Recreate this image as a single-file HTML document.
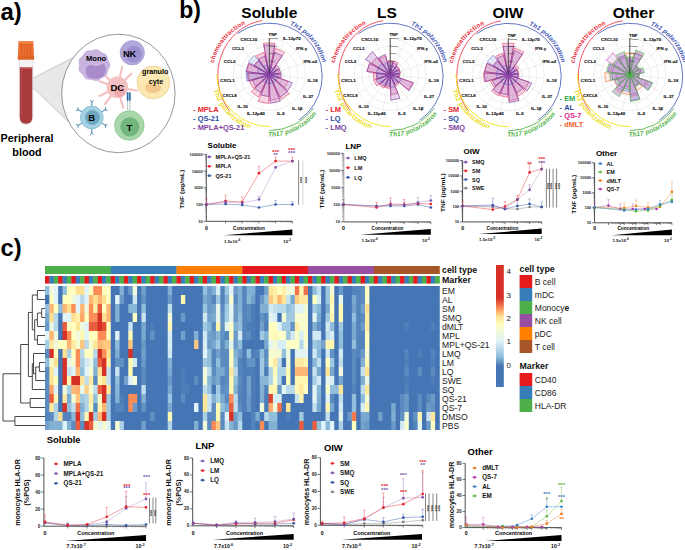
<!DOCTYPE html>
<html><head><meta charset="utf-8"><style>
html,body{margin:0;padding:0;background:#fff;}
svg{display:block;font-family:"Liberation Sans", sans-serif;}
</style></head><body>
<svg width="685" height="550" viewBox="0 0 685 550">
<text x="0.40" y="20.40" font-size="24" font-weight="bold" fill="#000" text-anchor="start" >a)</text>
<polygon points="26.4,81.5 76,56 78,131" fill="#E7E8EA" stroke="#A0A0A0" stroke-width="0.5"/>
<path d="M19.2,58 L19.2,117 Q19.2,124.6 26,124.6 Q32.8,124.6 32.8,117 L32.8,58 Z" fill="#F4F4F4" stroke="#D0D0D0" stroke-width="0.6"/>
<path d="M19.8,67.5 L19.8,117 Q19.8,123.8 26,123.8 Q32.3,123.8 32.3,117 L32.3,67.5 Z" fill="#A83A3E"/>
<rect x="19.8" y="67.3" width="12.5" height="1.5" fill="#C25A5C"/>
<line x1="21.6" y1="70" x2="21.6" y2="116" stroke="#C26466" stroke-width="0.5"/>
<path d="M18.6,41 L33.2,41 L34.1,59.5 L17.8,59.5 Z" fill="#EA6C2D"/>
<rect x="18.6" y="41" width="14.6" height="2.6" rx="1" fill="#F28549"/>
<line x1="18.8" y1="45.2" x2="33.4" y2="45.2" stroke="#D65E22" stroke-width="0.5"/>
<rect x="17.8" y="56.3" width="16.3" height="3.2" fill="#DC6326"/>
<line x1="21.5" y1="44" x2="21.5" y2="56.5" stroke="#D05E26" stroke-width="0.5"/>
<line x1="24.5" y1="44" x2="24.5" y2="56.5" stroke="#D05E26" stroke-width="0.5"/>
<line x1="27.5" y1="44" x2="27.5" y2="56.5" stroke="#D05E26" stroke-width="0.5"/>
<line x1="30.5" y1="44" x2="30.5" y2="56.5" stroke="#D05E26" stroke-width="0.5"/>
<text x="27.00" y="141.90" font-size="10.8" font-weight="bold" fill="#000" text-anchor="middle" >Peripheral</text>
<text x="27.00" y="155.80" font-size="10.8" font-weight="bold" fill="#000" text-anchor="middle" >blood</text>
<ellipse cx="118.4" cy="93.45" rx="56.7" ry="59.25" fill="#fff" stroke="#6A6A6A" stroke-width="0.7"/>
<polygon points="94.10,49.90 96.16,49.48 98.14,50.01 99.83,51.27 101.40,52.46 103.21,53.22 105.15,54.05 106.60,55.51 107.26,57.50 107.63,59.50 108.37,61.28 109.40,63.09 109.90,65.10 109.40,67.11 108.37,68.92 107.63,70.70 107.26,72.70 106.60,74.69 105.15,76.15 103.21,76.98 101.40,77.74 99.83,78.93 98.14,80.19 96.16,80.72 94.10,80.30 92.19,79.62 90.28,79.37 88.20,79.36 86.20,78.78 84.71,77.34 83.65,75.55 82.48,74.02 80.94,72.70 79.54,71.13 79.01,69.14 79.26,67.05 79.50,65.10 79.26,63.15 79.01,61.06 79.54,59.07 80.94,57.50 82.48,56.18 83.65,54.65 84.71,52.86 86.20,51.42 88.20,50.84 90.28,50.83 92.19,50.58" fill="#C8B2DE" stroke="#BBA3D6" stroke-width="0.6"/>
<path d="M86,70 C86,65.5 90,64 94,65.5 C98,67 101,65 103.5,63.5 C106.5,66 106.5,73 103,76.5 C99,79.5 91,79.5 88,77 C86.3,75 85.8,72.5 86,70 Z" fill="#A98BCB"/>
<text x="96.10" y="61.30" font-size="7.6" font-weight="bold" fill="#000" text-anchor="middle" >Mono</text>
<circle cx="132.3" cy="52.8" r="12.2" fill="#B3A8DC" stroke="#A397D2" stroke-width="0.6"/>
<circle cx="133.6" cy="54.2" r="8.2" fill="#9D90D0"/>
<text x="129.60" y="56.90" font-size="9.3" font-weight="bold" fill="#000" text-anchor="middle" >NK</text>
<circle cx="153.4" cy="82.5" r="16.4" fill="#FCE8B2" stroke="#E9CC8A" stroke-width="0.7"/>
<path d="M145.5,86 C147,82 151,83 154,85 C157,83 162,85 161,89 C159,93 152,94 148,92 C145.5,90.5 144.8,88 145.5,86 Z" fill="#F4C88C"/>
<text x="155.20" y="73.70" font-size="7.2" font-weight="bold" fill="#000" text-anchor="middle" >granulo</text>
<text x="156.00" y="83.50" font-size="7.2" font-weight="bold" fill="#000" text-anchor="middle" >cyte</text>
<line x1="117.3" y1="87.3" x2="122.3" y2="66.8" stroke="#F5C2C4" stroke-width="2.2" stroke-linecap="round"/>
<line x1="117.3" y1="87.3" x2="131.4" y2="73.6" stroke="#F5C2C4" stroke-width="2.2" stroke-linecap="round"/>
<line x1="117.3" y1="87.3" x2="99.5" y2="81.4" stroke="#F5C2C4" stroke-width="2.2" stroke-linecap="round"/>
<line x1="117.3" y1="87.3" x2="99.5" y2="96" stroke="#F5C2C4" stroke-width="2.2" stroke-linecap="round"/>
<line x1="117.3" y1="87.3" x2="105" y2="104" stroke="#F5C2C4" stroke-width="2.2" stroke-linecap="round"/>
<line x1="117.3" y1="87.3" x2="123.2" y2="107.7" stroke="#F5C2C4" stroke-width="2.2" stroke-linecap="round"/>
<line x1="117.3" y1="87.3" x2="136.8" y2="90.5" stroke="#F5C2C4" stroke-width="2.2" stroke-linecap="round"/>
<line x1="117.3" y1="87.3" x2="105.9" y2="76.4" stroke="#F5C2C4" stroke-width="2.2" stroke-linecap="round"/>
<circle cx="117.3" cy="87.3" r="10.8" fill="#F5C2C4"/>
<circle cx="119.5" cy="91.5" r="5.5" fill="#EFA9AE"/>
<text x="117.30" y="90.90" font-size="9.5" font-weight="bold" fill="#000" text-anchor="middle" >DC</text>
<line x1="127.6" y1="100.5" x2="127.6" y2="110" stroke="#9AA" stroke-width="0.7"/><line x1="129.9" y1="100.5" x2="129.9" y2="110" stroke="#9AA" stroke-width="0.7"/>
<rect x="126.8" y="92.3" width="1.7" height="8.4" fill="#2466A0"/><rect x="129.1" y="92.3" width="1.6" height="8.4" fill="#2466A0"/>
<line x1="91.8" y1="106.5" x2="91.8" y2="102.0" stroke="#3A7FAA" stroke-width="1"/>
<polyline points="90.1,100.3 91.8,102.0 93.5,100.3" fill="none" stroke="#3A7FAA" stroke-width="1"/>
<line x1="101.3" y1="112.0" x2="105.2" y2="109.8" stroke="#3A7FAA" stroke-width="1"/>
<polyline points="105.8,107.4 105.2,109.8 107.5,110.4" fill="none" stroke="#3A7FAA" stroke-width="1"/>
<line x1="101.3" y1="123.0" x2="105.2" y2="125.2" stroke="#3A7FAA" stroke-width="1"/>
<polyline points="107.5,124.6 105.2,125.2 105.8,127.6" fill="none" stroke="#3A7FAA" stroke-width="1"/>
<line x1="91.8" y1="128.5" x2="91.8" y2="133.0" stroke="#3A7FAA" stroke-width="1"/>
<polyline points="93.5,134.7 91.8,133.0 90.1,134.7" fill="none" stroke="#3A7FAA" stroke-width="1"/>
<line x1="82.3" y1="123.0" x2="78.4" y2="125.2" stroke="#3A7FAA" stroke-width="1"/>
<polyline points="77.8,127.6 78.4,125.2 76.1,124.6" fill="none" stroke="#3A7FAA" stroke-width="1"/>
<line x1="82.3" y1="112.0" x2="78.4" y2="109.8" stroke="#3A7FAA" stroke-width="1"/>
<polyline points="76.1,110.4 78.4,109.8 77.8,107.4" fill="none" stroke="#3A7FAA" stroke-width="1"/>
<circle cx="91.8" cy="117.5" r="11.4" fill="#A3D2E2" stroke="#7DB6CC" stroke-width="0.7"/>
<circle cx="92.5" cy="117.5" r="7.4" fill="#6FA7C0"/>
<text x="91.80" y="121.00" font-size="9.5" font-weight="bold" fill="#000" text-anchor="middle" >B</text>
<circle cx="129.3" cy="125.5" r="14.8" fill="#A9D7AB" stroke="#85C18B" stroke-width="0.7"/>
<circle cx="129.8" cy="126.8" r="9.6" fill="#72B67E"/>
<text x="129.50" y="130.50" font-size="9.5" font-weight="bold" fill="#000" text-anchor="middle" >T</text>
<text x="179.30" y="17.60" font-size="23" font-weight="bold" fill="#000" text-anchor="start" >b)</text>
<text x="269.30" y="17.60" font-size="15.5" font-weight="bold" fill="#000" text-anchor="middle" >Soluble</text>
<circle cx="269.3" cy="74.6" r="36" fill="none" stroke="#E2E2E2" stroke-width="0.6"/>
<circle cx="269.3" cy="74.6" r="28.5" fill="none" stroke="#E2E2E2" stroke-width="0.6"/>
<circle cx="269.3" cy="74.6" r="21" fill="none" stroke="#E2E2E2" stroke-width="0.6"/>
<circle cx="269.3" cy="74.6" r="13.7" fill="none" stroke="#E2E2E2" stroke-width="0.6"/>
<line x1="269.3" y1="74.6" x2="269.30" y2="38.60" stroke="#E2E2E2" stroke-width="0.55"/>
<line x1="269.3" y1="74.6" x2="283.94" y2="41.71" stroke="#E2E2E2" stroke-width="0.55"/>
<line x1="269.3" y1="74.6" x2="296.05" y2="50.51" stroke="#E2E2E2" stroke-width="0.55"/>
<line x1="269.3" y1="74.6" x2="303.54" y2="63.48" stroke="#E2E2E2" stroke-width="0.55"/>
<line x1="269.3" y1="74.6" x2="305.10" y2="78.36" stroke="#E2E2E2" stroke-width="0.55"/>
<line x1="269.3" y1="74.6" x2="300.48" y2="92.60" stroke="#E2E2E2" stroke-width="0.55"/>
<line x1="269.3" y1="74.6" x2="290.46" y2="103.72" stroke="#E2E2E2" stroke-width="0.55"/>
<line x1="269.3" y1="74.6" x2="276.78" y2="109.81" stroke="#E2E2E2" stroke-width="0.55"/>
<line x1="269.3" y1="74.6" x2="261.82" y2="109.81" stroke="#E2E2E2" stroke-width="0.55"/>
<line x1="269.3" y1="74.6" x2="248.14" y2="103.72" stroke="#E2E2E2" stroke-width="0.55"/>
<line x1="269.3" y1="74.6" x2="238.12" y2="92.60" stroke="#E2E2E2" stroke-width="0.55"/>
<line x1="269.3" y1="74.6" x2="233.50" y2="78.36" stroke="#E2E2E2" stroke-width="0.55"/>
<line x1="269.3" y1="74.6" x2="235.06" y2="63.48" stroke="#E2E2E2" stroke-width="0.55"/>
<line x1="269.3" y1="74.6" x2="242.55" y2="50.51" stroke="#E2E2E2" stroke-width="0.55"/>
<line x1="269.3" y1="74.6" x2="254.66" y2="41.71" stroke="#E2E2E2" stroke-width="0.55"/>
<path d="M269.3,74.6 L263.47,43.14 L275.13,43.14 Z" fill="#F084B4" fill-opacity="0.32" stroke="#E03C64" stroke-width="0.6" stroke-linejoin="round"/>
<path d="M269.3,74.6 L275.60,48.35 L284.59,52.35 Z" fill="#F084B4" fill-opacity="0.32" stroke="#E03C64" stroke-width="0.6" stroke-linejoin="round"/>
<path d="M269.3,74.6 L275.39,66.67 L277.83,69.38 Z" fill="#F084B4" fill-opacity="0.32" stroke="#E03C64" stroke-width="0.6" stroke-linejoin="round"/>
<path d="M269.3,74.6 L278.09,69.83 L279.21,73.29 Z" fill="#F084B4" fill-opacity="0.32" stroke="#E03C64" stroke-width="0.6" stroke-linejoin="round"/>
<path d="M269.3,74.6 L280.27,73.74 L279.85,77.72 Z" fill="#F084B4" fill-opacity="0.32" stroke="#E03C64" stroke-width="0.6" stroke-linejoin="round"/>
<path d="M269.3,74.6 L288.15,81.28 L284.51,87.59 Z" fill="#F084B4" fill-opacity="0.32" stroke="#E03C64" stroke-width="0.6" stroke-linejoin="round"/>
<path d="M269.3,74.6 L289.25,93.53 L281.14,99.42 Z" fill="#F084B4" fill-opacity="0.32" stroke="#E03C64" stroke-width="0.6" stroke-linejoin="round"/>
<path d="M269.3,74.6 L279.25,98.62 L269.98,100.59 Z" fill="#F084B4" fill-opacity="0.32" stroke="#E03C64" stroke-width="0.6" stroke-linejoin="round"/>
<path d="M269.3,74.6 L268.54,103.59 L258.20,101.39 Z" fill="#F084B4" fill-opacity="0.32" stroke="#E03C64" stroke-width="0.6" stroke-linejoin="round"/>
<path d="M269.3,74.6 L258.54,97.16 L251.17,91.81 Z" fill="#F084B4" fill-opacity="0.32" stroke="#E03C64" stroke-width="0.6" stroke-linejoin="round"/>
<path d="M269.3,74.6 L253.33,88.24 L249.50,81.61 Z" fill="#F084B4" fill-opacity="0.32" stroke="#E03C64" stroke-width="0.6" stroke-linejoin="round"/>
<path d="M269.3,74.6 L249.16,80.56 L248.36,72.95 Z" fill="#F084B4" fill-opacity="0.32" stroke="#E03C64" stroke-width="0.6" stroke-linejoin="round"/>
<path d="M269.3,74.6 L246.50,71.60 L249.09,63.63 Z" fill="#F084B4" fill-opacity="0.32" stroke="#E03C64" stroke-width="0.6" stroke-linejoin="round"/>
<path d="M269.3,74.6 L254.81,65.72 L258.95,61.11 Z" fill="#F084B4" fill-opacity="0.32" stroke="#E03C64" stroke-width="0.6" stroke-linejoin="round"/>
<path d="M269.3,74.6 L256.27,55.65 L263.93,52.24 Z" fill="#F084B4" fill-opacity="0.32" stroke="#E03C64" stroke-width="0.6" stroke-linejoin="round"/>
<path d="M269.3,74.6 L267.84,66.73 L270.76,66.73 Z" fill="#9AA4E4" fill-opacity="0.22" stroke="#5566C8" stroke-width="0.55" stroke-linejoin="round"/>
<path d="M269.3,74.6 L270.93,67.79 L273.26,68.83 Z" fill="#9AA4E4" fill-opacity="0.22" stroke="#5566C8" stroke-width="0.55" stroke-linejoin="round"/>
<path d="M269.3,74.6 L274.17,68.25 L276.12,70.42 Z" fill="#9AA4E4" fill-opacity="0.22" stroke="#5566C8" stroke-width="0.55" stroke-linejoin="round"/>
<path d="M269.3,74.6 L275.45,71.26 L276.24,73.69 Z" fill="#9AA4E4" fill-opacity="0.22" stroke="#5566C8" stroke-width="0.55" stroke-linejoin="round"/>
<path d="M269.3,74.6 L278.27,73.89 L277.93,77.16 Z" fill="#9AA4E4" fill-opacity="0.22" stroke="#5566C8" stroke-width="0.55" stroke-linejoin="round"/>
<path d="M269.3,74.6 L277.78,77.60 L276.14,80.45 Z" fill="#9AA4E4" fill-opacity="0.22" stroke="#5566C8" stroke-width="0.55" stroke-linejoin="round"/>
<path d="M269.3,74.6 L275.83,80.80 L273.17,82.72 Z" fill="#9AA4E4" fill-opacity="0.22" stroke="#5566C8" stroke-width="0.55" stroke-linejoin="round"/>
<path d="M269.3,74.6 L272.74,82.91 L269.54,83.60 Z" fill="#9AA4E4" fill-opacity="0.22" stroke="#5566C8" stroke-width="0.55" stroke-linejoin="round"/>
<path d="M269.3,74.6 L269.06,83.60 L265.86,82.91 Z" fill="#9AA4E4" fill-opacity="0.22" stroke="#5566C8" stroke-width="0.55" stroke-linejoin="round"/>
<path d="M269.3,74.6 L265.43,82.72 L262.77,80.80 Z" fill="#9AA4E4" fill-opacity="0.22" stroke="#5566C8" stroke-width="0.55" stroke-linejoin="round"/>
<path d="M269.3,74.6 L263.22,79.80 L261.76,77.27 Z" fill="#9AA4E4" fill-opacity="0.22" stroke="#5566C8" stroke-width="0.55" stroke-linejoin="round"/>
<path d="M269.3,74.6 L246.86,81.25 L245.97,72.76 Z" fill="#9AA4E4" fill-opacity="0.22" stroke="#5566C8" stroke-width="0.55" stroke-linejoin="round"/>
<path d="M269.3,74.6 L257.40,73.03 L258.75,68.87 Z" fill="#9AA4E4" fill-opacity="0.22" stroke="#5566C8" stroke-width="0.55" stroke-linejoin="round"/>
<path d="M269.3,74.6 L248.50,61.85 L254.45,55.24 Z" fill="#9AA4E4" fill-opacity="0.22" stroke="#5566C8" stroke-width="0.55" stroke-linejoin="round"/>
<path d="M269.3,74.6 L263.64,66.36 L266.97,64.88 Z" fill="#9AA4E4" fill-opacity="0.22" stroke="#5566C8" stroke-width="0.55" stroke-linejoin="round"/>
<path d="M269.3,74.6 L263.83,45.10 L274.77,45.10 Z" fill="#A060BC" fill-opacity="0.25" stroke="#88369A" stroke-width="0.65" stroke-linejoin="round"/>
<path d="M269.3,74.6 L274.67,52.24 L282.33,55.65 Z" fill="#A060BC" fill-opacity="0.25" stroke="#88369A" stroke-width="0.65" stroke-linejoin="round"/>
<path d="M269.3,74.6 L276.61,65.08 L279.53,68.33 Z" fill="#A060BC" fill-opacity="0.25" stroke="#88369A" stroke-width="0.65" stroke-linejoin="round"/>
<path d="M269.3,74.6 L279.41,69.11 L280.70,73.10 Z" fill="#A060BC" fill-opacity="0.25" stroke="#88369A" stroke-width="0.65" stroke-linejoin="round"/>
<path d="M269.3,74.6 L281.26,73.66 L280.81,78.01 Z" fill="#A060BC" fill-opacity="0.25" stroke="#88369A" stroke-width="0.65" stroke-linejoin="round"/>
<path d="M269.3,74.6 L292.39,82.78 L287.93,90.51 Z" fill="#A060BC" fill-opacity="0.25" stroke="#88369A" stroke-width="0.65" stroke-linejoin="round"/>
<path d="M269.3,74.6 L287.43,91.81 L280.06,97.16 Z" fill="#A060BC" fill-opacity="0.25" stroke="#88369A" stroke-width="0.65" stroke-linejoin="round"/>
<path d="M269.3,74.6 L280.28,101.12 L270.05,103.29 Z" fill="#A060BC" fill-opacity="0.25" stroke="#88369A" stroke-width="0.65" stroke-linejoin="round"/>
<path d="M269.3,74.6 L268.72,96.59 L260.88,94.93 Z" fill="#A060BC" fill-opacity="0.25" stroke="#88369A" stroke-width="0.65" stroke-linejoin="round"/>
<path d="M269.3,74.6 L260.69,92.65 L254.79,88.37 Z" fill="#A060BC" fill-opacity="0.25" stroke="#88369A" stroke-width="0.65" stroke-linejoin="round"/>
<path d="M269.3,74.6 L255.61,86.29 L252.33,80.61 Z" fill="#A060BC" fill-opacity="0.25" stroke="#88369A" stroke-width="0.65" stroke-linejoin="round"/>
<path d="M269.3,74.6 L248.21,80.85 L247.37,72.87 Z" fill="#A060BC" fill-opacity="0.25" stroke="#88369A" stroke-width="0.65" stroke-linejoin="round"/>
<path d="M269.3,74.6 L245.90,71.52 L248.56,63.34 Z" fill="#A060BC" fill-opacity="0.25" stroke="#88369A" stroke-width="0.65" stroke-linejoin="round"/>
<path d="M269.3,74.6 L253.95,65.20 L258.34,60.32 Z" fill="#A060BC" fill-opacity="0.25" stroke="#88369A" stroke-width="0.65" stroke-linejoin="round"/>
<path d="M269.3,74.6 L258.54,58.94 L264.86,56.12 Z" fill="#A060BC" fill-opacity="0.25" stroke="#88369A" stroke-width="0.65" stroke-linejoin="round"/>
<circle cx="269.3" cy="74.6" r="2.6" fill="#8E44AD"/>
<line x1="269.3" y1="74.6" x2="269.3" y2="37.99999999999999" stroke="#333" stroke-width="0.85"/>
<line x1="269.3" y1="60.80" x2="270.5" y2="60.80" stroke="#333" stroke-width="0.6"/>
<text x="270.40" y="61.60" font-size="2.3" font-weight="bold" fill="#444">100</text>
<line x1="269.3" y1="53.40" x2="270.5" y2="53.40" stroke="#333" stroke-width="0.6"/>
<text x="270.40" y="54.20" font-size="2.3" font-weight="bold" fill="#444">1000</text>
<line x1="269.3" y1="46.10" x2="270.5" y2="46.10" stroke="#333" stroke-width="0.6"/>
<text x="270.40" y="46.90" font-size="2.3" font-weight="bold" fill="#444">10000</text>
<line x1="269.3" y1="38.60" x2="270.5" y2="38.60" stroke="#333" stroke-width="0.6"/>
<text x="270.40" y="39.40" font-size="2.3" font-weight="bold" fill="#444">100000</text>
<text x="272.80" y="36.40" font-size="4.4" font-weight="bold" fill="#111" text-anchor="middle" stroke="#111" stroke-width="0.12">TNF</text>
<text x="291.80" y="40.40" font-size="4.4" font-weight="bold" fill="#111" text-anchor="middle" stroke="#111" stroke-width="0.12">IL-12p70</text>
<text x="301.60" y="50.00" font-size="4.4" font-weight="bold" fill="#111" text-anchor="middle" stroke="#111" stroke-width="0.12">IFN-γ</text>
<text x="310.30" y="63.10" font-size="4.4" font-weight="bold" fill="#111" text-anchor="middle" stroke="#111" stroke-width="0.12">IFN-α2</text>
<text x="312.60" y="81.80" font-size="4.4" font-weight="bold" fill="#111" text-anchor="middle" stroke="#111" stroke-width="0.12">IL-18</text>
<text x="308.20" y="97.50" font-size="4.4" font-weight="bold" fill="#111" text-anchor="middle" stroke="#111" stroke-width="0.12">IL-27</text>
<text x="297.30" y="109.50" font-size="4.4" font-weight="bold" fill="#111" text-anchor="middle" stroke="#111" stroke-width="0.12">IL-1β</text>
<text x="280.90" y="115.00" font-size="4.4" font-weight="bold" fill="#111" text-anchor="middle" stroke="#111" stroke-width="0.12">IL-6</text>
<text x="255.80" y="115.00" font-size="4.4" font-weight="bold" fill="#111" text-anchor="middle" stroke="#111" stroke-width="0.12">IL-12p40</text>
<text x="242.70" y="108.00" font-size="4.4" font-weight="bold" fill="#111" text-anchor="middle" stroke="#111" stroke-width="0.12">IL-10</text>
<text x="229.60" y="96.90" font-size="4.4" font-weight="bold" fill="#111" text-anchor="middle" stroke="#111" stroke-width="0.12">CXCL8</text>
<text x="227.50" y="81.80" font-size="4.4" font-weight="bold" fill="#111" text-anchor="middle" stroke="#111" stroke-width="0.12">CXCL1</text>
<text x="229.60" y="63.10" font-size="4.4" font-weight="bold" fill="#111" text-anchor="middle" stroke="#111" stroke-width="0.12">CCL2</text>
<text x="237.90" y="50.00" font-size="4.4" font-weight="bold" fill="#111" text-anchor="middle" stroke="#111" stroke-width="0.12">CCL3</text>
<text x="248.80" y="40.80" font-size="4.4" font-weight="bold" fill="#111" text-anchor="middle" stroke="#111" stroke-width="0.12">CXCL10</text>
<path d="M229.28,110.53 A51.5,55.5 0 0 1 262.13,20.64" fill="none" stroke="#EE2D3A" stroke-width="0.8"/>
<path d="M237.40,33.77 A53,53 0 1 1 298.94,120.04" fill="none" stroke="#3B53B5" stroke-width="0.8"/>
<path d="M216.80,74.10 A53,52.5 0 0 0 269.80,126.60" fill="none" stroke="#F2E61A" stroke-width="0.9"/>
<path d="M269.30,130.60 A54.5,54.5 0 0 0 313.39,108.13" fill="none" stroke="#55B54A" stroke-width="0.9"/>
<path id="ap1" d="M213.76,63.28 A57.0,57.0 0 0 1 268.31,19.11" fill="none"/>
<text font-size="6.4" font-weight="bold" font-style="normal" letter-spacing="0.15" fill="#EE2D3A"><textPath href="#ap1">chemoattraction</textPath></text>
<path id="ap2" d="M289.90,25.10 A55,55 0 0 1 320.98,94.91" fill="none"/>
<text font-size="6.4" font-weight="bold" font-style="italic" letter-spacing="0.15" fill="#3B53B5"><textPath href="#ap2">Th1 polarization</textPath></text>
<path id="ap3" d="M213.47,90.14 A58.6,58.2 0 0 0 289.84,128.79" fill="none"/>
<text font-size="6.9" font-weight="bold" font-style="normal" letter-spacing="0.15" fill="#ECDD22"><textPath href="#ap3">Th2 polarization</textPath></text>
<path id="ap4" d="M268.24,136.59 A60.5,60.5 0 0 0 328.88,86.61" fill="none"/>
<text font-size="6.4" font-weight="bold" font-style="italic" letter-spacing="0.15" fill="#4FB244"><textPath href="#ap4">Th17 polarization</textPath></text>
<text x="386.90" y="17.60" font-size="15.5" font-weight="bold" fill="#000" text-anchor="middle" >LS</text>
<circle cx="390.2" cy="74.6" r="36" fill="none" stroke="#E2E2E2" stroke-width="0.6"/>
<circle cx="390.2" cy="74.6" r="28.5" fill="none" stroke="#E2E2E2" stroke-width="0.6"/>
<circle cx="390.2" cy="74.6" r="21" fill="none" stroke="#E2E2E2" stroke-width="0.6"/>
<circle cx="390.2" cy="74.6" r="13.7" fill="none" stroke="#E2E2E2" stroke-width="0.6"/>
<line x1="390.2" y1="74.6" x2="390.20" y2="38.60" stroke="#E2E2E2" stroke-width="0.55"/>
<line x1="390.2" y1="74.6" x2="404.84" y2="41.71" stroke="#E2E2E2" stroke-width="0.55"/>
<line x1="390.2" y1="74.6" x2="416.95" y2="50.51" stroke="#E2E2E2" stroke-width="0.55"/>
<line x1="390.2" y1="74.6" x2="424.44" y2="63.48" stroke="#E2E2E2" stroke-width="0.55"/>
<line x1="390.2" y1="74.6" x2="426.00" y2="78.36" stroke="#E2E2E2" stroke-width="0.55"/>
<line x1="390.2" y1="74.6" x2="421.38" y2="92.60" stroke="#E2E2E2" stroke-width="0.55"/>
<line x1="390.2" y1="74.6" x2="411.36" y2="103.72" stroke="#E2E2E2" stroke-width="0.55"/>
<line x1="390.2" y1="74.6" x2="397.68" y2="109.81" stroke="#E2E2E2" stroke-width="0.55"/>
<line x1="390.2" y1="74.6" x2="382.72" y2="109.81" stroke="#E2E2E2" stroke-width="0.55"/>
<line x1="390.2" y1="74.6" x2="369.04" y2="103.72" stroke="#E2E2E2" stroke-width="0.55"/>
<line x1="390.2" y1="74.6" x2="359.02" y2="92.60" stroke="#E2E2E2" stroke-width="0.55"/>
<line x1="390.2" y1="74.6" x2="354.40" y2="78.36" stroke="#E2E2E2" stroke-width="0.55"/>
<line x1="390.2" y1="74.6" x2="355.96" y2="63.48" stroke="#E2E2E2" stroke-width="0.55"/>
<line x1="390.2" y1="74.6" x2="363.45" y2="50.51" stroke="#E2E2E2" stroke-width="0.55"/>
<line x1="390.2" y1="74.6" x2="375.56" y2="41.71" stroke="#E2E2E2" stroke-width="0.55"/>
<path d="M390.2,74.6 L387.65,60.83 L392.75,60.83 Z" fill="#F084B4" fill-opacity="0.32" stroke="#E03C64" stroke-width="0.6" stroke-linejoin="round"/>
<path d="M390.2,74.6 L393.47,60.99 L398.13,63.06 Z" fill="#F084B4" fill-opacity="0.32" stroke="#E03C64" stroke-width="0.6" stroke-linejoin="round"/>
<path d="M390.2,74.6 L396.90,65.87 L399.58,68.85 Z" fill="#F084B4" fill-opacity="0.32" stroke="#E03C64" stroke-width="0.6" stroke-linejoin="round"/>
<path d="M390.2,74.6 L399.43,69.59 L400.61,73.23 Z" fill="#F084B4" fill-opacity="0.32" stroke="#E03C64" stroke-width="0.6" stroke-linejoin="round"/>
<path d="M390.2,74.6 L399.77,73.85 L399.40,77.33 Z" fill="#F084B4" fill-opacity="0.32" stroke="#E03C64" stroke-width="0.6" stroke-linejoin="round"/>
<path d="M390.2,74.6 L412.82,82.61 L408.45,90.19 Z" fill="#F084B4" fill-opacity="0.32" stroke="#E03C64" stroke-width="0.6" stroke-linejoin="round"/>
<path d="M390.2,74.6 L399.19,83.14 L395.54,85.79 Z" fill="#F084B4" fill-opacity="0.32" stroke="#E03C64" stroke-width="0.6" stroke-linejoin="round"/>
<path d="M390.2,74.6 L397.85,93.08 L390.72,94.59 Z" fill="#F084B4" fill-opacity="0.32" stroke="#E03C64" stroke-width="0.6" stroke-linejoin="round"/>
<path d="M390.2,74.6 L389.84,88.50 L384.88,87.44 Z" fill="#F084B4" fill-opacity="0.32" stroke="#E03C64" stroke-width="0.6" stroke-linejoin="round"/>
<path d="M390.2,74.6 L383.74,88.14 L379.32,84.93 Z" fill="#F084B4" fill-opacity="0.32" stroke="#E03C64" stroke-width="0.6" stroke-linejoin="round"/>
<path d="M390.2,74.6 L376.82,86.03 L373.61,80.48 Z" fill="#F084B4" fill-opacity="0.32" stroke="#E03C64" stroke-width="0.6" stroke-linejoin="round"/>
<path d="M390.2,74.6 L373.80,79.46 L373.15,73.26 Z" fill="#F084B4" fill-opacity="0.32" stroke="#E03C64" stroke-width="0.6" stroke-linejoin="round"/>
<path d="M390.2,74.6 L366.90,71.53 L369.55,63.39 Z" fill="#F084B4" fill-opacity="0.32" stroke="#E03C64" stroke-width="0.6" stroke-linejoin="round"/>
<path d="M390.2,74.6 L371.44,63.11 L376.81,57.15 Z" fill="#F084B4" fill-opacity="0.32" stroke="#E03C64" stroke-width="0.6" stroke-linejoin="round"/>
<path d="M390.2,74.6 L379.44,58.94 L385.76,56.12 Z" fill="#F084B4" fill-opacity="0.32" stroke="#E03C64" stroke-width="0.6" stroke-linejoin="round"/>
<path d="M390.2,74.6 L388.56,65.75 L391.84,65.75 Z" fill="#9AA4E4" fill-opacity="0.22" stroke="#5566C8" stroke-width="0.55" stroke-linejoin="round"/>
<path d="M390.2,74.6 L392.30,65.85 L395.30,67.18 Z" fill="#9AA4E4" fill-opacity="0.22" stroke="#5566C8" stroke-width="0.55" stroke-linejoin="round"/>
<path d="M390.2,74.6 L395.07,68.25 L397.02,70.42 Z" fill="#9AA4E4" fill-opacity="0.22" stroke="#5566C8" stroke-width="0.55" stroke-linejoin="round"/>
<path d="M390.2,74.6 L397.23,70.78 L398.13,73.56 Z" fill="#9AA4E4" fill-opacity="0.22" stroke="#5566C8" stroke-width="0.55" stroke-linejoin="round"/>
<path d="M390.2,74.6 L398.18,73.97 L397.87,76.87 Z" fill="#9AA4E4" fill-opacity="0.22" stroke="#5566C8" stroke-width="0.55" stroke-linejoin="round"/>
<path d="M390.2,74.6 L401.51,78.61 L399.32,82.39 Z" fill="#9AA4E4" fill-opacity="0.22" stroke="#5566C8" stroke-width="0.55" stroke-linejoin="round"/>
<path d="M390.2,74.6 L396.73,80.80 L394.07,82.72 Z" fill="#9AA4E4" fill-opacity="0.22" stroke="#5566C8" stroke-width="0.55" stroke-linejoin="round"/>
<path d="M390.2,74.6 L395.17,86.61 L390.54,87.60 Z" fill="#9AA4E4" fill-opacity="0.22" stroke="#5566C8" stroke-width="0.55" stroke-linejoin="round"/>
<path d="M390.2,74.6 L389.94,84.60 L386.37,83.84 Z" fill="#9AA4E4" fill-opacity="0.22" stroke="#5566C8" stroke-width="0.55" stroke-linejoin="round"/>
<path d="M390.2,74.6 L385.46,84.53 L382.22,82.17 Z" fill="#9AA4E4" fill-opacity="0.22" stroke="#5566C8" stroke-width="0.55" stroke-linejoin="round"/>
<path d="M390.2,74.6 L381.08,82.39 L378.89,78.61 Z" fill="#9AA4E4" fill-opacity="0.22" stroke="#5566C8" stroke-width="0.55" stroke-linejoin="round"/>
<path d="M390.2,74.6 L377.74,78.29 L377.24,73.58 Z" fill="#9AA4E4" fill-opacity="0.22" stroke="#5566C8" stroke-width="0.55" stroke-linejoin="round"/>
<path d="M390.2,74.6 L376.32,72.77 L377.90,67.92 Z" fill="#9AA4E4" fill-opacity="0.22" stroke="#5566C8" stroke-width="0.55" stroke-linejoin="round"/>
<path d="M390.2,74.6 L378.26,67.29 L381.68,63.49 Z" fill="#9AA4E4" fill-opacity="0.22" stroke="#5566C8" stroke-width="0.55" stroke-linejoin="round"/>
<path d="M390.2,74.6 L383.40,64.71 L387.40,62.93 Z" fill="#9AA4E4" fill-opacity="0.22" stroke="#5566C8" stroke-width="0.55" stroke-linejoin="round"/>
<path d="M390.2,74.6 L387.83,61.82 L392.57,61.82 Z" fill="#A060BC" fill-opacity="0.25" stroke="#88369A" stroke-width="0.65" stroke-linejoin="round"/>
<path d="M390.2,74.6 L393.00,62.93 L397.00,64.71 Z" fill="#A060BC" fill-opacity="0.25" stroke="#88369A" stroke-width="0.65" stroke-linejoin="round"/>
<path d="M390.2,74.6 L396.29,66.67 L398.73,69.38 Z" fill="#A060BC" fill-opacity="0.25" stroke="#88369A" stroke-width="0.65" stroke-linejoin="round"/>
<path d="M390.2,74.6 L398.99,69.83 L400.11,73.29 Z" fill="#A060BC" fill-opacity="0.25" stroke="#88369A" stroke-width="0.65" stroke-linejoin="round"/>
<path d="M390.2,74.6 L399.17,73.89 L398.83,77.16 Z" fill="#A060BC" fill-opacity="0.25" stroke="#88369A" stroke-width="0.65" stroke-linejoin="round"/>
<path d="M390.2,74.6 L413.58,82.88 L409.06,90.71 Z" fill="#A060BC" fill-opacity="0.25" stroke="#88369A" stroke-width="0.65" stroke-linejoin="round"/>
<path d="M390.2,74.6 L398.18,82.17 L394.94,84.53 Z" fill="#A060BC" fill-opacity="0.25" stroke="#88369A" stroke-width="0.65" stroke-linejoin="round"/>
<path d="M390.2,74.6 L400.00,98.25 L390.87,100.19 Z" fill="#A060BC" fill-opacity="0.25" stroke="#88369A" stroke-width="0.65" stroke-linejoin="round"/>
<path d="M390.2,74.6 L389.89,86.60 L385.61,85.69 Z" fill="#A060BC" fill-opacity="0.25" stroke="#88369A" stroke-width="0.65" stroke-linejoin="round"/>
<path d="M390.2,74.6 L384.60,86.33 L380.77,83.55 Z" fill="#A060BC" fill-opacity="0.25" stroke="#88369A" stroke-width="0.65" stroke-linejoin="round"/>
<path d="M390.2,74.6 L378.79,84.34 L376.06,79.61 Z" fill="#A060BC" fill-opacity="0.25" stroke="#88369A" stroke-width="0.65" stroke-linejoin="round"/>
<path d="M390.2,74.6 L376.78,78.58 L376.24,73.50 Z" fill="#A060BC" fill-opacity="0.25" stroke="#88369A" stroke-width="0.65" stroke-linejoin="round"/>
<path d="M390.2,74.6 L366.90,71.53 L369.55,63.39 Z" fill="#A060BC" fill-opacity="0.25" stroke="#88369A" stroke-width="0.65" stroke-linejoin="round"/>
<path d="M390.2,74.6 L365.47,59.45 L372.55,51.59 Z" fill="#A060BC" fill-opacity="0.25" stroke="#88369A" stroke-width="0.65" stroke-linejoin="round"/>
<path d="M390.2,74.6 L378.59,57.71 L385.41,54.67 Z" fill="#A060BC" fill-opacity="0.25" stroke="#88369A" stroke-width="0.65" stroke-linejoin="round"/>
<circle cx="390.2" cy="74.6" r="2.6" fill="#8E44AD"/>
<line x1="390.2" y1="74.6" x2="390.2" y2="37.99999999999999" stroke="#333" stroke-width="0.85"/>
<line x1="390.2" y1="60.80" x2="391.4" y2="60.80" stroke="#333" stroke-width="0.6"/>
<text x="391.30" y="61.60" font-size="2.3" font-weight="bold" fill="#444">100</text>
<line x1="390.2" y1="53.40" x2="391.4" y2="53.40" stroke="#333" stroke-width="0.6"/>
<text x="391.30" y="54.20" font-size="2.3" font-weight="bold" fill="#444">1000</text>
<line x1="390.2" y1="46.10" x2="391.4" y2="46.10" stroke="#333" stroke-width="0.6"/>
<text x="391.30" y="46.90" font-size="2.3" font-weight="bold" fill="#444">10000</text>
<line x1="390.2" y1="38.60" x2="391.4" y2="38.60" stroke="#333" stroke-width="0.6"/>
<text x="391.30" y="39.40" font-size="2.3" font-weight="bold" fill="#444">100000</text>
<text x="393.70" y="36.40" font-size="4.4" font-weight="bold" fill="#111" text-anchor="middle" stroke="#111" stroke-width="0.12">TNF</text>
<text x="412.70" y="40.40" font-size="4.4" font-weight="bold" fill="#111" text-anchor="middle" stroke="#111" stroke-width="0.12">IL-12p70</text>
<text x="422.50" y="50.00" font-size="4.4" font-weight="bold" fill="#111" text-anchor="middle" stroke="#111" stroke-width="0.12">IFN-γ</text>
<text x="431.20" y="63.10" font-size="4.4" font-weight="bold" fill="#111" text-anchor="middle" stroke="#111" stroke-width="0.12">IFN-α2</text>
<text x="433.50" y="81.80" font-size="4.4" font-weight="bold" fill="#111" text-anchor="middle" stroke="#111" stroke-width="0.12">IL-18</text>
<text x="429.10" y="97.50" font-size="4.4" font-weight="bold" fill="#111" text-anchor="middle" stroke="#111" stroke-width="0.12">IL-27</text>
<text x="418.20" y="109.50" font-size="4.4" font-weight="bold" fill="#111" text-anchor="middle" stroke="#111" stroke-width="0.12">IL-1β</text>
<text x="401.80" y="115.00" font-size="4.4" font-weight="bold" fill="#111" text-anchor="middle" stroke="#111" stroke-width="0.12">IL-6</text>
<text x="376.70" y="115.00" font-size="4.4" font-weight="bold" fill="#111" text-anchor="middle" stroke="#111" stroke-width="0.12">IL-12p40</text>
<text x="363.60" y="108.00" font-size="4.4" font-weight="bold" fill="#111" text-anchor="middle" stroke="#111" stroke-width="0.12">IL-10</text>
<text x="350.50" y="96.90" font-size="4.4" font-weight="bold" fill="#111" text-anchor="middle" stroke="#111" stroke-width="0.12">CXCL8</text>
<text x="348.40" y="81.80" font-size="4.4" font-weight="bold" fill="#111" text-anchor="middle" stroke="#111" stroke-width="0.12">CXCL1</text>
<text x="350.50" y="63.10" font-size="4.4" font-weight="bold" fill="#111" text-anchor="middle" stroke="#111" stroke-width="0.12">CCL2</text>
<text x="358.80" y="50.00" font-size="4.4" font-weight="bold" fill="#111" text-anchor="middle" stroke="#111" stroke-width="0.12">CCL3</text>
<text x="369.70" y="40.80" font-size="4.4" font-weight="bold" fill="#111" text-anchor="middle" stroke="#111" stroke-width="0.12">CXCL10</text>
<path d="M350.18,110.53 A51.5,55.5 0 0 1 383.03,20.64" fill="none" stroke="#EE2D3A" stroke-width="0.8"/>
<path d="M358.30,33.77 A53,53 0 1 1 419.84,120.04" fill="none" stroke="#3B53B5" stroke-width="0.8"/>
<path d="M337.70,74.10 A53,52.5 0 0 0 390.70,126.60" fill="none" stroke="#F2E61A" stroke-width="0.9"/>
<path d="M390.20,130.60 A54.5,54.5 0 0 0 434.29,108.13" fill="none" stroke="#55B54A" stroke-width="0.9"/>
<path id="ap5" d="M334.66,63.28 A57.0,57.0 0 0 1 389.21,19.11" fill="none"/>
<text font-size="6.4" font-weight="bold" font-style="normal" letter-spacing="0.15" fill="#EE2D3A"><textPath href="#ap5">chemoattraction</textPath></text>
<path id="ap6" d="M410.80,25.10 A55,55 0 0 1 441.88,94.91" fill="none"/>
<text font-size="6.4" font-weight="bold" font-style="italic" letter-spacing="0.15" fill="#3B53B5"><textPath href="#ap6">Th1 polarization</textPath></text>
<path id="ap7" d="M334.37,90.14 A58.6,58.2 0 0 0 410.74,128.79" fill="none"/>
<text font-size="6.9" font-weight="bold" font-style="normal" letter-spacing="0.15" fill="#ECDD22"><textPath href="#ap7">Th2 polarization</textPath></text>
<path id="ap8" d="M389.14,136.59 A60.5,60.5 0 0 0 449.78,86.61" fill="none"/>
<text font-size="6.4" font-weight="bold" font-style="italic" letter-spacing="0.15" fill="#4FB244"><textPath href="#ap8">Th17 polarization</textPath></text>
<text x="508.00" y="17.60" font-size="15.5" font-weight="bold" fill="#000" text-anchor="middle" >OIW</text>
<circle cx="508.3" cy="74.8" r="36" fill="none" stroke="#E2E2E2" stroke-width="0.6"/>
<circle cx="508.3" cy="74.8" r="28.5" fill="none" stroke="#E2E2E2" stroke-width="0.6"/>
<circle cx="508.3" cy="74.8" r="21" fill="none" stroke="#E2E2E2" stroke-width="0.6"/>
<circle cx="508.3" cy="74.8" r="13.7" fill="none" stroke="#E2E2E2" stroke-width="0.6"/>
<line x1="508.3" y1="74.8" x2="508.30" y2="38.80" stroke="#E2E2E2" stroke-width="0.55"/>
<line x1="508.3" y1="74.8" x2="522.94" y2="41.91" stroke="#E2E2E2" stroke-width="0.55"/>
<line x1="508.3" y1="74.8" x2="535.05" y2="50.71" stroke="#E2E2E2" stroke-width="0.55"/>
<line x1="508.3" y1="74.8" x2="542.54" y2="63.68" stroke="#E2E2E2" stroke-width="0.55"/>
<line x1="508.3" y1="74.8" x2="544.10" y2="78.56" stroke="#E2E2E2" stroke-width="0.55"/>
<line x1="508.3" y1="74.8" x2="539.48" y2="92.80" stroke="#E2E2E2" stroke-width="0.55"/>
<line x1="508.3" y1="74.8" x2="529.46" y2="103.92" stroke="#E2E2E2" stroke-width="0.55"/>
<line x1="508.3" y1="74.8" x2="515.78" y2="110.01" stroke="#E2E2E2" stroke-width="0.55"/>
<line x1="508.3" y1="74.8" x2="500.82" y2="110.01" stroke="#E2E2E2" stroke-width="0.55"/>
<line x1="508.3" y1="74.8" x2="487.14" y2="103.92" stroke="#E2E2E2" stroke-width="0.55"/>
<line x1="508.3" y1="74.8" x2="477.12" y2="92.80" stroke="#E2E2E2" stroke-width="0.55"/>
<line x1="508.3" y1="74.8" x2="472.50" y2="78.56" stroke="#E2E2E2" stroke-width="0.55"/>
<line x1="508.3" y1="74.8" x2="474.06" y2="63.68" stroke="#E2E2E2" stroke-width="0.55"/>
<line x1="508.3" y1="74.8" x2="481.55" y2="50.71" stroke="#E2E2E2" stroke-width="0.55"/>
<line x1="508.3" y1="74.8" x2="493.66" y2="41.91" stroke="#E2E2E2" stroke-width="0.55"/>
<path d="M508.3,74.8 L502.47,43.34 L514.13,43.34 Z" fill="#F084B4" fill-opacity="0.32" stroke="#E03C64" stroke-width="0.6" stroke-linejoin="round"/>
<path d="M508.3,74.8 L514.70,48.16 L523.82,52.22 Z" fill="#F084B4" fill-opacity="0.32" stroke="#E03C64" stroke-width="0.6" stroke-linejoin="round"/>
<path d="M508.3,74.8 L515.91,64.88 L518.96,68.27 Z" fill="#F084B4" fill-opacity="0.32" stroke="#E03C64" stroke-width="0.6" stroke-linejoin="round"/>
<path d="M508.3,74.8 L517.53,69.79 L518.71,73.43 Z" fill="#F084B4" fill-opacity="0.32" stroke="#E03C64" stroke-width="0.6" stroke-linejoin="round"/>
<path d="M508.3,74.8 L518.87,73.97 L518.46,77.81 Z" fill="#F084B4" fill-opacity="0.32" stroke="#E03C64" stroke-width="0.6" stroke-linejoin="round"/>
<path d="M508.3,74.8 L529.04,82.14 L525.03,89.09 Z" fill="#F084B4" fill-opacity="0.32" stroke="#E03C64" stroke-width="0.6" stroke-linejoin="round"/>
<path d="M508.3,74.8 L525.42,91.05 L518.46,96.10 Z" fill="#F084B4" fill-opacity="0.32" stroke="#E03C64" stroke-width="0.6" stroke-linejoin="round"/>
<path d="M508.3,74.8 L518.25,98.82 L508.98,100.79 Z" fill="#F084B4" fill-opacity="0.32" stroke="#E03C64" stroke-width="0.6" stroke-linejoin="round"/>
<path d="M508.3,74.8 L507.71,97.29 L499.69,95.59 Z" fill="#F084B4" fill-opacity="0.32" stroke="#E03C64" stroke-width="0.6" stroke-linejoin="round"/>
<path d="M508.3,74.8 L498.27,95.83 L491.40,90.84 Z" fill="#F084B4" fill-opacity="0.32" stroke="#E03C64" stroke-width="0.6" stroke-linejoin="round"/>
<path d="M508.3,74.8 L493.85,87.14 L490.39,81.14 Z" fill="#F084B4" fill-opacity="0.32" stroke="#E03C64" stroke-width="0.6" stroke-linejoin="round"/>
<path d="M508.3,74.8 L484.33,81.90 L483.38,72.84 Z" fill="#F084B4" fill-opacity="0.32" stroke="#E03C64" stroke-width="0.6" stroke-linejoin="round"/>
<path d="M508.3,74.8 L484.31,71.64 L487.03,63.25 Z" fill="#F084B4" fill-opacity="0.32" stroke="#E03C64" stroke-width="0.6" stroke-linejoin="round"/>
<path d="M508.3,74.8 L493.81,65.92 L497.95,61.31 Z" fill="#F084B4" fill-opacity="0.32" stroke="#E03C64" stroke-width="0.6" stroke-linejoin="round"/>
<path d="M508.3,74.8 L495.61,56.34 L503.07,53.02 Z" fill="#F084B4" fill-opacity="0.32" stroke="#E03C64" stroke-width="0.6" stroke-linejoin="round"/>
<path d="M508.3,74.8 L506.84,66.93 L509.76,66.93 Z" fill="#9AA4E4" fill-opacity="0.22" stroke="#5566C8" stroke-width="0.55" stroke-linejoin="round"/>
<path d="M508.3,74.8 L510.17,67.02 L512.83,68.21 Z" fill="#9AA4E4" fill-opacity="0.22" stroke="#5566C8" stroke-width="0.55" stroke-linejoin="round"/>
<path d="M508.3,74.8 L513.17,68.45 L515.12,70.62 Z" fill="#9AA4E4" fill-opacity="0.22" stroke="#5566C8" stroke-width="0.55" stroke-linejoin="round"/>
<path d="M508.3,74.8 L514.45,71.46 L515.24,73.89 Z" fill="#9AA4E4" fill-opacity="0.22" stroke="#5566C8" stroke-width="0.55" stroke-linejoin="round"/>
<path d="M508.3,74.8 L517.27,74.09 L516.93,77.36 Z" fill="#9AA4E4" fill-opacity="0.22" stroke="#5566C8" stroke-width="0.55" stroke-linejoin="round"/>
<path d="M508.3,74.8 L517.73,78.14 L515.90,81.29 Z" fill="#9AA4E4" fill-opacity="0.22" stroke="#5566C8" stroke-width="0.55" stroke-linejoin="round"/>
<path d="M508.3,74.8 L515.55,81.68 L512.61,83.83 Z" fill="#9AA4E4" fill-opacity="0.22" stroke="#5566C8" stroke-width="0.55" stroke-linejoin="round"/>
<path d="M508.3,74.8 L512.13,84.04 L508.56,84.80 Z" fill="#9AA4E4" fill-opacity="0.22" stroke="#5566C8" stroke-width="0.55" stroke-linejoin="round"/>
<path d="M508.3,74.8 L508.04,84.80 L504.47,84.04 Z" fill="#9AA4E4" fill-opacity="0.22" stroke="#5566C8" stroke-width="0.55" stroke-linejoin="round"/>
<path d="M508.3,74.8 L503.99,83.83 L501.05,81.68 Z" fill="#9AA4E4" fill-opacity="0.22" stroke="#5566C8" stroke-width="0.55" stroke-linejoin="round"/>
<path d="M508.3,74.8 L501.46,80.65 L499.82,77.80 Z" fill="#9AA4E4" fill-opacity="0.22" stroke="#5566C8" stroke-width="0.55" stroke-linejoin="round"/>
<path d="M508.3,74.8 L496.79,78.21 L496.34,73.86 Z" fill="#9AA4E4" fill-opacity="0.22" stroke="#5566C8" stroke-width="0.55" stroke-linejoin="round"/>
<path d="M508.3,74.8 L496.40,73.23 L497.75,69.07 Z" fill="#9AA4E4" fill-opacity="0.22" stroke="#5566C8" stroke-width="0.55" stroke-linejoin="round"/>
<path d="M508.3,74.8 L487.15,61.84 L493.20,55.12 Z" fill="#9AA4E4" fill-opacity="0.22" stroke="#5566C8" stroke-width="0.55" stroke-linejoin="round"/>
<path d="M508.3,74.8 L502.64,66.56 L505.97,65.08 Z" fill="#9AA4E4" fill-opacity="0.22" stroke="#5566C8" stroke-width="0.55" stroke-linejoin="round"/>
<path d="M508.3,74.8 L503.02,46.29 L513.58,46.29 Z" fill="#A060BC" fill-opacity="0.25" stroke="#88369A" stroke-width="0.65" stroke-linejoin="round"/>
<path d="M508.3,74.8 L514.14,50.49 L522.46,54.20 Z" fill="#A060BC" fill-opacity="0.25" stroke="#88369A" stroke-width="0.65" stroke-linejoin="round"/>
<path d="M508.3,74.8 L514.39,66.87 L516.83,69.58 Z" fill="#A060BC" fill-opacity="0.25" stroke="#88369A" stroke-width="0.65" stroke-linejoin="round"/>
<path d="M508.3,74.8 L517.09,70.03 L518.21,73.49 Z" fill="#A060BC" fill-opacity="0.25" stroke="#88369A" stroke-width="0.65" stroke-linejoin="round"/>
<path d="M508.3,74.8 L518.27,74.02 L517.89,77.64 Z" fill="#A060BC" fill-opacity="0.25" stroke="#88369A" stroke-width="0.65" stroke-linejoin="round"/>
<path d="M508.3,74.8 L531.77,83.11 L527.23,90.97 Z" fill="#A060BC" fill-opacity="0.25" stroke="#88369A" stroke-width="0.65" stroke-linejoin="round"/>
<path d="M508.3,74.8 L522.81,88.57 L516.91,92.85 Z" fill="#A060BC" fill-opacity="0.25" stroke="#88369A" stroke-width="0.65" stroke-linejoin="round"/>
<path d="M508.3,74.8 L518.94,100.48 L509.03,102.59 Z" fill="#A060BC" fill-opacity="0.25" stroke="#88369A" stroke-width="0.65" stroke-linejoin="round"/>
<path d="M508.3,74.8 L507.78,94.79 L500.65,93.28 Z" fill="#A060BC" fill-opacity="0.25" stroke="#88369A" stroke-width="0.65" stroke-linejoin="round"/>
<path d="M508.3,74.8 L499.26,93.75 L493.07,89.26 Z" fill="#A060BC" fill-opacity="0.25" stroke="#88369A" stroke-width="0.65" stroke-linejoin="round"/>
<path d="M508.3,74.8 L495.37,85.84 L492.28,80.47 Z" fill="#A060BC" fill-opacity="0.25" stroke="#88369A" stroke-width="0.65" stroke-linejoin="round"/>
<path d="M508.3,74.8 L485.29,81.62 L484.37,72.92 Z" fill="#A060BC" fill-opacity="0.25" stroke="#88369A" stroke-width="0.65" stroke-linejoin="round"/>
<path d="M508.3,74.8 L484.51,71.67 L487.21,63.35 Z" fill="#A060BC" fill-opacity="0.25" stroke="#88369A" stroke-width="0.65" stroke-linejoin="round"/>
<path d="M508.3,74.8 L492.95,65.40 L497.34,60.52 Z" fill="#A060BC" fill-opacity="0.25" stroke="#88369A" stroke-width="0.65" stroke-linejoin="round"/>
<path d="M508.3,74.8 L496.97,58.32 L503.63,55.35 Z" fill="#A060BC" fill-opacity="0.25" stroke="#88369A" stroke-width="0.65" stroke-linejoin="round"/>
<circle cx="508.3" cy="74.8" r="2.6" fill="#8E44AD"/>
<line x1="508.3" y1="74.8" x2="508.3" y2="38.199999999999996" stroke="#333" stroke-width="0.85"/>
<line x1="508.3" y1="61.00" x2="509.5" y2="61.00" stroke="#333" stroke-width="0.6"/>
<text x="509.40" y="61.80" font-size="2.3" font-weight="bold" fill="#444">100</text>
<line x1="508.3" y1="53.60" x2="509.5" y2="53.60" stroke="#333" stroke-width="0.6"/>
<text x="509.40" y="54.40" font-size="2.3" font-weight="bold" fill="#444">1000</text>
<line x1="508.3" y1="46.30" x2="509.5" y2="46.30" stroke="#333" stroke-width="0.6"/>
<text x="509.40" y="47.10" font-size="2.3" font-weight="bold" fill="#444">10000</text>
<line x1="508.3" y1="38.80" x2="509.5" y2="38.80" stroke="#333" stroke-width="0.6"/>
<text x="509.40" y="39.60" font-size="2.3" font-weight="bold" fill="#444">100000</text>
<text x="511.80" y="36.60" font-size="4.4" font-weight="bold" fill="#111" text-anchor="middle" stroke="#111" stroke-width="0.12">TNF</text>
<text x="530.80" y="40.60" font-size="4.4" font-weight="bold" fill="#111" text-anchor="middle" stroke="#111" stroke-width="0.12">IL-12p70</text>
<text x="540.60" y="50.20" font-size="4.4" font-weight="bold" fill="#111" text-anchor="middle" stroke="#111" stroke-width="0.12">IFN-γ</text>
<text x="549.30" y="63.30" font-size="4.4" font-weight="bold" fill="#111" text-anchor="middle" stroke="#111" stroke-width="0.12">IFN-α2</text>
<text x="551.60" y="82.00" font-size="4.4" font-weight="bold" fill="#111" text-anchor="middle" stroke="#111" stroke-width="0.12">IL-18</text>
<text x="547.20" y="97.70" font-size="4.4" font-weight="bold" fill="#111" text-anchor="middle" stroke="#111" stroke-width="0.12">IL-27</text>
<text x="536.30" y="109.70" font-size="4.4" font-weight="bold" fill="#111" text-anchor="middle" stroke="#111" stroke-width="0.12">IL-1β</text>
<text x="519.90" y="115.20" font-size="4.4" font-weight="bold" fill="#111" text-anchor="middle" stroke="#111" stroke-width="0.12">IL-6</text>
<text x="494.80" y="115.20" font-size="4.4" font-weight="bold" fill="#111" text-anchor="middle" stroke="#111" stroke-width="0.12">IL-12p40</text>
<text x="481.70" y="108.20" font-size="4.4" font-weight="bold" fill="#111" text-anchor="middle" stroke="#111" stroke-width="0.12">IL-10</text>
<text x="468.60" y="97.10" font-size="4.4" font-weight="bold" fill="#111" text-anchor="middle" stroke="#111" stroke-width="0.12">CXCL8</text>
<text x="466.50" y="82.00" font-size="4.4" font-weight="bold" fill="#111" text-anchor="middle" stroke="#111" stroke-width="0.12">CXCL1</text>
<text x="468.60" y="63.30" font-size="4.4" font-weight="bold" fill="#111" text-anchor="middle" stroke="#111" stroke-width="0.12">CCL2</text>
<text x="476.90" y="50.20" font-size="4.4" font-weight="bold" fill="#111" text-anchor="middle" stroke="#111" stroke-width="0.12">CCL3</text>
<text x="487.80" y="41.00" font-size="4.4" font-weight="bold" fill="#111" text-anchor="middle" stroke="#111" stroke-width="0.12">CXCL10</text>
<path d="M468.28,110.73 A51.5,55.5 0 0 1 501.13,20.84" fill="none" stroke="#EE2D3A" stroke-width="0.8"/>
<path d="M476.40,33.97 A53,53 0 1 1 537.94,120.24" fill="none" stroke="#3B53B5" stroke-width="0.8"/>
<path d="M455.80,74.30 A53,52.5 0 0 0 508.80,126.80" fill="none" stroke="#F2E61A" stroke-width="0.9"/>
<path d="M508.30,130.80 A54.5,54.5 0 0 0 552.39,108.33" fill="none" stroke="#55B54A" stroke-width="0.9"/>
<path id="ap9" d="M452.76,63.48 A57.0,57.0 0 0 1 507.31,19.31" fill="none"/>
<text font-size="6.4" font-weight="bold" font-style="normal" letter-spacing="0.15" fill="#EE2D3A"><textPath href="#ap9">chemoattraction</textPath></text>
<path id="ap10" d="M528.90,25.30 A55,55 0 0 1 559.98,95.11" fill="none"/>
<text font-size="6.4" font-weight="bold" font-style="italic" letter-spacing="0.15" fill="#3B53B5"><textPath href="#ap10">Th1 polarization</textPath></text>
<path id="ap11" d="M452.47,90.34 A58.6,58.2 0 0 0 528.84,128.99" fill="none"/>
<text font-size="6.9" font-weight="bold" font-style="normal" letter-spacing="0.15" fill="#ECDD22"><textPath href="#ap11">Th2 polarization</textPath></text>
<path id="ap12" d="M507.24,136.79 A60.5,60.5 0 0 0 567.88,86.81" fill="none"/>
<text font-size="6.4" font-weight="bold" font-style="italic" letter-spacing="0.15" fill="#4FB244"><textPath href="#ap12">Th17 polarization</textPath></text>
<text x="633.50" y="17.60" font-size="15.5" font-weight="bold" fill="#000" text-anchor="middle" >Other</text>
<circle cx="629.8" cy="74.7" r="36" fill="none" stroke="#E2E2E2" stroke-width="0.6"/>
<circle cx="629.8" cy="74.7" r="28.5" fill="none" stroke="#E2E2E2" stroke-width="0.6"/>
<circle cx="629.8" cy="74.7" r="21" fill="none" stroke="#E2E2E2" stroke-width="0.6"/>
<circle cx="629.8" cy="74.7" r="13.7" fill="none" stroke="#E2E2E2" stroke-width="0.6"/>
<line x1="629.8" y1="74.7" x2="629.80" y2="38.70" stroke="#E2E2E2" stroke-width="0.55"/>
<line x1="629.8" y1="74.7" x2="644.44" y2="41.81" stroke="#E2E2E2" stroke-width="0.55"/>
<line x1="629.8" y1="74.7" x2="656.55" y2="50.61" stroke="#E2E2E2" stroke-width="0.55"/>
<line x1="629.8" y1="74.7" x2="664.04" y2="63.58" stroke="#E2E2E2" stroke-width="0.55"/>
<line x1="629.8" y1="74.7" x2="665.60" y2="78.46" stroke="#E2E2E2" stroke-width="0.55"/>
<line x1="629.8" y1="74.7" x2="660.98" y2="92.70" stroke="#E2E2E2" stroke-width="0.55"/>
<line x1="629.8" y1="74.7" x2="650.96" y2="103.82" stroke="#E2E2E2" stroke-width="0.55"/>
<line x1="629.8" y1="74.7" x2="637.28" y2="109.91" stroke="#E2E2E2" stroke-width="0.55"/>
<line x1="629.8" y1="74.7" x2="622.32" y2="109.91" stroke="#E2E2E2" stroke-width="0.55"/>
<line x1="629.8" y1="74.7" x2="608.64" y2="103.82" stroke="#E2E2E2" stroke-width="0.55"/>
<line x1="629.8" y1="74.7" x2="598.62" y2="92.70" stroke="#E2E2E2" stroke-width="0.55"/>
<line x1="629.8" y1="74.7" x2="594.00" y2="78.46" stroke="#E2E2E2" stroke-width="0.55"/>
<line x1="629.8" y1="74.7" x2="595.56" y2="63.58" stroke="#E2E2E2" stroke-width="0.55"/>
<line x1="629.8" y1="74.7" x2="603.05" y2="50.61" stroke="#E2E2E2" stroke-width="0.55"/>
<line x1="629.8" y1="74.7" x2="615.16" y2="41.81" stroke="#E2E2E2" stroke-width="0.55"/>
<path d="M629.8,74.7 L625.79,53.07 L633.81,53.07 Z" fill="#F8D0B8" fill-opacity="0.3" stroke="#F0874E" stroke-width="0.7" stroke-linejoin="round"/>
<path d="M629.8,74.7 L635.17,52.34 L642.83,55.75 Z" fill="#F8D0B8" fill-opacity="0.3" stroke="#F0874E" stroke-width="0.7" stroke-linejoin="round"/>
<path d="M629.8,74.7 L636.50,65.97 L639.18,68.95 Z" fill="#F8D0B8" fill-opacity="0.3" stroke="#F0874E" stroke-width="0.7" stroke-linejoin="round"/>
<path d="M629.8,74.7 L640.35,68.97 L641.70,73.13 Z" fill="#F8D0B8" fill-opacity="0.3" stroke="#F0874E" stroke-width="0.7" stroke-linejoin="round"/>
<path d="M629.8,74.7 L638.77,73.99 L638.43,77.26 Z" fill="#F8D0B8" fill-opacity="0.3" stroke="#F0874E" stroke-width="0.7" stroke-linejoin="round"/>
<path d="M629.8,74.7 L648.65,81.38 L645.01,87.69 Z" fill="#F8D0B8" fill-opacity="0.3" stroke="#F0874E" stroke-width="0.7" stroke-linejoin="round"/>
<path d="M629.8,74.7 L642.35,86.61 L637.25,90.31 Z" fill="#F8D0B8" fill-opacity="0.3" stroke="#F0874E" stroke-width="0.7" stroke-linejoin="round"/>
<path d="M629.8,74.7 L638.22,95.03 L630.38,96.69 Z" fill="#F8D0B8" fill-opacity="0.3" stroke="#F0874E" stroke-width="0.7" stroke-linejoin="round"/>
<path d="M629.8,74.7 L629.28,94.49 L622.22,92.99 Z" fill="#F8D0B8" fill-opacity="0.3" stroke="#F0874E" stroke-width="0.7" stroke-linejoin="round"/>
<path d="M629.8,74.7 L621.19,92.75 L615.29,88.47 Z" fill="#F8D0B8" fill-opacity="0.3" stroke="#F0874E" stroke-width="0.7" stroke-linejoin="round"/>
<path d="M629.8,74.7 L616.87,85.74 L613.78,80.37 Z" fill="#F8D0B8" fill-opacity="0.3" stroke="#F0874E" stroke-width="0.7" stroke-linejoin="round"/>
<path d="M629.8,74.7 L605.54,81.89 L604.58,72.71 Z" fill="#F8D0B8" fill-opacity="0.3" stroke="#F0874E" stroke-width="0.7" stroke-linejoin="round"/>
<path d="M629.8,74.7 L609.97,72.09 L612.22,65.16 Z" fill="#F8D0B8" fill-opacity="0.3" stroke="#F0874E" stroke-width="0.7" stroke-linejoin="round"/>
<path d="M629.8,74.7 L612.75,64.25 L617.62,58.83 Z" fill="#F8D0B8" fill-opacity="0.3" stroke="#F0874E" stroke-width="0.7" stroke-linejoin="round"/>
<path d="M629.8,74.7 L618.47,58.22 L625.13,55.25 Z" fill="#F8D0B8" fill-opacity="0.3" stroke="#F0874E" stroke-width="0.7" stroke-linejoin="round"/>
<path d="M629.8,74.7 L626.88,58.97 L632.72,58.97 Z" fill="#B8BCEC" fill-opacity="0.35" stroke="#4F62C4" stroke-width="0.55" stroke-linejoin="round"/>
<path d="M629.8,74.7 L634.94,53.31 L642.26,56.57 Z" fill="#B8BCEC" fill-opacity="0.35" stroke="#4F62C4" stroke-width="0.55" stroke-linejoin="round"/>
<path d="M629.8,74.7 L635.89,66.77 L638.33,69.48 Z" fill="#B8BCEC" fill-opacity="0.35" stroke="#4F62C4" stroke-width="0.55" stroke-linejoin="round"/>
<path d="M629.8,74.7 L640.35,68.97 L641.70,73.13 Z" fill="#B8BCEC" fill-opacity="0.35" stroke="#4F62C4" stroke-width="0.55" stroke-linejoin="round"/>
<path d="M629.8,74.7 L638.77,73.99 L638.43,77.26 Z" fill="#B8BCEC" fill-opacity="0.35" stroke="#4F62C4" stroke-width="0.55" stroke-linejoin="round"/>
<path d="M629.8,74.7 L652.42,82.71 L648.05,90.29 Z" fill="#B8BCEC" fill-opacity="0.35" stroke="#4F62C4" stroke-width="0.55" stroke-linejoin="round"/>
<path d="M629.8,74.7 L639.23,83.65 L635.40,86.43 Z" fill="#B8BCEC" fill-opacity="0.35" stroke="#4F62C4" stroke-width="0.55" stroke-linejoin="round"/>
<path d="M629.8,74.7 L639.75,98.72 L630.48,100.69 Z" fill="#B8BCEC" fill-opacity="0.35" stroke="#4F62C4" stroke-width="0.55" stroke-linejoin="round"/>
<path d="M629.8,74.7 L629.35,91.69 L623.29,90.41 Z" fill="#B8BCEC" fill-opacity="0.35" stroke="#4F62C4" stroke-width="0.55" stroke-linejoin="round"/>
<path d="M629.8,74.7 L622.05,90.95 L616.74,87.09 Z" fill="#B8BCEC" fill-opacity="0.35" stroke="#4F62C4" stroke-width="0.55" stroke-linejoin="round"/>
<path d="M629.8,74.7 L617.63,85.09 L614.72,80.04 Z" fill="#B8BCEC" fill-opacity="0.35" stroke="#4F62C4" stroke-width="0.55" stroke-linejoin="round"/>
<path d="M629.8,74.7 L612.54,79.81 L611.86,73.29 Z" fill="#B8BCEC" fill-opacity="0.35" stroke="#4F62C4" stroke-width="0.55" stroke-linejoin="round"/>
<path d="M629.8,74.7 L607.99,71.83 L610.47,64.20 Z" fill="#B8BCEC" fill-opacity="0.35" stroke="#4F62C4" stroke-width="0.55" stroke-linejoin="round"/>
<path d="M629.8,74.7 L614.45,65.30 L618.84,60.42 Z" fill="#B8BCEC" fill-opacity="0.35" stroke="#4F62C4" stroke-width="0.55" stroke-linejoin="round"/>
<path d="M629.8,74.7 L618.47,58.22 L625.13,55.25 Z" fill="#B8BCEC" fill-opacity="0.35" stroke="#4F62C4" stroke-width="0.55" stroke-linejoin="round"/>
<path d="M629.8,74.7 L627.25,60.93 L632.35,60.93 Z" fill="#E6B8E8" fill-opacity="0.3" stroke="#C04CC0" stroke-width="0.65" stroke-linejoin="round"/>
<path d="M629.8,74.7 L634.00,57.20 L640.00,59.87 Z" fill="#E6B8E8" fill-opacity="0.3" stroke="#C04CC0" stroke-width="0.65" stroke-linejoin="round"/>
<path d="M629.8,74.7 L635.28,67.56 L637.47,70.00 Z" fill="#E6B8E8" fill-opacity="0.3" stroke="#C04CC0" stroke-width="0.65" stroke-linejoin="round"/>
<path d="M629.8,74.7 L638.59,69.93 L639.71,73.39 Z" fill="#E6B8E8" fill-opacity="0.3" stroke="#C04CC0" stroke-width="0.65" stroke-linejoin="round"/>
<path d="M629.8,74.7 L638.77,73.99 L638.43,77.26 Z" fill="#E6B8E8" fill-opacity="0.3" stroke="#C04CC0" stroke-width="0.65" stroke-linejoin="round"/>
<path d="M629.8,74.7 L646.77,80.71 L643.49,86.39 Z" fill="#E6B8E8" fill-opacity="0.3" stroke="#C04CC0" stroke-width="0.65" stroke-linejoin="round"/>
<path d="M629.8,74.7 L638.50,82.96 L634.97,85.53 Z" fill="#E6B8E8" fill-opacity="0.3" stroke="#C04CC0" stroke-width="0.65" stroke-linejoin="round"/>
<path d="M629.8,74.7 L637.45,93.18 L630.32,94.69 Z" fill="#E6B8E8" fill-opacity="0.3" stroke="#C04CC0" stroke-width="0.65" stroke-linejoin="round"/>
<path d="M629.8,74.7 L629.49,86.70 L625.21,85.79 Z" fill="#E6B8E8" fill-opacity="0.3" stroke="#C04CC0" stroke-width="0.65" stroke-linejoin="round"/>
<path d="M629.8,74.7 L623.34,88.24 L618.92,85.03 Z" fill="#E6B8E8" fill-opacity="0.3" stroke="#C04CC0" stroke-width="0.65" stroke-linejoin="round"/>
<path d="M629.8,74.7 L620.68,82.49 L618.49,78.71 Z" fill="#E6B8E8" fill-opacity="0.3" stroke="#C04CC0" stroke-width="0.65" stroke-linejoin="round"/>
<path d="M629.8,74.7 L616.38,78.68 L615.84,73.60 Z" fill="#E6B8E8" fill-opacity="0.3" stroke="#C04CC0" stroke-width="0.65" stroke-linejoin="round"/>
<path d="M629.8,74.7 L611.95,72.35 L613.98,66.11 Z" fill="#E6B8E8" fill-opacity="0.3" stroke="#C04CC0" stroke-width="0.65" stroke-linejoin="round"/>
<path d="M629.8,74.7 L606.35,60.33 L613.06,52.88 Z" fill="#E6B8E8" fill-opacity="0.3" stroke="#C04CC0" stroke-width="0.65" stroke-linejoin="round"/>
<path d="M629.8,74.7 L619.60,59.87 L625.60,57.20 Z" fill="#E6B8E8" fill-opacity="0.3" stroke="#C04CC0" stroke-width="0.65" stroke-linejoin="round"/>
<path d="M629.8,74.7 L626.52,57.00 L633.08,57.00 Z" fill="#9A60B8" fill-opacity="0.36" stroke="#5DB65A" stroke-width="0.7" stroke-linejoin="round"/>
<path d="M629.8,74.7 L635.78,49.81 L644.30,53.60 Z" fill="#9A60B8" fill-opacity="0.36" stroke="#5DB65A" stroke-width="0.7" stroke-linejoin="round"/>
<path d="M629.8,74.7 L636.92,65.42 L639.78,68.59 Z" fill="#9A60B8" fill-opacity="0.36" stroke="#5DB65A" stroke-width="0.7" stroke-linejoin="round"/>
<path d="M629.8,74.7 L642.81,67.64 L644.47,72.77 Z" fill="#9A60B8" fill-opacity="0.36" stroke="#5DB65A" stroke-width="0.7" stroke-linejoin="round"/>
<path d="M629.8,74.7 L639.47,73.94 L639.10,77.45 Z" fill="#9A60B8" fill-opacity="0.36" stroke="#5DB65A" stroke-width="0.7" stroke-linejoin="round"/>
<path d="M629.8,74.7 L652.52,82.74 L648.13,90.35 Z" fill="#9A60B8" fill-opacity="0.36" stroke="#5DB65A" stroke-width="0.7" stroke-linejoin="round"/>
<path d="M629.8,74.7 L639.23,83.65 L635.40,86.43 Z" fill="#9A60B8" fill-opacity="0.36" stroke="#5DB65A" stroke-width="0.7" stroke-linejoin="round"/>
<path d="M629.8,74.7 L640.06,99.46 L630.50,101.49 Z" fill="#9A60B8" fill-opacity="0.36" stroke="#5DB65A" stroke-width="0.7" stroke-linejoin="round"/>
<path d="M629.8,74.7 L629.41,89.69 L624.06,88.56 Z" fill="#9A60B8" fill-opacity="0.36" stroke="#5DB65A" stroke-width="0.7" stroke-linejoin="round"/>
<path d="M629.8,74.7 L619.25,96.81 L612.03,91.56 Z" fill="#9A60B8" fill-opacity="0.36" stroke="#5DB65A" stroke-width="0.7" stroke-linejoin="round"/>
<path d="M629.8,74.7 L619.15,83.79 L616.60,79.37 Z" fill="#9A60B8" fill-opacity="0.36" stroke="#5DB65A" stroke-width="0.7" stroke-linejoin="round"/>
<path d="M629.8,74.7 L610.62,80.38 L609.86,73.13 Z" fill="#9A60B8" fill-opacity="0.36" stroke="#5DB65A" stroke-width="0.7" stroke-linejoin="round"/>
<path d="M629.8,74.7 L606.40,71.62 L609.06,63.44 Z" fill="#9A60B8" fill-opacity="0.36" stroke="#5DB65A" stroke-width="0.7" stroke-linejoin="round"/>
<path d="M629.8,74.7 L612.75,64.25 L617.62,58.83 Z" fill="#9A60B8" fill-opacity="0.36" stroke="#5DB65A" stroke-width="0.7" stroke-linejoin="round"/>
<path d="M629.8,74.7 L616.38,55.17 L624.27,51.65 Z" fill="#9A60B8" fill-opacity="0.36" stroke="#5DB65A" stroke-width="0.7" stroke-linejoin="round"/>
<circle cx="629.8" cy="74.7" r="2.6" fill="#4DB84A"/>
<line x1="629.8" y1="74.7" x2="629.8" y2="38.1" stroke="#333" stroke-width="0.85"/>
<line x1="629.8" y1="60.90" x2="631.0" y2="60.90" stroke="#333" stroke-width="0.6"/>
<text x="630.90" y="61.70" font-size="2.3" font-weight="bold" fill="#444">100</text>
<line x1="629.8" y1="53.50" x2="631.0" y2="53.50" stroke="#333" stroke-width="0.6"/>
<text x="630.90" y="54.30" font-size="2.3" font-weight="bold" fill="#444">1000</text>
<line x1="629.8" y1="46.20" x2="631.0" y2="46.20" stroke="#333" stroke-width="0.6"/>
<text x="630.90" y="47.00" font-size="2.3" font-weight="bold" fill="#444">10000</text>
<line x1="629.8" y1="38.70" x2="631.0" y2="38.70" stroke="#333" stroke-width="0.6"/>
<text x="630.90" y="39.50" font-size="2.3" font-weight="bold" fill="#444">100000</text>
<text x="633.30" y="36.50" font-size="4.4" font-weight="bold" fill="#111" text-anchor="middle" stroke="#111" stroke-width="0.12">TNF</text>
<text x="652.30" y="40.50" font-size="4.4" font-weight="bold" fill="#111" text-anchor="middle" stroke="#111" stroke-width="0.12">IL-12p70</text>
<text x="662.10" y="50.10" font-size="4.4" font-weight="bold" fill="#111" text-anchor="middle" stroke="#111" stroke-width="0.12">IFN-γ</text>
<text x="670.80" y="63.20" font-size="4.4" font-weight="bold" fill="#111" text-anchor="middle" stroke="#111" stroke-width="0.12">IFN-α2</text>
<text x="673.10" y="81.90" font-size="4.4" font-weight="bold" fill="#111" text-anchor="middle" stroke="#111" stroke-width="0.12">IL-18</text>
<text x="668.70" y="97.60" font-size="4.4" font-weight="bold" fill="#111" text-anchor="middle" stroke="#111" stroke-width="0.12">IL-27</text>
<text x="657.80" y="109.60" font-size="4.4" font-weight="bold" fill="#111" text-anchor="middle" stroke="#111" stroke-width="0.12">IL-1β</text>
<text x="641.40" y="115.10" font-size="4.4" font-weight="bold" fill="#111" text-anchor="middle" stroke="#111" stroke-width="0.12">IL-6</text>
<text x="616.30" y="115.10" font-size="4.4" font-weight="bold" fill="#111" text-anchor="middle" stroke="#111" stroke-width="0.12">IL-12p40</text>
<text x="603.20" y="108.10" font-size="4.4" font-weight="bold" fill="#111" text-anchor="middle" stroke="#111" stroke-width="0.12">IL-10</text>
<text x="590.10" y="97.00" font-size="4.4" font-weight="bold" fill="#111" text-anchor="middle" stroke="#111" stroke-width="0.12">CXCL8</text>
<text x="588.00" y="81.90" font-size="4.4" font-weight="bold" fill="#111" text-anchor="middle" stroke="#111" stroke-width="0.12">CXCL1</text>
<text x="590.10" y="63.20" font-size="4.4" font-weight="bold" fill="#111" text-anchor="middle" stroke="#111" stroke-width="0.12">CCL2</text>
<text x="598.40" y="50.10" font-size="4.4" font-weight="bold" fill="#111" text-anchor="middle" stroke="#111" stroke-width="0.12">CCL3</text>
<text x="609.30" y="40.90" font-size="4.4" font-weight="bold" fill="#111" text-anchor="middle" stroke="#111" stroke-width="0.12">CXCL10</text>
<path d="M589.78,110.63 A51.5,55.5 0 0 1 622.63,20.74" fill="none" stroke="#EE2D3A" stroke-width="0.8"/>
<path d="M597.90,33.87 A53,53 0 1 1 659.44,120.14" fill="none" stroke="#3B53B5" stroke-width="0.8"/>
<path d="M577.30,74.20 A53,52.5 0 0 0 630.30,126.70" fill="none" stroke="#F2E61A" stroke-width="0.9"/>
<path d="M629.80,130.70 A54.5,54.5 0 0 0 673.89,108.23" fill="none" stroke="#55B54A" stroke-width="0.9"/>
<path id="ap13" d="M574.26,63.38 A57.0,57.0 0 0 1 628.81,19.21" fill="none"/>
<text font-size="6.4" font-weight="bold" font-style="normal" letter-spacing="0.15" fill="#EE2D3A"><textPath href="#ap13">chemoattraction</textPath></text>
<path id="ap14" d="M650.40,25.20 A55,55 0 0 1 681.48,95.01" fill="none"/>
<text font-size="6.4" font-weight="bold" font-style="italic" letter-spacing="0.15" fill="#3B53B5"><textPath href="#ap14">Th1 polarization</textPath></text>
<path id="ap15" d="M573.97,90.24 A58.6,58.2 0 0 0 650.34,128.89" fill="none"/>
<text font-size="6.9" font-weight="bold" font-style="normal" letter-spacing="0.15" fill="#ECDD22"><textPath href="#ap15">Th2 polarization</textPath></text>
<path id="ap16" d="M628.74,136.69 A60.5,60.5 0 0 0 689.38,86.71" fill="none"/>
<text font-size="6.4" font-weight="bold" font-style="italic" letter-spacing="0.15" fill="#4FB244"><textPath href="#ap16">Th17 polarization</textPath></text>
<text x="193.00" y="111.80" font-size="7.4" font-weight="bold" fill="#E8232A" text-anchor="start" >-</text>
<text x="197.70" y="111.80" font-size="7.4" font-weight="bold" fill="#E8232A" text-anchor="start" >MPLA</text>
<text x="193.00" y="121.00" font-size="7.4" font-weight="bold" fill="#2A4BA0" text-anchor="start" >-</text>
<text x="197.70" y="121.00" font-size="7.4" font-weight="bold" fill="#2A4BA0" text-anchor="start" >QS-21</text>
<text x="193.00" y="130.20" font-size="7.4" font-weight="bold" fill="#7B3F9E" text-anchor="start" >-</text>
<text x="197.70" y="130.20" font-size="7.4" font-weight="bold" fill="#7B3F9E" text-anchor="start" >MPLA+QS-21</text>
<text x="325.50" y="111.80" font-size="7.4" font-weight="bold" fill="#E8232A" text-anchor="start" >-</text>
<text x="330.20" y="111.80" font-size="7.4" font-weight="bold" fill="#E8232A" text-anchor="start" >LM</text>
<text x="325.50" y="121.00" font-size="7.4" font-weight="bold" fill="#2A4BA0" text-anchor="start" >-</text>
<text x="330.20" y="121.00" font-size="7.4" font-weight="bold" fill="#2A4BA0" text-anchor="start" >LQ</text>
<text x="325.50" y="130.20" font-size="7.4" font-weight="bold" fill="#7B3F9E" text-anchor="start" >-</text>
<text x="330.20" y="130.20" font-size="7.4" font-weight="bold" fill="#7B3F9E" text-anchor="start" >LMQ</text>
<text x="443.50" y="111.80" font-size="7.4" font-weight="bold" fill="#E8232A" text-anchor="start" >-</text>
<text x="448.20" y="111.80" font-size="7.4" font-weight="bold" fill="#E8232A" text-anchor="start" >SM</text>
<text x="443.50" y="121.00" font-size="7.4" font-weight="bold" fill="#2A4BA0" text-anchor="start" >-</text>
<text x="448.20" y="121.00" font-size="7.4" font-weight="bold" fill="#2A4BA0" text-anchor="start" >SQ</text>
<text x="443.50" y="130.20" font-size="7.4" font-weight="bold" fill="#7B3F9E" text-anchor="start" >-</text>
<text x="448.20" y="130.20" font-size="7.4" font-weight="bold" fill="#7B3F9E" text-anchor="start" >SMQ</text>
<text x="559.50" y="100.90" font-size="7.4" font-weight="bold" fill="#2DA84A" text-anchor="start" >-</text>
<text x="564.20" y="100.90" font-size="7.4" font-weight="bold" fill="#2DA84A" text-anchor="start" >EM</text>
<text x="559.50" y="109.67" font-size="7.4" font-weight="bold" fill="#2A4BA0" text-anchor="start" >-</text>
<text x="564.20" y="109.67" font-size="7.4" font-weight="bold" fill="#2A4BA0" text-anchor="start" >AL</text>
<text x="559.50" y="118.44" font-size="7.4" font-weight="bold" fill="#E0208A" text-anchor="start" >-</text>
<text x="564.20" y="118.44" font-size="7.4" font-weight="bold" fill="#E0208A" text-anchor="start" >QS-7</text>
<text x="559.50" y="127.21" font-size="7.4" font-weight="bold" fill="#F0642A" text-anchor="start" >-</text>
<text x="564.20" y="127.21" font-size="7.4" font-weight="bold" fill="#F0642A" text-anchor="start" >dMLT</text>
<text x="207.60" y="147.70" font-size="8" font-weight="bold" fill="#000" text-anchor="start" >Soluble</text>
<line x1="206.3" y1="154.3" x2="206.3" y2="221.3" stroke="#222" stroke-width="0.8"/>
<line x1="206.3" y1="221.3" x2="292.4" y2="221.3" stroke="#222" stroke-width="0.8"/>
<line x1="203.5" y1="154.30" x2="206.3" y2="154.30" stroke="#222" stroke-width="0.6"/>
<text x="202.80" y="155.80" font-size="4.0" font-weight="bold" fill="#222" text-anchor="end" >100000</text>
<line x1="205.0" y1="166.01" x2="206.3" y2="166.01" stroke="#444" stroke-width="0.35"/>
<line x1="205.0" y1="163.06" x2="206.3" y2="163.06" stroke="#444" stroke-width="0.35"/>
<line x1="205.0" y1="160.97" x2="206.3" y2="160.97" stroke="#444" stroke-width="0.35"/>
<line x1="205.0" y1="159.34" x2="206.3" y2="159.34" stroke="#444" stroke-width="0.35"/>
<line x1="205.0" y1="158.02" x2="206.3" y2="158.02" stroke="#444" stroke-width="0.35"/>
<line x1="205.0" y1="156.89" x2="206.3" y2="156.89" stroke="#444" stroke-width="0.35"/>
<line x1="205.0" y1="155.92" x2="206.3" y2="155.92" stroke="#444" stroke-width="0.35"/>
<line x1="205.0" y1="155.07" x2="206.3" y2="155.07" stroke="#444" stroke-width="0.35"/>
<line x1="203.5" y1="171.05" x2="206.3" y2="171.05" stroke="#222" stroke-width="0.6"/>
<text x="202.80" y="172.55" font-size="4.0" font-weight="bold" fill="#222" text-anchor="end" >10000</text>
<line x1="205.0" y1="182.76" x2="206.3" y2="182.76" stroke="#444" stroke-width="0.35"/>
<line x1="205.0" y1="179.81" x2="206.3" y2="179.81" stroke="#444" stroke-width="0.35"/>
<line x1="205.0" y1="177.72" x2="206.3" y2="177.72" stroke="#444" stroke-width="0.35"/>
<line x1="205.0" y1="176.09" x2="206.3" y2="176.09" stroke="#444" stroke-width="0.35"/>
<line x1="205.0" y1="174.77" x2="206.3" y2="174.77" stroke="#444" stroke-width="0.35"/>
<line x1="205.0" y1="173.64" x2="206.3" y2="173.64" stroke="#444" stroke-width="0.35"/>
<line x1="205.0" y1="172.67" x2="206.3" y2="172.67" stroke="#444" stroke-width="0.35"/>
<line x1="205.0" y1="171.82" x2="206.3" y2="171.82" stroke="#444" stroke-width="0.35"/>
<line x1="203.5" y1="187.80" x2="206.3" y2="187.80" stroke="#222" stroke-width="0.6"/>
<text x="202.80" y="189.30" font-size="4.0" font-weight="bold" fill="#222" text-anchor="end" >1000</text>
<line x1="205.0" y1="199.51" x2="206.3" y2="199.51" stroke="#444" stroke-width="0.35"/>
<line x1="205.0" y1="196.56" x2="206.3" y2="196.56" stroke="#444" stroke-width="0.35"/>
<line x1="205.0" y1="194.47" x2="206.3" y2="194.47" stroke="#444" stroke-width="0.35"/>
<line x1="205.0" y1="192.84" x2="206.3" y2="192.84" stroke="#444" stroke-width="0.35"/>
<line x1="205.0" y1="191.52" x2="206.3" y2="191.52" stroke="#444" stroke-width="0.35"/>
<line x1="205.0" y1="190.39" x2="206.3" y2="190.39" stroke="#444" stroke-width="0.35"/>
<line x1="205.0" y1="189.42" x2="206.3" y2="189.42" stroke="#444" stroke-width="0.35"/>
<line x1="205.0" y1="188.57" x2="206.3" y2="188.57" stroke="#444" stroke-width="0.35"/>
<line x1="203.5" y1="204.55" x2="206.3" y2="204.55" stroke="#222" stroke-width="0.6"/>
<text x="202.80" y="206.05" font-size="4.0" font-weight="bold" fill="#222" text-anchor="end" >100</text>
<line x1="205.0" y1="216.26" x2="206.3" y2="216.26" stroke="#444" stroke-width="0.35"/>
<line x1="205.0" y1="213.31" x2="206.3" y2="213.31" stroke="#444" stroke-width="0.35"/>
<line x1="205.0" y1="211.22" x2="206.3" y2="211.22" stroke="#444" stroke-width="0.35"/>
<line x1="205.0" y1="209.59" x2="206.3" y2="209.59" stroke="#444" stroke-width="0.35"/>
<line x1="205.0" y1="208.27" x2="206.3" y2="208.27" stroke="#444" stroke-width="0.35"/>
<line x1="205.0" y1="207.14" x2="206.3" y2="207.14" stroke="#444" stroke-width="0.35"/>
<line x1="205.0" y1="206.17" x2="206.3" y2="206.17" stroke="#444" stroke-width="0.35"/>
<line x1="205.0" y1="205.32" x2="206.3" y2="205.32" stroke="#444" stroke-width="0.35"/>
<line x1="203.5" y1="221.30" x2="206.3" y2="221.30" stroke="#222" stroke-width="0.6"/>
<text x="202.80" y="222.80" font-size="4.0" font-weight="bold" fill="#222" text-anchor="end" >10</text>
<line x1="225.60" y1="221.3" x2="225.60" y2="223.5" stroke="#222" stroke-width="0.6"/>
<line x1="242.20" y1="221.3" x2="242.20" y2="223.5" stroke="#222" stroke-width="0.6"/>
<line x1="259.00" y1="221.3" x2="259.00" y2="223.5" stroke="#222" stroke-width="0.6"/>
<line x1="275.60" y1="221.3" x2="275.60" y2="223.5" stroke="#222" stroke-width="0.6"/>
<line x1="292.40" y1="221.3" x2="292.40" y2="223.5" stroke="#222" stroke-width="0.6"/>
<line x1="230.58" y1="221.3" x2="230.58" y2="222.5" stroke="#444" stroke-width="0.4"/>
<line x1="233.57" y1="221.3" x2="233.57" y2="222.5" stroke="#444" stroke-width="0.4"/>
<line x1="235.89" y1="221.3" x2="235.89" y2="222.5" stroke="#444" stroke-width="0.4"/>
<line x1="237.55" y1="221.3" x2="237.55" y2="222.5" stroke="#444" stroke-width="0.4"/>
<line x1="238.88" y1="221.3" x2="238.88" y2="222.5" stroke="#444" stroke-width="0.4"/>
<line x1="240.04" y1="221.3" x2="240.04" y2="222.5" stroke="#444" stroke-width="0.4"/>
<line x1="241.04" y1="221.3" x2="241.04" y2="222.5" stroke="#444" stroke-width="0.4"/>
<line x1="247.24" y1="221.3" x2="247.24" y2="222.5" stroke="#444" stroke-width="0.4"/>
<line x1="250.26" y1="221.3" x2="250.26" y2="222.5" stroke="#444" stroke-width="0.4"/>
<line x1="252.62" y1="221.3" x2="252.62" y2="222.5" stroke="#444" stroke-width="0.4"/>
<line x1="254.30" y1="221.3" x2="254.30" y2="222.5" stroke="#444" stroke-width="0.4"/>
<line x1="255.64" y1="221.3" x2="255.64" y2="222.5" stroke="#444" stroke-width="0.4"/>
<line x1="256.82" y1="221.3" x2="256.82" y2="222.5" stroke="#444" stroke-width="0.4"/>
<line x1="257.82" y1="221.3" x2="257.82" y2="222.5" stroke="#444" stroke-width="0.4"/>
<line x1="263.98" y1="221.3" x2="263.98" y2="222.5" stroke="#444" stroke-width="0.4"/>
<line x1="266.97" y1="221.3" x2="266.97" y2="222.5" stroke="#444" stroke-width="0.4"/>
<line x1="269.29" y1="221.3" x2="269.29" y2="222.5" stroke="#444" stroke-width="0.4"/>
<line x1="270.95" y1="221.3" x2="270.95" y2="222.5" stroke="#444" stroke-width="0.4"/>
<line x1="272.28" y1="221.3" x2="272.28" y2="222.5" stroke="#444" stroke-width="0.4"/>
<line x1="273.44" y1="221.3" x2="273.44" y2="222.5" stroke="#444" stroke-width="0.4"/>
<line x1="274.44" y1="221.3" x2="274.44" y2="222.5" stroke="#444" stroke-width="0.4"/>
<line x1="280.64" y1="221.3" x2="280.64" y2="222.5" stroke="#444" stroke-width="0.4"/>
<line x1="283.66" y1="221.3" x2="283.66" y2="222.5" stroke="#444" stroke-width="0.4"/>
<line x1="286.02" y1="221.3" x2="286.02" y2="222.5" stroke="#444" stroke-width="0.4"/>
<line x1="287.70" y1="221.3" x2="287.70" y2="222.5" stroke="#444" stroke-width="0.4"/>
<line x1="289.04" y1="221.3" x2="289.04" y2="222.5" stroke="#444" stroke-width="0.4"/>
<line x1="290.22" y1="221.3" x2="290.22" y2="222.5" stroke="#444" stroke-width="0.4"/>
<line x1="291.22" y1="221.3" x2="291.22" y2="222.5" stroke="#444" stroke-width="0.4"/>
<text x="0" y="0" transform="translate(183.5,189.3) scale(0.86,1) rotate(-90)" font-size="6.6" font-weight="bold" text-anchor="middle" fill="#111">TNF (pg/mL)</text>
<text x="206.50" y="230.30" font-size="5.2" font-weight="bold" fill="#000" text-anchor="middle" >0</text>
<text x="248.90" y="230.30" font-size="4.7" font-weight="bold" fill="#000" text-anchor="middle" >Concentration</text>
<polygon points="223.7,235.2 292.4,229.5 292.4,235.2" fill="#000"/>
<text x="224" y="242.5" font-size="4.4" font-weight="bold" fill="#111">1.5x10<tspan dy="-1.85" font-size="3.17">-6</tspan></text>
<text x="283.2" y="242.5" font-size="4.4" font-weight="bold" fill="#111">10<tspan dy="-1.85" font-size="3.17">-2</tspan></text>
<polyline points="206.50,204.50 225.60,204.00 242.20,205.00 259.00,207.50 275.60,204.50 292.40,204.50" fill="none" stroke="#2F55A4" stroke-width="0.55" stroke-opacity="0.8"/>
<circle cx="206.50" cy="204.50" r="1.35" fill="#2F55A4"/>
<circle cx="225.60" cy="204.00" r="1.35" fill="#2F55A4"/>
<circle cx="242.20" cy="205.00" r="1.35" fill="#2F55A4"/>
<circle cx="259.00" cy="207.50" r="1.35" fill="#2F55A4"/>
<line x1="275.60" y1="204.50" x2="275.60" y2="200.50" stroke="#2F55A4" stroke-width="0.5" stroke-opacity="0.7"/><line x1="274.30" y1="200.50" x2="276.90" y2="200.50" stroke="#2F55A4" stroke-width="0.5" stroke-opacity="0.7"/>
<circle cx="275.60" cy="204.50" r="1.35" fill="#2F55A4"/>
<line x1="292.40" y1="204.50" x2="292.40" y2="201.50" stroke="#2F55A4" stroke-width="0.5" stroke-opacity="0.7"/><line x1="291.10" y1="201.50" x2="293.70" y2="201.50" stroke="#2F55A4" stroke-width="0.5" stroke-opacity="0.7"/>
<circle cx="292.40" cy="204.50" r="1.35" fill="#2F55A4"/>
<polyline points="206.50,204.50 225.60,201.00 242.20,202.00 259.00,173.20 275.60,161.10 292.40,161.10" fill="none" stroke="#E8232A" stroke-width="0.55" stroke-opacity="0.8"/>
<line x1="206.50" y1="204.50" x2="206.50" y2="198.50" stroke="#E8232A" stroke-width="0.5" stroke-opacity="0.7"/><line x1="205.20" y1="198.50" x2="207.80" y2="198.50" stroke="#E8232A" stroke-width="0.5" stroke-opacity="0.7"/>
<circle cx="206.50" cy="204.50" r="1.35" fill="#E8232A"/>
<line x1="225.60" y1="201.00" x2="225.60" y2="195.00" stroke="#E8232A" stroke-width="0.5" stroke-opacity="0.7"/><line x1="224.30" y1="195.00" x2="226.90" y2="195.00" stroke="#E8232A" stroke-width="0.5" stroke-opacity="0.7"/>
<circle cx="225.60" cy="201.00" r="1.35" fill="#E8232A"/>
<line x1="242.20" y1="202.00" x2="242.20" y2="197.00" stroke="#E8232A" stroke-width="0.5" stroke-opacity="0.7"/><line x1="240.90" y1="197.00" x2="243.50" y2="197.00" stroke="#E8232A" stroke-width="0.5" stroke-opacity="0.7"/>
<circle cx="242.20" cy="202.00" r="1.35" fill="#E8232A"/>
<line x1="259.00" y1="173.20" x2="259.00" y2="166.20" stroke="#E8232A" stroke-width="0.5" stroke-opacity="0.7"/><line x1="257.70" y1="166.20" x2="260.30" y2="166.20" stroke="#E8232A" stroke-width="0.5" stroke-opacity="0.7"/>
<circle cx="259.00" cy="173.20" r="1.35" fill="#E8232A"/>
<line x1="275.60" y1="161.10" x2="275.60" y2="157.10" stroke="#E8232A" stroke-width="0.5" stroke-opacity="0.7"/><line x1="274.30" y1="157.10" x2="276.90" y2="157.10" stroke="#E8232A" stroke-width="0.5" stroke-opacity="0.7"/>
<circle cx="275.60" cy="161.10" r="1.35" fill="#E8232A"/>
<line x1="292.40" y1="161.10" x2="292.40" y2="157.10" stroke="#E8232A" stroke-width="0.5" stroke-opacity="0.7"/><line x1="291.10" y1="157.10" x2="293.70" y2="157.10" stroke="#E8232A" stroke-width="0.5" stroke-opacity="0.7"/>
<circle cx="292.40" cy="161.10" r="1.35" fill="#E8232A"/>
<polyline points="206.50,204.50 225.60,202.00 242.20,203.00 259.00,199.50 275.60,167.40 292.40,161.10" fill="none" stroke="#7B52AB" stroke-width="0.55" stroke-opacity="0.55"/>
<circle cx="206.50" cy="204.50" r="1.35" fill="#7B52AB"/>
<circle cx="225.60" cy="202.00" r="1.35" fill="#7B52AB"/>
<circle cx="242.20" cy="203.00" r="1.35" fill="#7B52AB"/>
<line x1="259.00" y1="199.50" x2="259.00" y2="196.50" stroke="#7B52AB" stroke-width="0.5" stroke-opacity="0.7"/><line x1="257.70" y1="196.50" x2="260.30" y2="196.50" stroke="#7B52AB" stroke-width="0.5" stroke-opacity="0.7"/>
<circle cx="259.00" cy="199.50" r="1.35" fill="#7B52AB"/>
<circle cx="275.60" cy="167.40" r="1.35" fill="#7B52AB"/>
<circle cx="292.40" cy="161.10" r="1.35" fill="#7B52AB"/>
<line x1="206.8" y1="156.9" x2="211.8" y2="156.9" stroke="#7B52AB" stroke-width="0.6"/><circle cx="209.3" cy="156.9" r="1.35" fill="#7B52AB"/>
<text x="215.60" y="159.00" font-size="5.5" font-weight="bold" fill="#111" text-anchor="start" >MPLA+QS-21</text>
<line x1="206.8" y1="166.3" x2="211.8" y2="166.3" stroke="#E8232A" stroke-width="0.6"/><circle cx="209.3" cy="166.3" r="1.35" fill="#E8232A"/>
<text x="215.60" y="168.40" font-size="5.5" font-weight="bold" fill="#111" text-anchor="start" >MPLA</text>
<line x1="206.8" y1="175.70000000000002" x2="211.8" y2="175.70000000000002" stroke="#2F55A4" stroke-width="0.6"/><circle cx="209.3" cy="175.70000000000002" r="1.35" fill="#2F55A4"/>
<text x="215.60" y="177.80" font-size="5.5" font-weight="bold" fill="#111" text-anchor="start" >QS-21</text>
<text x="275.60" y="153.80" font-size="6" font-weight="bold" fill="#E8232A" text-anchor="middle" >***</text>
<text x="275.60" y="157.10" font-size="6" font-weight="bold" fill="#7B52AB" text-anchor="middle" >**</text>
<text x="291.60" y="151.60" font-size="6" font-weight="bold" fill="#E8232A" text-anchor="middle" >***</text>
<text x="291.60" y="155.10" font-size="6" font-weight="bold" fill="#7B52AB" text-anchor="middle" >***</text>
<line x1="298.6" y1="160.3" x2="298.6" y2="204.8" stroke="#333" stroke-width="0.6"/>
<line x1="302.9" y1="160.3" x2="302.9" y2="204.8" stroke="#BBBBBB" stroke-width="0.6"/>
<text x="0" y="0" transform="translate(304.1,180) rotate(-90)" font-size="5.5" font-weight="bold" text-anchor="middle" fill="#333">***</text>
<text x="0" y="0" transform="translate(308.90000000000003,180) rotate(-90)" font-size="5.5" font-weight="bold" text-anchor="middle" fill="#333">***</text>
<text x="345.40" y="148.50" font-size="8" font-weight="bold" fill="#000" text-anchor="start" >LNP</text>
<line x1="343.5" y1="153.4" x2="343.5" y2="221.9" stroke="#BDBDBD" stroke-width="1.9"/>
<line x1="343.5" y1="221.9" x2="430.8" y2="221.9" stroke="#222" stroke-width="0.8"/>
<line x1="340.7" y1="153.40" x2="343.5" y2="153.40" stroke="#222" stroke-width="0.6"/>
<text x="340.00" y="154.90" font-size="4.0" font-weight="bold" fill="#222" text-anchor="end" >100000</text>
<line x1="342.2" y1="165.37" x2="343.5" y2="165.37" stroke="#444" stroke-width="0.35"/>
<line x1="342.2" y1="162.35" x2="343.5" y2="162.35" stroke="#444" stroke-width="0.35"/>
<line x1="342.2" y1="160.21" x2="343.5" y2="160.21" stroke="#444" stroke-width="0.35"/>
<line x1="342.2" y1="158.56" x2="343.5" y2="158.56" stroke="#444" stroke-width="0.35"/>
<line x1="342.2" y1="157.20" x2="343.5" y2="157.20" stroke="#444" stroke-width="0.35"/>
<line x1="342.2" y1="156.05" x2="343.5" y2="156.05" stroke="#444" stroke-width="0.35"/>
<line x1="342.2" y1="155.06" x2="343.5" y2="155.06" stroke="#444" stroke-width="0.35"/>
<line x1="342.2" y1="154.18" x2="343.5" y2="154.18" stroke="#444" stroke-width="0.35"/>
<line x1="340.7" y1="170.53" x2="343.5" y2="170.53" stroke="#222" stroke-width="0.6"/>
<text x="340.00" y="172.03" font-size="4.0" font-weight="bold" fill="#222" text-anchor="end" >10000</text>
<line x1="342.2" y1="182.49" x2="343.5" y2="182.49" stroke="#444" stroke-width="0.35"/>
<line x1="342.2" y1="179.48" x2="343.5" y2="179.48" stroke="#444" stroke-width="0.35"/>
<line x1="342.2" y1="177.34" x2="343.5" y2="177.34" stroke="#444" stroke-width="0.35"/>
<line x1="342.2" y1="175.68" x2="343.5" y2="175.68" stroke="#444" stroke-width="0.35"/>
<line x1="342.2" y1="174.32" x2="343.5" y2="174.32" stroke="#444" stroke-width="0.35"/>
<line x1="342.2" y1="173.18" x2="343.5" y2="173.18" stroke="#444" stroke-width="0.35"/>
<line x1="342.2" y1="172.18" x2="343.5" y2="172.18" stroke="#444" stroke-width="0.35"/>
<line x1="342.2" y1="171.31" x2="343.5" y2="171.31" stroke="#444" stroke-width="0.35"/>
<line x1="340.7" y1="187.65" x2="343.5" y2="187.65" stroke="#222" stroke-width="0.6"/>
<text x="340.00" y="189.15" font-size="4.0" font-weight="bold" fill="#222" text-anchor="end" >1000</text>
<line x1="342.2" y1="199.62" x2="343.5" y2="199.62" stroke="#444" stroke-width="0.35"/>
<line x1="342.2" y1="196.60" x2="343.5" y2="196.60" stroke="#444" stroke-width="0.35"/>
<line x1="342.2" y1="194.46" x2="343.5" y2="194.46" stroke="#444" stroke-width="0.35"/>
<line x1="342.2" y1="192.81" x2="343.5" y2="192.81" stroke="#444" stroke-width="0.35"/>
<line x1="342.2" y1="191.45" x2="343.5" y2="191.45" stroke="#444" stroke-width="0.35"/>
<line x1="342.2" y1="190.30" x2="343.5" y2="190.30" stroke="#444" stroke-width="0.35"/>
<line x1="342.2" y1="189.31" x2="343.5" y2="189.31" stroke="#444" stroke-width="0.35"/>
<line x1="342.2" y1="188.43" x2="343.5" y2="188.43" stroke="#444" stroke-width="0.35"/>
<line x1="340.7" y1="204.78" x2="343.5" y2="204.78" stroke="#222" stroke-width="0.6"/>
<text x="340.00" y="206.28" font-size="4.0" font-weight="bold" fill="#222" text-anchor="end" >100</text>
<line x1="342.2" y1="216.74" x2="343.5" y2="216.74" stroke="#444" stroke-width="0.35"/>
<line x1="342.2" y1="213.73" x2="343.5" y2="213.73" stroke="#444" stroke-width="0.35"/>
<line x1="342.2" y1="211.59" x2="343.5" y2="211.59" stroke="#444" stroke-width="0.35"/>
<line x1="342.2" y1="209.93" x2="343.5" y2="209.93" stroke="#444" stroke-width="0.35"/>
<line x1="342.2" y1="208.57" x2="343.5" y2="208.57" stroke="#444" stroke-width="0.35"/>
<line x1="342.2" y1="207.43" x2="343.5" y2="207.43" stroke="#444" stroke-width="0.35"/>
<line x1="342.2" y1="206.43" x2="343.5" y2="206.43" stroke="#444" stroke-width="0.35"/>
<line x1="342.2" y1="205.56" x2="343.5" y2="205.56" stroke="#444" stroke-width="0.35"/>
<line x1="340.7" y1="221.90" x2="343.5" y2="221.90" stroke="#222" stroke-width="0.6"/>
<text x="340.00" y="223.40" font-size="4.0" font-weight="bold" fill="#222" text-anchor="end" >10</text>
<line x1="376.60" y1="221.9" x2="376.60" y2="224.1" stroke="#222" stroke-width="0.6"/>
<line x1="390.50" y1="221.9" x2="390.50" y2="224.1" stroke="#222" stroke-width="0.6"/>
<line x1="404.20" y1="221.9" x2="404.20" y2="224.1" stroke="#222" stroke-width="0.6"/>
<line x1="418.00" y1="221.9" x2="418.00" y2="224.1" stroke="#222" stroke-width="0.6"/>
<line x1="430.80" y1="221.9" x2="430.80" y2="224.1" stroke="#222" stroke-width="0.6"/>
<line x1="380.77" y1="221.9" x2="380.77" y2="223.1" stroke="#444" stroke-width="0.4"/>
<line x1="383.27" y1="221.9" x2="383.27" y2="223.1" stroke="#444" stroke-width="0.4"/>
<line x1="385.22" y1="221.9" x2="385.22" y2="223.1" stroke="#444" stroke-width="0.4"/>
<line x1="386.61" y1="221.9" x2="386.61" y2="223.1" stroke="#444" stroke-width="0.4"/>
<line x1="387.72" y1="221.9" x2="387.72" y2="223.1" stroke="#444" stroke-width="0.4"/>
<line x1="388.69" y1="221.9" x2="388.69" y2="223.1" stroke="#444" stroke-width="0.4"/>
<line x1="389.53" y1="221.9" x2="389.53" y2="223.1" stroke="#444" stroke-width="0.4"/>
<line x1="394.61" y1="221.9" x2="394.61" y2="223.1" stroke="#444" stroke-width="0.4"/>
<line x1="397.08" y1="221.9" x2="397.08" y2="223.1" stroke="#444" stroke-width="0.4"/>
<line x1="398.99" y1="221.9" x2="398.99" y2="223.1" stroke="#444" stroke-width="0.4"/>
<line x1="400.36" y1="221.9" x2="400.36" y2="223.1" stroke="#444" stroke-width="0.4"/>
<line x1="401.46" y1="221.9" x2="401.46" y2="223.1" stroke="#444" stroke-width="0.4"/>
<line x1="402.42" y1="221.9" x2="402.42" y2="223.1" stroke="#444" stroke-width="0.4"/>
<line x1="403.24" y1="221.9" x2="403.24" y2="223.1" stroke="#444" stroke-width="0.4"/>
<line x1="408.34" y1="221.9" x2="408.34" y2="223.1" stroke="#444" stroke-width="0.4"/>
<line x1="410.82" y1="221.9" x2="410.82" y2="223.1" stroke="#444" stroke-width="0.4"/>
<line x1="412.76" y1="221.9" x2="412.76" y2="223.1" stroke="#444" stroke-width="0.4"/>
<line x1="414.14" y1="221.9" x2="414.14" y2="223.1" stroke="#444" stroke-width="0.4"/>
<line x1="415.24" y1="221.9" x2="415.24" y2="223.1" stroke="#444" stroke-width="0.4"/>
<line x1="416.21" y1="221.9" x2="416.21" y2="223.1" stroke="#444" stroke-width="0.4"/>
<line x1="417.03" y1="221.9" x2="417.03" y2="223.1" stroke="#444" stroke-width="0.4"/>
<line x1="421.84" y1="221.9" x2="421.84" y2="223.1" stroke="#444" stroke-width="0.4"/>
<line x1="424.14" y1="221.9" x2="424.14" y2="223.1" stroke="#444" stroke-width="0.4"/>
<line x1="425.94" y1="221.9" x2="425.94" y2="223.1" stroke="#444" stroke-width="0.4"/>
<line x1="427.22" y1="221.9" x2="427.22" y2="223.1" stroke="#444" stroke-width="0.4"/>
<line x1="428.24" y1="221.9" x2="428.24" y2="223.1" stroke="#444" stroke-width="0.4"/>
<line x1="429.14" y1="221.9" x2="429.14" y2="223.1" stroke="#444" stroke-width="0.4"/>
<line x1="429.90" y1="221.9" x2="429.90" y2="223.1" stroke="#444" stroke-width="0.4"/>
<text x="0" y="0" transform="translate(323.5,189.15) scale(0.86,1) rotate(-90)" font-size="6.6" font-weight="bold" text-anchor="middle" fill="#111">TNF (pg/mL)</text>
<text x="343.50" y="230.30" font-size="5.2" font-weight="bold" fill="#000" text-anchor="middle" >0</text>
<text x="387.50" y="230.30" font-size="4.7" font-weight="bold" fill="#000" text-anchor="middle" >Concentration</text>
<polygon points="360.3,234.7 430.8,229 430.8,234.7" fill="#000"/>
<text x="361.5" y="242" font-size="4.4" font-weight="bold" fill="#111">1.5x10<tspan dy="-1.85" font-size="3.17">-6</tspan></text>
<text x="422" y="242" font-size="4.4" font-weight="bold" fill="#111">10<tspan dy="-1.85" font-size="3.17">-2</tspan></text>
<polyline points="343.50,204.50 376.60,206.00 390.50,206.00 404.20,206.00 418.00,204.50 430.80,207.50" fill="none" stroke="#2F55A4" stroke-width="0.55" stroke-opacity="0.8"/>
<circle cx="343.50" cy="204.50" r="1.35" fill="#2F55A4"/>
<circle cx="376.60" cy="206.00" r="1.35" fill="#2F55A4"/>
<circle cx="390.50" cy="206.00" r="1.35" fill="#2F55A4"/>
<circle cx="404.20" cy="206.00" r="1.35" fill="#2F55A4"/>
<circle cx="418.00" cy="204.50" r="1.35" fill="#2F55A4"/>
<circle cx="430.80" cy="207.50" r="1.35" fill="#2F55A4"/>
<polyline points="343.50,204.50 376.60,207.50 390.50,204.00 404.20,204.50 418.00,203.50 430.80,204.00" fill="none" stroke="#E8232A" stroke-width="0.55" stroke-opacity="0.8"/>
<circle cx="343.50" cy="204.50" r="1.35" fill="#E8232A"/>
<line x1="376.60" y1="207.50" x2="376.60" y2="202.50" stroke="#E8232A" stroke-width="0.5" stroke-opacity="0.7"/><line x1="375.30" y1="202.50" x2="377.90" y2="202.50" stroke="#E8232A" stroke-width="0.5" stroke-opacity="0.7"/>
<circle cx="376.60" cy="207.50" r="1.35" fill="#E8232A"/>
<line x1="390.50" y1="204.00" x2="390.50" y2="198.00" stroke="#E8232A" stroke-width="0.5" stroke-opacity="0.7"/><line x1="389.20" y1="198.00" x2="391.80" y2="198.00" stroke="#E8232A" stroke-width="0.5" stroke-opacity="0.7"/>
<circle cx="390.50" cy="204.00" r="1.35" fill="#E8232A"/>
<line x1="404.20" y1="204.50" x2="404.20" y2="199.50" stroke="#E8232A" stroke-width="0.5" stroke-opacity="0.7"/><line x1="402.90" y1="199.50" x2="405.50" y2="199.50" stroke="#E8232A" stroke-width="0.5" stroke-opacity="0.7"/>
<circle cx="404.20" cy="204.50" r="1.35" fill="#E8232A"/>
<circle cx="418.00" cy="203.50" r="1.35" fill="#E8232A"/>
<circle cx="430.80" cy="204.00" r="1.35" fill="#E8232A"/>
<polyline points="343.50,204.50 376.60,206.00 390.50,205.00 404.20,205.00 418.00,202.50 430.80,200.50" fill="none" stroke="#7B52AB" stroke-width="0.55" stroke-opacity="0.55"/>
<line x1="343.50" y1="204.50" x2="343.50" y2="199.50" stroke="#7B52AB" stroke-width="0.5" stroke-opacity="0.7"/><line x1="342.20" y1="199.50" x2="344.80" y2="199.50" stroke="#7B52AB" stroke-width="0.5" stroke-opacity="0.7"/>
<circle cx="343.50" cy="204.50" r="1.35" fill="#7B52AB"/>
<circle cx="376.60" cy="206.00" r="1.35" fill="#7B52AB"/>
<line x1="390.50" y1="205.00" x2="390.50" y2="201.00" stroke="#7B52AB" stroke-width="0.5" stroke-opacity="0.7"/><line x1="389.20" y1="201.00" x2="391.80" y2="201.00" stroke="#7B52AB" stroke-width="0.5" stroke-opacity="0.7"/>
<circle cx="390.50" cy="205.00" r="1.35" fill="#7B52AB"/>
<line x1="404.20" y1="205.00" x2="404.20" y2="202.00" stroke="#7B52AB" stroke-width="0.5" stroke-opacity="0.7"/><line x1="402.90" y1="202.00" x2="405.50" y2="202.00" stroke="#7B52AB" stroke-width="0.5" stroke-opacity="0.7"/>
<circle cx="404.20" cy="205.00" r="1.35" fill="#7B52AB"/>
<line x1="418.00" y1="202.50" x2="418.00" y2="197.50" stroke="#7B52AB" stroke-width="0.5" stroke-opacity="0.7"/><line x1="416.70" y1="197.50" x2="419.30" y2="197.50" stroke="#7B52AB" stroke-width="0.5" stroke-opacity="0.7"/>
<circle cx="418.00" cy="202.50" r="1.35" fill="#7B52AB"/>
<line x1="430.80" y1="200.50" x2="430.80" y2="195.50" stroke="#7B52AB" stroke-width="0.5" stroke-opacity="0.7"/><line x1="429.50" y1="195.50" x2="432.10" y2="195.50" stroke="#7B52AB" stroke-width="0.5" stroke-opacity="0.7"/>
<circle cx="430.80" cy="200.50" r="1.35" fill="#7B52AB"/>
<line x1="345.5" y1="158.0" x2="350.5" y2="158.0" stroke="#7B52AB" stroke-width="0.6"/><circle cx="348" cy="158.0" r="1.35" fill="#7B52AB"/>
<text x="354.30" y="160.10" font-size="5.5" font-weight="bold" fill="#111" text-anchor="start" >LMQ</text>
<line x1="345.5" y1="167.7" x2="350.5" y2="167.7" stroke="#E8232A" stroke-width="0.6"/><circle cx="348" cy="167.7" r="1.35" fill="#E8232A"/>
<text x="354.30" y="169.80" font-size="5.5" font-weight="bold" fill="#111" text-anchor="start" >LM</text>
<line x1="345.5" y1="177.4" x2="350.5" y2="177.4" stroke="#2F55A4" stroke-width="0.6"/><circle cx="348" cy="177.4" r="1.35" fill="#2F55A4"/>
<text x="354.30" y="179.50" font-size="5.5" font-weight="bold" fill="#111" text-anchor="start" >LQ</text>
<text x="463.60" y="154.40" font-size="8" font-weight="bold" fill="#000" text-anchor="start" >OIW</text>
<line x1="462.6" y1="160.5" x2="462.6" y2="221.9" stroke="#222" stroke-width="0.8"/>
<line x1="462.6" y1="221.9" x2="541.7" y2="221.9" stroke="#222" stroke-width="0.8"/>
<line x1="459.8" y1="160.50" x2="462.6" y2="160.50" stroke="#222" stroke-width="0.6"/>
<text x="459.10" y="162.00" font-size="4.0" font-weight="bold" fill="#222" text-anchor="end" >100000</text>
<line x1="461.3" y1="171.23" x2="462.6" y2="171.23" stroke="#444" stroke-width="0.35"/>
<line x1="461.3" y1="168.53" x2="462.6" y2="168.53" stroke="#444" stroke-width="0.35"/>
<line x1="461.3" y1="166.61" x2="462.6" y2="166.61" stroke="#444" stroke-width="0.35"/>
<line x1="461.3" y1="165.12" x2="462.6" y2="165.12" stroke="#444" stroke-width="0.35"/>
<line x1="461.3" y1="163.91" x2="462.6" y2="163.91" stroke="#444" stroke-width="0.35"/>
<line x1="461.3" y1="162.88" x2="462.6" y2="162.88" stroke="#444" stroke-width="0.35"/>
<line x1="461.3" y1="161.99" x2="462.6" y2="161.99" stroke="#444" stroke-width="0.35"/>
<line x1="461.3" y1="161.20" x2="462.6" y2="161.20" stroke="#444" stroke-width="0.35"/>
<line x1="459.8" y1="175.85" x2="462.6" y2="175.85" stroke="#222" stroke-width="0.6"/>
<text x="459.10" y="177.35" font-size="4.0" font-weight="bold" fill="#222" text-anchor="end" >10000</text>
<line x1="461.3" y1="186.58" x2="462.6" y2="186.58" stroke="#444" stroke-width="0.35"/>
<line x1="461.3" y1="183.88" x2="462.6" y2="183.88" stroke="#444" stroke-width="0.35"/>
<line x1="461.3" y1="181.96" x2="462.6" y2="181.96" stroke="#444" stroke-width="0.35"/>
<line x1="461.3" y1="180.47" x2="462.6" y2="180.47" stroke="#444" stroke-width="0.35"/>
<line x1="461.3" y1="179.26" x2="462.6" y2="179.26" stroke="#444" stroke-width="0.35"/>
<line x1="461.3" y1="178.23" x2="462.6" y2="178.23" stroke="#444" stroke-width="0.35"/>
<line x1="461.3" y1="177.34" x2="462.6" y2="177.34" stroke="#444" stroke-width="0.35"/>
<line x1="461.3" y1="176.55" x2="462.6" y2="176.55" stroke="#444" stroke-width="0.35"/>
<line x1="459.8" y1="191.20" x2="462.6" y2="191.20" stroke="#222" stroke-width="0.6"/>
<text x="459.10" y="192.70" font-size="4.0" font-weight="bold" fill="#222" text-anchor="end" >1000</text>
<line x1="461.3" y1="201.93" x2="462.6" y2="201.93" stroke="#444" stroke-width="0.35"/>
<line x1="461.3" y1="199.23" x2="462.6" y2="199.23" stroke="#444" stroke-width="0.35"/>
<line x1="461.3" y1="197.31" x2="462.6" y2="197.31" stroke="#444" stroke-width="0.35"/>
<line x1="461.3" y1="195.82" x2="462.6" y2="195.82" stroke="#444" stroke-width="0.35"/>
<line x1="461.3" y1="194.61" x2="462.6" y2="194.61" stroke="#444" stroke-width="0.35"/>
<line x1="461.3" y1="193.58" x2="462.6" y2="193.58" stroke="#444" stroke-width="0.35"/>
<line x1="461.3" y1="192.69" x2="462.6" y2="192.69" stroke="#444" stroke-width="0.35"/>
<line x1="461.3" y1="191.90" x2="462.6" y2="191.90" stroke="#444" stroke-width="0.35"/>
<line x1="459.8" y1="206.55" x2="462.6" y2="206.55" stroke="#222" stroke-width="0.6"/>
<text x="459.10" y="208.05" font-size="4.0" font-weight="bold" fill="#222" text-anchor="end" >100</text>
<line x1="461.3" y1="217.28" x2="462.6" y2="217.28" stroke="#444" stroke-width="0.35"/>
<line x1="461.3" y1="214.58" x2="462.6" y2="214.58" stroke="#444" stroke-width="0.35"/>
<line x1="461.3" y1="212.66" x2="462.6" y2="212.66" stroke="#444" stroke-width="0.35"/>
<line x1="461.3" y1="211.17" x2="462.6" y2="211.17" stroke="#444" stroke-width="0.35"/>
<line x1="461.3" y1="209.96" x2="462.6" y2="209.96" stroke="#444" stroke-width="0.35"/>
<line x1="461.3" y1="208.93" x2="462.6" y2="208.93" stroke="#444" stroke-width="0.35"/>
<line x1="461.3" y1="208.04" x2="462.6" y2="208.04" stroke="#444" stroke-width="0.35"/>
<line x1="461.3" y1="207.25" x2="462.6" y2="207.25" stroke="#444" stroke-width="0.35"/>
<line x1="459.8" y1="221.90" x2="462.6" y2="221.90" stroke="#222" stroke-width="0.6"/>
<text x="459.10" y="223.40" font-size="4.0" font-weight="bold" fill="#222" text-anchor="end" >10</text>
<line x1="492.80" y1="221.9" x2="492.80" y2="224.1" stroke="#222" stroke-width="0.6"/>
<line x1="505.00" y1="221.9" x2="505.00" y2="224.1" stroke="#222" stroke-width="0.6"/>
<line x1="517.40" y1="221.9" x2="517.40" y2="224.1" stroke="#222" stroke-width="0.6"/>
<line x1="529.60" y1="221.9" x2="529.60" y2="224.1" stroke="#222" stroke-width="0.6"/>
<line x1="541.70" y1="221.9" x2="541.70" y2="224.1" stroke="#222" stroke-width="0.6"/>
<line x1="496.46" y1="221.9" x2="496.46" y2="223.1" stroke="#444" stroke-width="0.4"/>
<line x1="498.66" y1="221.9" x2="498.66" y2="223.1" stroke="#444" stroke-width="0.4"/>
<line x1="500.36" y1="221.9" x2="500.36" y2="223.1" stroke="#444" stroke-width="0.4"/>
<line x1="501.58" y1="221.9" x2="501.58" y2="223.1" stroke="#444" stroke-width="0.4"/>
<line x1="502.56" y1="221.9" x2="502.56" y2="223.1" stroke="#444" stroke-width="0.4"/>
<line x1="503.41" y1="221.9" x2="503.41" y2="223.1" stroke="#444" stroke-width="0.4"/>
<line x1="504.15" y1="221.9" x2="504.15" y2="223.1" stroke="#444" stroke-width="0.4"/>
<line x1="508.72" y1="221.9" x2="508.72" y2="223.1" stroke="#444" stroke-width="0.4"/>
<line x1="510.95" y1="221.9" x2="510.95" y2="223.1" stroke="#444" stroke-width="0.4"/>
<line x1="512.69" y1="221.9" x2="512.69" y2="223.1" stroke="#444" stroke-width="0.4"/>
<line x1="513.93" y1="221.9" x2="513.93" y2="223.1" stroke="#444" stroke-width="0.4"/>
<line x1="514.92" y1="221.9" x2="514.92" y2="223.1" stroke="#444" stroke-width="0.4"/>
<line x1="515.79" y1="221.9" x2="515.79" y2="223.1" stroke="#444" stroke-width="0.4"/>
<line x1="516.53" y1="221.9" x2="516.53" y2="223.1" stroke="#444" stroke-width="0.4"/>
<line x1="521.06" y1="221.9" x2="521.06" y2="223.1" stroke="#444" stroke-width="0.4"/>
<line x1="523.26" y1="221.9" x2="523.26" y2="223.1" stroke="#444" stroke-width="0.4"/>
<line x1="524.96" y1="221.9" x2="524.96" y2="223.1" stroke="#444" stroke-width="0.4"/>
<line x1="526.18" y1="221.9" x2="526.18" y2="223.1" stroke="#444" stroke-width="0.4"/>
<line x1="527.16" y1="221.9" x2="527.16" y2="223.1" stroke="#444" stroke-width="0.4"/>
<line x1="528.01" y1="221.9" x2="528.01" y2="223.1" stroke="#444" stroke-width="0.4"/>
<line x1="528.75" y1="221.9" x2="528.75" y2="223.1" stroke="#444" stroke-width="0.4"/>
<line x1="533.23" y1="221.9" x2="533.23" y2="223.1" stroke="#444" stroke-width="0.4"/>
<line x1="535.41" y1="221.9" x2="535.41" y2="223.1" stroke="#444" stroke-width="0.4"/>
<line x1="537.10" y1="221.9" x2="537.10" y2="223.1" stroke="#444" stroke-width="0.4"/>
<line x1="538.31" y1="221.9" x2="538.31" y2="223.1" stroke="#444" stroke-width="0.4"/>
<line x1="539.28" y1="221.9" x2="539.28" y2="223.1" stroke="#444" stroke-width="0.4"/>
<line x1="540.13" y1="221.9" x2="540.13" y2="223.1" stroke="#444" stroke-width="0.4"/>
<line x1="540.85" y1="221.9" x2="540.85" y2="223.1" stroke="#444" stroke-width="0.4"/>
<text x="0" y="0" transform="translate(444.5,192.7) scale(0.86,1) rotate(-90)" font-size="6.6" font-weight="bold" text-anchor="middle" fill="#111">TNF (pg/mL)</text>
<text x="462.60" y="230.30" font-size="5.2" font-weight="bold" fill="#000" text-anchor="middle" >0</text>
<text x="502.40" y="230.30" font-size="4.7" font-weight="bold" fill="#000" text-anchor="middle" >Concentration</text>
<polygon points="479,234.1 541.7,228.6 541.7,234.1" fill="#000"/>
<text x="479" y="241" font-size="4.4" font-weight="bold" fill="#111">1.5x10<tspan dy="-1.85" font-size="3.17">-5</tspan></text>
<text x="534.6" y="241" font-size="4.4" font-weight="bold" fill="#111">10<tspan dy="-1.85" font-size="3.17">-2</tspan></text>
<polyline points="462.60,206.00 492.80,207.00 505.00,209.00 517.40,209.00 529.60,207.00 541.70,207.00" fill="none" stroke="#808080" stroke-width="0.55" stroke-opacity="0.8"/>
<circle cx="462.60" cy="206.00" r="1.35" fill="#808080"/>
<circle cx="492.80" cy="207.00" r="1.35" fill="#808080"/>
<circle cx="505.00" cy="209.00" r="1.35" fill="#808080"/>
<circle cx="517.40" cy="209.00" r="1.35" fill="#808080"/>
<circle cx="529.60" cy="207.00" r="1.35" fill="#808080"/>
<circle cx="541.70" cy="207.00" r="1.35" fill="#808080"/>
<polyline points="462.60,206.00 492.80,205.00 505.00,209.00 517.40,206.00 529.60,204.00 541.70,207.00" fill="none" stroke="#2F55A4" stroke-width="0.55" stroke-opacity="0.8"/>
<circle cx="462.60" cy="206.00" r="1.35" fill="#2F55A4"/>
<line x1="492.80" y1="205.00" x2="492.80" y2="198.00" stroke="#2F55A4" stroke-width="0.5" stroke-opacity="0.7"/><line x1="491.50" y1="198.00" x2="494.10" y2="198.00" stroke="#2F55A4" stroke-width="0.5" stroke-opacity="0.7"/>
<circle cx="492.80" cy="205.00" r="1.35" fill="#2F55A4"/>
<circle cx="505.00" cy="209.00" r="1.35" fill="#2F55A4"/>
<line x1="517.40" y1="206.00" x2="517.40" y2="201.00" stroke="#2F55A4" stroke-width="0.5" stroke-opacity="0.7"/><line x1="516.10" y1="201.00" x2="518.70" y2="201.00" stroke="#2F55A4" stroke-width="0.5" stroke-opacity="0.7"/>
<circle cx="517.40" cy="206.00" r="1.35" fill="#2F55A4"/>
<line x1="529.60" y1="204.00" x2="529.60" y2="199.00" stroke="#2F55A4" stroke-width="0.5" stroke-opacity="0.7"/><line x1="528.30" y1="199.00" x2="530.90" y2="199.00" stroke="#2F55A4" stroke-width="0.5" stroke-opacity="0.7"/>
<circle cx="529.60" cy="204.00" r="1.35" fill="#2F55A4"/>
<line x1="541.70" y1="207.00" x2="541.70" y2="202.00" stroke="#2F55A4" stroke-width="0.5" stroke-opacity="0.7"/><line x1="540.40" y1="202.00" x2="543.00" y2="202.00" stroke="#2F55A4" stroke-width="0.5" stroke-opacity="0.7"/>
<circle cx="541.70" cy="207.00" r="1.35" fill="#2F55A4"/>
<polyline points="462.60,206.00 492.80,209.60 505.00,206.50 517.40,199.40 529.60,172.40 541.70,169.10" fill="none" stroke="#E8232A" stroke-width="0.55" stroke-opacity="0.8"/>
<line x1="462.60" y1="206.00" x2="462.60" y2="201.00" stroke="#E8232A" stroke-width="0.5" stroke-opacity="0.7"/><line x1="461.30" y1="201.00" x2="463.90" y2="201.00" stroke="#E8232A" stroke-width="0.5" stroke-opacity="0.7"/>
<circle cx="462.60" cy="206.00" r="1.35" fill="#E8232A"/>
<circle cx="492.80" cy="209.60" r="1.35" fill="#E8232A"/>
<line x1="505.00" y1="206.50" x2="505.00" y2="201.50" stroke="#E8232A" stroke-width="0.5" stroke-opacity="0.7"/><line x1="503.70" y1="201.50" x2="506.30" y2="201.50" stroke="#E8232A" stroke-width="0.5" stroke-opacity="0.7"/>
<circle cx="505.00" cy="206.50" r="1.35" fill="#E8232A"/>
<line x1="517.40" y1="199.40" x2="517.40" y2="195.40" stroke="#E8232A" stroke-width="0.5" stroke-opacity="0.7"/><line x1="516.10" y1="195.40" x2="518.70" y2="195.40" stroke="#E8232A" stroke-width="0.5" stroke-opacity="0.7"/>
<circle cx="517.40" cy="199.40" r="1.35" fill="#E8232A"/>
<line x1="529.60" y1="172.40" x2="529.60" y2="164.40" stroke="#E8232A" stroke-width="0.5" stroke-opacity="0.7"/><line x1="528.30" y1="164.40" x2="530.90" y2="164.40" stroke="#E8232A" stroke-width="0.5" stroke-opacity="0.7"/>
<circle cx="529.60" cy="172.40" r="1.35" fill="#E8232A"/>
<line x1="541.70" y1="169.10" x2="541.70" y2="162.10" stroke="#E8232A" stroke-width="0.5" stroke-opacity="0.7"/><line x1="540.40" y1="162.10" x2="543.00" y2="162.10" stroke="#E8232A" stroke-width="0.5" stroke-opacity="0.7"/>
<circle cx="541.70" cy="169.10" r="1.35" fill="#E8232A"/>
<polyline points="462.60,206.00 492.80,206.00 505.00,208.60 517.40,199.40 529.60,189.80 541.70,169.10" fill="none" stroke="#7B52AB" stroke-width="0.55" stroke-opacity="0.55"/>
<circle cx="462.60" cy="206.00" r="1.35" fill="#7B52AB"/>
<circle cx="492.80" cy="206.00" r="1.35" fill="#7B52AB"/>
<circle cx="505.00" cy="208.60" r="1.35" fill="#7B52AB"/>
<circle cx="517.40" cy="199.40" r="1.35" fill="#7B52AB"/>
<line x1="529.60" y1="189.80" x2="529.60" y2="184.80" stroke="#7B52AB" stroke-width="0.5" stroke-opacity="0.7"/><line x1="528.30" y1="184.80" x2="530.90" y2="184.80" stroke="#7B52AB" stroke-width="0.5" stroke-opacity="0.7"/>
<circle cx="529.60" cy="189.80" r="1.35" fill="#7B52AB"/>
<circle cx="541.70" cy="169.10" r="1.35" fill="#7B52AB"/>
<line x1="463.2" y1="162.2" x2="468.2" y2="162.2" stroke="#7B52AB" stroke-width="0.6"/><circle cx="465.7" cy="162.2" r="1.35" fill="#7B52AB"/>
<text x="472.00" y="164.30" font-size="5.5" font-weight="bold" fill="#111" text-anchor="start" >SMQ</text>
<line x1="463.2" y1="170.85" x2="468.2" y2="170.85" stroke="#E8232A" stroke-width="0.6"/><circle cx="465.7" cy="170.85" r="1.35" fill="#E8232A"/>
<text x="472.00" y="172.95" font-size="5.5" font-weight="bold" fill="#111" text-anchor="start" >SM</text>
<line x1="463.2" y1="179.5" x2="468.2" y2="179.5" stroke="#2F55A4" stroke-width="0.6"/><circle cx="465.7" cy="179.5" r="1.35" fill="#2F55A4"/>
<text x="472.00" y="181.60" font-size="5.5" font-weight="bold" fill="#111" text-anchor="start" >SQ</text>
<line x1="463.2" y1="188.14999999999998" x2="468.2" y2="188.14999999999998" stroke="#808080" stroke-width="0.6"/><circle cx="465.7" cy="188.14999999999998" r="1.35" fill="#808080"/>
<text x="472.00" y="190.25" font-size="5.5" font-weight="bold" fill="#111" text-anchor="start" >SWE</text>
<text x="529.60" y="166.00" font-size="6" font-weight="bold" fill="#E8232A" text-anchor="middle" >**</text>
<text x="541.70" y="160.90" font-size="6" font-weight="bold" fill="#E8232A" text-anchor="middle" >***</text>
<text x="541.70" y="164.60" font-size="6" font-weight="bold" fill="#7B52AB" text-anchor="middle" >***</text>
<line x1="546.4" y1="168.7" x2="546.4" y2="207.6" stroke="#333" stroke-width="0.6"/>
<line x1="549.5" y1="168.7" x2="549.5" y2="207.6" stroke="#333" stroke-width="0.6"/>
<line x1="553.1" y1="168.7" x2="553.1" y2="207.6" stroke="#333" stroke-width="0.6"/>
<line x1="556.6" y1="168.7" x2="556.6" y2="207.6" stroke="#333" stroke-width="0.6"/>
<text x="0" y="0" transform="translate(550.6999999999999,186) rotate(-90)" font-size="5.5" font-weight="bold" text-anchor="middle" fill="#333">***</text>
<text x="0" y="0" transform="translate(554.4,186) rotate(-90)" font-size="5.5" font-weight="bold" text-anchor="middle" fill="#333">***</text>
<text x="0" y="0" transform="translate(558.5,186) rotate(-90)" font-size="5.5" font-weight="bold" text-anchor="middle" fill="#333">***</text>
<text x="0" y="0" transform="translate(561.9,186) rotate(-90)" font-size="5.5" font-weight="bold" text-anchor="middle" fill="#333">***</text>
<text x="595.90" y="155.60" font-size="8" font-weight="bold" fill="#000" text-anchor="start" >Other</text>
<line x1="594.6" y1="162.7" x2="594.6" y2="222.8" stroke="#222" stroke-width="0.8"/>
<line x1="594.6" y1="222.8" x2="671.9" y2="222.8" stroke="#222" stroke-width="0.8"/>
<line x1="591.8000000000001" y1="162.70" x2="594.6" y2="162.70" stroke="#222" stroke-width="0.6"/>
<text x="591.10" y="164.20" font-size="4.0" font-weight="bold" fill="#222" text-anchor="end" >100000</text>
<line x1="593.3000000000001" y1="173.20" x2="594.6" y2="173.20" stroke="#444" stroke-width="0.35"/>
<line x1="593.3000000000001" y1="170.56" x2="594.6" y2="170.56" stroke="#444" stroke-width="0.35"/>
<line x1="593.3000000000001" y1="168.68" x2="594.6" y2="168.68" stroke="#444" stroke-width="0.35"/>
<line x1="593.3000000000001" y1="167.22" x2="594.6" y2="167.22" stroke="#444" stroke-width="0.35"/>
<line x1="593.3000000000001" y1="166.03" x2="594.6" y2="166.03" stroke="#444" stroke-width="0.35"/>
<line x1="593.3000000000001" y1="165.03" x2="594.6" y2="165.03" stroke="#444" stroke-width="0.35"/>
<line x1="593.3000000000001" y1="164.16" x2="594.6" y2="164.16" stroke="#444" stroke-width="0.35"/>
<line x1="593.3000000000001" y1="163.39" x2="594.6" y2="163.39" stroke="#444" stroke-width="0.35"/>
<line x1="591.8000000000001" y1="177.72" x2="594.6" y2="177.72" stroke="#222" stroke-width="0.6"/>
<text x="591.10" y="179.22" font-size="4.0" font-weight="bold" fill="#222" text-anchor="end" >10000</text>
<line x1="593.3000000000001" y1="188.23" x2="594.6" y2="188.23" stroke="#444" stroke-width="0.35"/>
<line x1="593.3000000000001" y1="185.58" x2="594.6" y2="185.58" stroke="#444" stroke-width="0.35"/>
<line x1="593.3000000000001" y1="183.70" x2="594.6" y2="183.70" stroke="#444" stroke-width="0.35"/>
<line x1="593.3000000000001" y1="182.25" x2="594.6" y2="182.25" stroke="#444" stroke-width="0.35"/>
<line x1="593.3000000000001" y1="181.06" x2="594.6" y2="181.06" stroke="#444" stroke-width="0.35"/>
<line x1="593.3000000000001" y1="180.05" x2="594.6" y2="180.05" stroke="#444" stroke-width="0.35"/>
<line x1="593.3000000000001" y1="179.18" x2="594.6" y2="179.18" stroke="#444" stroke-width="0.35"/>
<line x1="593.3000000000001" y1="178.41" x2="594.6" y2="178.41" stroke="#444" stroke-width="0.35"/>
<line x1="591.8000000000001" y1="192.75" x2="594.6" y2="192.75" stroke="#222" stroke-width="0.6"/>
<text x="591.10" y="194.25" font-size="4.0" font-weight="bold" fill="#222" text-anchor="end" >1000</text>
<line x1="593.3000000000001" y1="203.25" x2="594.6" y2="203.25" stroke="#444" stroke-width="0.35"/>
<line x1="593.3000000000001" y1="200.61" x2="594.6" y2="200.61" stroke="#444" stroke-width="0.35"/>
<line x1="593.3000000000001" y1="198.73" x2="594.6" y2="198.73" stroke="#444" stroke-width="0.35"/>
<line x1="593.3000000000001" y1="197.27" x2="594.6" y2="197.27" stroke="#444" stroke-width="0.35"/>
<line x1="593.3000000000001" y1="196.08" x2="594.6" y2="196.08" stroke="#444" stroke-width="0.35"/>
<line x1="593.3000000000001" y1="195.08" x2="594.6" y2="195.08" stroke="#444" stroke-width="0.35"/>
<line x1="593.3000000000001" y1="194.21" x2="594.6" y2="194.21" stroke="#444" stroke-width="0.35"/>
<line x1="593.3000000000001" y1="193.44" x2="594.6" y2="193.44" stroke="#444" stroke-width="0.35"/>
<line x1="591.8000000000001" y1="207.78" x2="594.6" y2="207.78" stroke="#222" stroke-width="0.6"/>
<text x="591.10" y="209.28" font-size="4.0" font-weight="bold" fill="#222" text-anchor="end" >100</text>
<line x1="593.3000000000001" y1="218.28" x2="594.6" y2="218.28" stroke="#444" stroke-width="0.35"/>
<line x1="593.3000000000001" y1="215.63" x2="594.6" y2="215.63" stroke="#444" stroke-width="0.35"/>
<line x1="593.3000000000001" y1="213.75" x2="594.6" y2="213.75" stroke="#444" stroke-width="0.35"/>
<line x1="593.3000000000001" y1="212.30" x2="594.6" y2="212.30" stroke="#444" stroke-width="0.35"/>
<line x1="593.3000000000001" y1="211.11" x2="594.6" y2="211.11" stroke="#444" stroke-width="0.35"/>
<line x1="593.3000000000001" y1="210.10" x2="594.6" y2="210.10" stroke="#444" stroke-width="0.35"/>
<line x1="593.3000000000001" y1="209.23" x2="594.6" y2="209.23" stroke="#444" stroke-width="0.35"/>
<line x1="593.3000000000001" y1="208.46" x2="594.6" y2="208.46" stroke="#444" stroke-width="0.35"/>
<line x1="591.8000000000001" y1="222.80" x2="594.6" y2="222.80" stroke="#222" stroke-width="0.6"/>
<text x="591.10" y="224.30" font-size="4.0" font-weight="bold" fill="#222" text-anchor="end" >10</text>
<line x1="608.50" y1="222.8" x2="608.50" y2="225.0" stroke="#222" stroke-width="0.6"/>
<line x1="620.30" y1="222.8" x2="620.30" y2="225.0" stroke="#222" stroke-width="0.6"/>
<line x1="624.20" y1="222.8" x2="624.20" y2="225.0" stroke="#222" stroke-width="0.6"/>
<line x1="632.70" y1="222.8" x2="632.70" y2="225.0" stroke="#222" stroke-width="0.6"/>
<line x1="636.00" y1="222.8" x2="636.00" y2="225.0" stroke="#222" stroke-width="0.6"/>
<line x1="644.80" y1="222.8" x2="644.80" y2="225.0" stroke="#222" stroke-width="0.6"/>
<line x1="648.00" y1="222.8" x2="648.00" y2="225.0" stroke="#222" stroke-width="0.6"/>
<line x1="656.60" y1="222.8" x2="656.60" y2="225.0" stroke="#222" stroke-width="0.6"/>
<line x1="660.00" y1="222.8" x2="660.00" y2="225.0" stroke="#222" stroke-width="0.6"/>
<line x1="671.90" y1="222.8" x2="671.90" y2="225.0" stroke="#222" stroke-width="0.6"/>
<line x1="612.04" y1="222.8" x2="612.04" y2="224.0" stroke="#444" stroke-width="0.4"/>
<line x1="614.16" y1="222.8" x2="614.16" y2="224.0" stroke="#444" stroke-width="0.4"/>
<line x1="615.82" y1="222.8" x2="615.82" y2="224.0" stroke="#444" stroke-width="0.4"/>
<line x1="617.00" y1="222.8" x2="617.00" y2="224.0" stroke="#444" stroke-width="0.4"/>
<line x1="617.94" y1="222.8" x2="617.94" y2="224.0" stroke="#444" stroke-width="0.4"/>
<line x1="618.77" y1="222.8" x2="618.77" y2="224.0" stroke="#444" stroke-width="0.4"/>
<line x1="619.47" y1="222.8" x2="619.47" y2="224.0" stroke="#444" stroke-width="0.4"/>
<line x1="621.47" y1="222.8" x2="621.47" y2="224.0" stroke="#444" stroke-width="0.4"/>
<line x1="622.17" y1="222.8" x2="622.17" y2="224.0" stroke="#444" stroke-width="0.4"/>
<line x1="622.72" y1="222.8" x2="622.72" y2="224.0" stroke="#444" stroke-width="0.4"/>
<line x1="623.11" y1="222.8" x2="623.11" y2="224.0" stroke="#444" stroke-width="0.4"/>
<line x1="623.42" y1="222.8" x2="623.42" y2="224.0" stroke="#444" stroke-width="0.4"/>
<line x1="623.69" y1="222.8" x2="623.69" y2="224.0" stroke="#444" stroke-width="0.4"/>
<line x1="623.93" y1="222.8" x2="623.93" y2="224.0" stroke="#444" stroke-width="0.4"/>
<line x1="626.75" y1="222.8" x2="626.75" y2="224.0" stroke="#444" stroke-width="0.4"/>
<line x1="628.28" y1="222.8" x2="628.28" y2="224.0" stroke="#444" stroke-width="0.4"/>
<line x1="629.47" y1="222.8" x2="629.47" y2="224.0" stroke="#444" stroke-width="0.4"/>
<line x1="630.32" y1="222.8" x2="630.32" y2="224.0" stroke="#444" stroke-width="0.4"/>
<line x1="631.00" y1="222.8" x2="631.00" y2="224.0" stroke="#444" stroke-width="0.4"/>
<line x1="631.60" y1="222.8" x2="631.60" y2="224.0" stroke="#444" stroke-width="0.4"/>
<line x1="632.11" y1="222.8" x2="632.11" y2="224.0" stroke="#444" stroke-width="0.4"/>
<line x1="633.69" y1="222.8" x2="633.69" y2="224.0" stroke="#444" stroke-width="0.4"/>
<line x1="634.28" y1="222.8" x2="634.28" y2="224.0" stroke="#444" stroke-width="0.4"/>
<line x1="634.75" y1="222.8" x2="634.75" y2="224.0" stroke="#444" stroke-width="0.4"/>
<line x1="635.08" y1="222.8" x2="635.08" y2="224.0" stroke="#444" stroke-width="0.4"/>
<line x1="635.34" y1="222.8" x2="635.34" y2="224.0" stroke="#444" stroke-width="0.4"/>
<line x1="635.57" y1="222.8" x2="635.57" y2="224.0" stroke="#444" stroke-width="0.4"/>
<line x1="635.77" y1="222.8" x2="635.77" y2="224.0" stroke="#444" stroke-width="0.4"/>
<line x1="638.64" y1="222.8" x2="638.64" y2="224.0" stroke="#444" stroke-width="0.4"/>
<line x1="640.22" y1="222.8" x2="640.22" y2="224.0" stroke="#444" stroke-width="0.4"/>
<line x1="641.46" y1="222.8" x2="641.46" y2="224.0" stroke="#444" stroke-width="0.4"/>
<line x1="642.34" y1="222.8" x2="642.34" y2="224.0" stroke="#444" stroke-width="0.4"/>
<line x1="643.04" y1="222.8" x2="643.04" y2="224.0" stroke="#444" stroke-width="0.4"/>
<line x1="643.66" y1="222.8" x2="643.66" y2="224.0" stroke="#444" stroke-width="0.4"/>
<line x1="644.18" y1="222.8" x2="644.18" y2="224.0" stroke="#444" stroke-width="0.4"/>
<line x1="645.76" y1="222.8" x2="645.76" y2="224.0" stroke="#444" stroke-width="0.4"/>
<line x1="646.34" y1="222.8" x2="646.34" y2="224.0" stroke="#444" stroke-width="0.4"/>
<line x1="646.78" y1="222.8" x2="646.78" y2="224.0" stroke="#444" stroke-width="0.4"/>
<line x1="647.10" y1="222.8" x2="647.10" y2="224.0" stroke="#444" stroke-width="0.4"/>
<line x1="647.36" y1="222.8" x2="647.36" y2="224.0" stroke="#444" stroke-width="0.4"/>
<line x1="647.58" y1="222.8" x2="647.58" y2="224.0" stroke="#444" stroke-width="0.4"/>
<line x1="647.78" y1="222.8" x2="647.78" y2="224.0" stroke="#444" stroke-width="0.4"/>
<line x1="650.58" y1="222.8" x2="650.58" y2="224.0" stroke="#444" stroke-width="0.4"/>
<line x1="652.13" y1="222.8" x2="652.13" y2="224.0" stroke="#444" stroke-width="0.4"/>
<line x1="653.33" y1="222.8" x2="653.33" y2="224.0" stroke="#444" stroke-width="0.4"/>
<line x1="654.19" y1="222.8" x2="654.19" y2="224.0" stroke="#444" stroke-width="0.4"/>
<line x1="654.88" y1="222.8" x2="654.88" y2="224.0" stroke="#444" stroke-width="0.4"/>
<line x1="655.48" y1="222.8" x2="655.48" y2="224.0" stroke="#444" stroke-width="0.4"/>
<line x1="656.00" y1="222.8" x2="656.00" y2="224.0" stroke="#444" stroke-width="0.4"/>
<line x1="657.62" y1="222.8" x2="657.62" y2="224.0" stroke="#444" stroke-width="0.4"/>
<line x1="658.23" y1="222.8" x2="658.23" y2="224.0" stroke="#444" stroke-width="0.4"/>
<line x1="658.71" y1="222.8" x2="658.71" y2="224.0" stroke="#444" stroke-width="0.4"/>
<line x1="659.05" y1="222.8" x2="659.05" y2="224.0" stroke="#444" stroke-width="0.4"/>
<line x1="659.32" y1="222.8" x2="659.32" y2="224.0" stroke="#444" stroke-width="0.4"/>
<line x1="659.56" y1="222.8" x2="659.56" y2="224.0" stroke="#444" stroke-width="0.4"/>
<line x1="659.76" y1="222.8" x2="659.76" y2="224.0" stroke="#444" stroke-width="0.4"/>
<line x1="663.57" y1="222.8" x2="663.57" y2="224.0" stroke="#444" stroke-width="0.4"/>
<line x1="665.71" y1="222.8" x2="665.71" y2="224.0" stroke="#444" stroke-width="0.4"/>
<line x1="667.38" y1="222.8" x2="667.38" y2="224.0" stroke="#444" stroke-width="0.4"/>
<line x1="668.57" y1="222.8" x2="668.57" y2="224.0" stroke="#444" stroke-width="0.4"/>
<line x1="669.52" y1="222.8" x2="669.52" y2="224.0" stroke="#444" stroke-width="0.4"/>
<line x1="670.35" y1="222.8" x2="670.35" y2="224.0" stroke="#444" stroke-width="0.4"/>
<line x1="671.07" y1="222.8" x2="671.07" y2="224.0" stroke="#444" stroke-width="0.4"/>
<text x="0" y="0" transform="translate(576,194.25) scale(0.86,1) rotate(-90)" font-size="6.6" font-weight="bold" text-anchor="middle" fill="#111">TNF (pg/mL)</text>
<text x="594.60" y="230.30" font-size="5.2" font-weight="bold" fill="#000" text-anchor="middle" >0</text>
<text x="633.30" y="230.30" font-size="4.7" font-weight="bold" fill="#000" text-anchor="middle" >Concentration</text>
<polygon points="611.8,235.2 671.9,229.5 671.9,235.2" fill="#000"/>
<text x="612.4" y="242" font-size="4.4" font-weight="bold" fill="#111">1.5x10<tspan dy="-1.85" font-size="3.17">-6</tspan></text>
<text x="664" y="242" font-size="4.4" font-weight="bold" fill="#111">10<tspan dy="-1.85" font-size="3.17">-2</tspan></text>
<polyline points="594.60,207.50 608.50,205.60 620.30,209.00 632.70,209.00 644.80,209.00 656.60,209.00" fill="none" stroke="#B03AB0" stroke-width="0.55" stroke-opacity="0.8"/>
<line x1="594.60" y1="207.50" x2="594.60" y2="202.50" stroke="#B03AB0" stroke-width="0.5" stroke-opacity="0.7"/><line x1="593.30" y1="202.50" x2="595.90" y2="202.50" stroke="#B03AB0" stroke-width="0.5" stroke-opacity="0.7"/>
<circle cx="594.60" cy="207.50" r="1.35" fill="#B03AB0"/>
<line x1="608.50" y1="205.60" x2="608.50" y2="199.60" stroke="#B03AB0" stroke-width="0.5" stroke-opacity="0.7"/><line x1="607.20" y1="199.60" x2="609.80" y2="199.60" stroke="#B03AB0" stroke-width="0.5" stroke-opacity="0.7"/>
<circle cx="608.50" cy="205.60" r="1.35" fill="#B03AB0"/>
<line x1="620.30" y1="209.00" x2="620.30" y2="204.00" stroke="#B03AB0" stroke-width="0.5" stroke-opacity="0.7"/><line x1="619.00" y1="204.00" x2="621.60" y2="204.00" stroke="#B03AB0" stroke-width="0.5" stroke-opacity="0.7"/>
<circle cx="620.30" cy="209.00" r="1.35" fill="#B03AB0"/>
<line x1="632.70" y1="209.00" x2="632.70" y2="204.00" stroke="#B03AB0" stroke-width="0.5" stroke-opacity="0.7"/><line x1="631.40" y1="204.00" x2="634.00" y2="204.00" stroke="#B03AB0" stroke-width="0.5" stroke-opacity="0.7"/>
<circle cx="632.70" cy="209.00" r="1.35" fill="#B03AB0"/>
<circle cx="644.80" cy="209.00" r="1.35" fill="#B03AB0"/>
<circle cx="656.60" cy="209.00" r="1.35" fill="#B03AB0"/>
<polyline points="594.60,207.50 624.20,207.90 636.00,206.00 648.00,207.50 660.00,207.00 671.90,191.90" fill="none" stroke="#F07C22" stroke-width="0.55" stroke-opacity="0.8"/>
<circle cx="594.60" cy="207.50" r="1.35" fill="#F07C22"/>
<line x1="624.20" y1="207.90" x2="624.20" y2="202.90" stroke="#F07C22" stroke-width="0.5" stroke-opacity="0.7"/><line x1="622.90" y1="202.90" x2="625.50" y2="202.90" stroke="#F07C22" stroke-width="0.5" stroke-opacity="0.7"/>
<circle cx="624.20" cy="207.90" r="1.35" fill="#F07C22"/>
<line x1="636.00" y1="206.00" x2="636.00" y2="200.00" stroke="#F07C22" stroke-width="0.5" stroke-opacity="0.7"/><line x1="634.70" y1="200.00" x2="637.30" y2="200.00" stroke="#F07C22" stroke-width="0.5" stroke-opacity="0.7"/>
<circle cx="636.00" cy="206.00" r="1.35" fill="#F07C22"/>
<line x1="648.00" y1="207.50" x2="648.00" y2="202.50" stroke="#F07C22" stroke-width="0.5" stroke-opacity="0.7"/><line x1="646.70" y1="202.50" x2="649.30" y2="202.50" stroke="#F07C22" stroke-width="0.5" stroke-opacity="0.7"/>
<circle cx="648.00" cy="207.50" r="1.35" fill="#F07C22"/>
<circle cx="660.00" cy="207.00" r="1.35" fill="#F07C22"/>
<line x1="671.90" y1="191.90" x2="671.90" y2="181.90" stroke="#F07C22" stroke-width="0.5" stroke-opacity="0.7"/><line x1="670.60" y1="181.90" x2="673.20" y2="181.90" stroke="#F07C22" stroke-width="0.5" stroke-opacity="0.7"/>
<circle cx="671.90" cy="191.90" r="1.35" fill="#F07C22"/>
<polyline points="594.60,207.50 624.20,209.50 636.00,211.30 648.00,210.40 660.00,206.00 671.90,199.90" fill="none" stroke="#5CB83A" stroke-width="0.55" stroke-opacity="0.8"/>
<circle cx="594.60" cy="207.50" r="1.35" fill="#5CB83A"/>
<circle cx="624.20" cy="209.50" r="1.35" fill="#5CB83A"/>
<circle cx="636.00" cy="211.30" r="1.35" fill="#5CB83A"/>
<circle cx="648.00" cy="210.40" r="1.35" fill="#5CB83A"/>
<circle cx="660.00" cy="206.00" r="1.35" fill="#5CB83A"/>
<line x1="671.90" y1="199.90" x2="671.90" y2="194.90" stroke="#5CB83A" stroke-width="0.5" stroke-opacity="0.7"/><line x1="670.60" y1="194.90" x2="673.20" y2="194.90" stroke="#5CB83A" stroke-width="0.5" stroke-opacity="0.7"/>
<circle cx="671.90" cy="199.90" r="1.35" fill="#5CB83A"/>
<polyline points="594.60,207.50 624.20,210.40 636.00,209.50 648.00,209.00 660.00,204.30 671.90,201.80" fill="none" stroke="#3C7DC4" stroke-width="0.55" stroke-opacity="0.8"/>
<circle cx="594.60" cy="207.50" r="1.35" fill="#3C7DC4"/>
<circle cx="624.20" cy="210.40" r="1.35" fill="#3C7DC4"/>
<circle cx="636.00" cy="209.50" r="1.35" fill="#3C7DC4"/>
<circle cx="648.00" cy="209.00" r="1.35" fill="#3C7DC4"/>
<line x1="660.00" y1="204.30" x2="660.00" y2="200.30" stroke="#3C7DC4" stroke-width="0.5" stroke-opacity="0.7"/><line x1="658.70" y1="200.30" x2="661.30" y2="200.30" stroke="#3C7DC4" stroke-width="0.5" stroke-opacity="0.7"/>
<circle cx="660.00" cy="204.30" r="1.35" fill="#3C7DC4"/>
<circle cx="671.90" cy="201.80" r="1.35" fill="#3C7DC4"/>
<line x1="597.8" y1="163.6" x2="602.8" y2="163.6" stroke="#3C7DC4" stroke-width="0.6"/><circle cx="600.3" cy="163.6" r="1.35" fill="#3C7DC4"/>
<text x="606.60" y="165.70" font-size="5.5" font-weight="bold" fill="#111" text-anchor="start" >AL</text>
<line x1="597.8" y1="172.1" x2="602.8" y2="172.1" stroke="#5CB83A" stroke-width="0.6"/><circle cx="600.3" cy="172.1" r="1.35" fill="#5CB83A"/>
<text x="606.60" y="174.20" font-size="5.5" font-weight="bold" fill="#111" text-anchor="start" >EM</text>
<line x1="597.8" y1="180.6" x2="602.8" y2="180.6" stroke="#F07C22" stroke-width="0.6"/><circle cx="600.3" cy="180.6" r="1.35" fill="#F07C22"/>
<text x="606.60" y="182.70" font-size="5.5" font-weight="bold" fill="#111" text-anchor="start" >dMLT</text>
<line x1="597.8" y1="189.1" x2="602.8" y2="189.1" stroke="#B03AB0" stroke-width="0.6"/><circle cx="600.3" cy="189.1" r="1.35" fill="#B03AB0"/>
<text x="606.60" y="191.20" font-size="5.5" font-weight="bold" fill="#111" text-anchor="start" >QS-7</text>
<text x="0.60" y="256.30" font-size="23.8" font-weight="bold" fill="#000" text-anchor="start" >c)</text>
<rect x="45.00" y="266" width="66.05" height="8" fill="#4DAF4A"/>
<rect x="110.75" y="266" width="66.05" height="8" fill="#377EB8"/>
<rect x="176.50" y="266" width="66.05" height="8" fill="#FF7F00"/>
<rect x="242.25" y="266" width="66.05" height="8" fill="#E41A1C"/>
<rect x="308.00" y="266" width="66.05" height="8" fill="#984EA3"/>
<rect x="373.75" y="266" width="66.05" height="8" fill="#A65628"/>
<rect x="45.00" y="276" width="4.68" height="7.6" fill="#E41A1C"/>
<rect x="49.38" y="276" width="4.68" height="7.6" fill="#377EB8"/>
<rect x="53.77" y="276" width="4.68" height="7.6" fill="#4DAF4A"/>
<rect x="58.15" y="276" width="4.68" height="7.6" fill="#E41A1C"/>
<rect x="62.53" y="276" width="4.68" height="7.6" fill="#377EB8"/>
<rect x="66.92" y="276" width="4.68" height="7.6" fill="#4DAF4A"/>
<rect x="71.30" y="276" width="4.68" height="7.6" fill="#E41A1C"/>
<rect x="75.68" y="276" width="4.68" height="7.6" fill="#377EB8"/>
<rect x="80.07" y="276" width="4.68" height="7.6" fill="#4DAF4A"/>
<rect x="84.45" y="276" width="4.68" height="7.6" fill="#E41A1C"/>
<rect x="88.83" y="276" width="4.68" height="7.6" fill="#377EB8"/>
<rect x="93.22" y="276" width="4.68" height="7.6" fill="#4DAF4A"/>
<rect x="97.60" y="276" width="4.68" height="7.6" fill="#E41A1C"/>
<rect x="101.98" y="276" width="4.68" height="7.6" fill="#377EB8"/>
<rect x="106.37" y="276" width="4.68" height="7.6" fill="#4DAF4A"/>
<rect x="110.75" y="276" width="4.68" height="7.6" fill="#E41A1C"/>
<rect x="115.13" y="276" width="4.68" height="7.6" fill="#377EB8"/>
<rect x="119.52" y="276" width="4.68" height="7.6" fill="#4DAF4A"/>
<rect x="123.90" y="276" width="4.68" height="7.6" fill="#E41A1C"/>
<rect x="128.28" y="276" width="4.68" height="7.6" fill="#377EB8"/>
<rect x="132.67" y="276" width="4.68" height="7.6" fill="#4DAF4A"/>
<rect x="137.05" y="276" width="4.68" height="7.6" fill="#E41A1C"/>
<rect x="141.43" y="276" width="4.68" height="7.6" fill="#377EB8"/>
<rect x="145.82" y="276" width="4.68" height="7.6" fill="#4DAF4A"/>
<rect x="150.20" y="276" width="4.68" height="7.6" fill="#E41A1C"/>
<rect x="154.58" y="276" width="4.68" height="7.6" fill="#377EB8"/>
<rect x="158.97" y="276" width="4.68" height="7.6" fill="#4DAF4A"/>
<rect x="163.35" y="276" width="4.68" height="7.6" fill="#E41A1C"/>
<rect x="167.73" y="276" width="4.68" height="7.6" fill="#377EB8"/>
<rect x="172.12" y="276" width="4.68" height="7.6" fill="#4DAF4A"/>
<rect x="176.50" y="276" width="4.68" height="7.6" fill="#E41A1C"/>
<rect x="180.88" y="276" width="4.68" height="7.6" fill="#377EB8"/>
<rect x="185.27" y="276" width="4.68" height="7.6" fill="#4DAF4A"/>
<rect x="189.65" y="276" width="4.68" height="7.6" fill="#E41A1C"/>
<rect x="194.03" y="276" width="4.68" height="7.6" fill="#377EB8"/>
<rect x="198.42" y="276" width="4.68" height="7.6" fill="#4DAF4A"/>
<rect x="202.80" y="276" width="4.68" height="7.6" fill="#E41A1C"/>
<rect x="207.18" y="276" width="4.68" height="7.6" fill="#377EB8"/>
<rect x="211.57" y="276" width="4.68" height="7.6" fill="#4DAF4A"/>
<rect x="215.95" y="276" width="4.68" height="7.6" fill="#E41A1C"/>
<rect x="220.33" y="276" width="4.68" height="7.6" fill="#377EB8"/>
<rect x="224.72" y="276" width="4.68" height="7.6" fill="#4DAF4A"/>
<rect x="229.10" y="276" width="4.68" height="7.6" fill="#E41A1C"/>
<rect x="233.48" y="276" width="4.68" height="7.6" fill="#377EB8"/>
<rect x="237.87" y="276" width="4.68" height="7.6" fill="#4DAF4A"/>
<rect x="242.25" y="276" width="4.68" height="7.6" fill="#E41A1C"/>
<rect x="246.63" y="276" width="4.68" height="7.6" fill="#377EB8"/>
<rect x="251.02" y="276" width="4.68" height="7.6" fill="#4DAF4A"/>
<rect x="255.40" y="276" width="4.68" height="7.6" fill="#E41A1C"/>
<rect x="259.78" y="276" width="4.68" height="7.6" fill="#377EB8"/>
<rect x="264.17" y="276" width="4.68" height="7.6" fill="#4DAF4A"/>
<rect x="268.55" y="276" width="4.68" height="7.6" fill="#E41A1C"/>
<rect x="272.93" y="276" width="4.68" height="7.6" fill="#377EB8"/>
<rect x="277.32" y="276" width="4.68" height="7.6" fill="#4DAF4A"/>
<rect x="281.70" y="276" width="4.68" height="7.6" fill="#E41A1C"/>
<rect x="286.08" y="276" width="4.68" height="7.6" fill="#377EB8"/>
<rect x="290.47" y="276" width="4.68" height="7.6" fill="#4DAF4A"/>
<rect x="294.85" y="276" width="4.68" height="7.6" fill="#E41A1C"/>
<rect x="299.23" y="276" width="4.68" height="7.6" fill="#377EB8"/>
<rect x="303.62" y="276" width="4.68" height="7.6" fill="#4DAF4A"/>
<rect x="308.00" y="276" width="4.68" height="7.6" fill="#E41A1C"/>
<rect x="312.38" y="276" width="4.68" height="7.6" fill="#377EB8"/>
<rect x="316.77" y="276" width="4.68" height="7.6" fill="#4DAF4A"/>
<rect x="321.15" y="276" width="4.68" height="7.6" fill="#E41A1C"/>
<rect x="325.53" y="276" width="4.68" height="7.6" fill="#377EB8"/>
<rect x="329.92" y="276" width="4.68" height="7.6" fill="#4DAF4A"/>
<rect x="334.30" y="276" width="4.68" height="7.6" fill="#E41A1C"/>
<rect x="338.68" y="276" width="4.68" height="7.6" fill="#377EB8"/>
<rect x="343.07" y="276" width="4.68" height="7.6" fill="#4DAF4A"/>
<rect x="347.45" y="276" width="4.68" height="7.6" fill="#E41A1C"/>
<rect x="351.83" y="276" width="4.68" height="7.6" fill="#377EB8"/>
<rect x="356.22" y="276" width="4.68" height="7.6" fill="#4DAF4A"/>
<rect x="360.60" y="276" width="4.68" height="7.6" fill="#E41A1C"/>
<rect x="364.98" y="276" width="4.68" height="7.6" fill="#377EB8"/>
<rect x="369.37" y="276" width="4.68" height="7.6" fill="#4DAF4A"/>
<rect x="373.75" y="276" width="4.68" height="7.6" fill="#E41A1C"/>
<rect x="378.13" y="276" width="4.68" height="7.6" fill="#377EB8"/>
<rect x="382.52" y="276" width="4.68" height="7.6" fill="#4DAF4A"/>
<rect x="386.90" y="276" width="4.68" height="7.6" fill="#E41A1C"/>
<rect x="391.28" y="276" width="4.68" height="7.6" fill="#377EB8"/>
<rect x="395.67" y="276" width="4.68" height="7.6" fill="#4DAF4A"/>
<rect x="400.05" y="276" width="4.68" height="7.6" fill="#E41A1C"/>
<rect x="404.43" y="276" width="4.68" height="7.6" fill="#377EB8"/>
<rect x="408.82" y="276" width="4.68" height="7.6" fill="#4DAF4A"/>
<rect x="413.20" y="276" width="4.68" height="7.6" fill="#E41A1C"/>
<rect x="417.58" y="276" width="4.68" height="7.6" fill="#377EB8"/>
<rect x="421.97" y="276" width="4.68" height="7.6" fill="#4DAF4A"/>
<rect x="426.35" y="276" width="4.68" height="7.6" fill="#E41A1C"/>
<rect x="430.73" y="276" width="4.68" height="7.6" fill="#377EB8"/>
<rect x="435.12" y="276" width="4.68" height="7.6" fill="#4DAF4A"/>
<rect x="45.0" y="286.0" width="394.50" height="144.0" fill="#4575B4"/>
<rect x="45.00" y="286.00" width="5.38" height="10.00" fill="#91BFDB"/>
<rect x="49.38" y="286.00" width="5.38" height="10.00" fill="#F0F9DC"/>
<rect x="53.77" y="286.00" width="5.38" height="10.00" fill="#E0F3F8"/>
<rect x="58.15" y="286.00" width="5.38" height="10.00" fill="#4575B4"/>
<rect x="62.53" y="286.00" width="5.38" height="10.00" fill="#91BFDB"/>
<rect x="66.92" y="286.00" width="9.77" height="10.00" fill="#FFFFBF"/>
<rect x="75.68" y="286.00" width="9.77" height="10.00" fill="#FEE090"/>
<rect x="84.45" y="286.00" width="5.38" height="10.00" fill="#E0F3F8"/>
<rect x="88.83" y="286.00" width="5.38" height="10.00" fill="#FFFFBF"/>
<rect x="93.22" y="286.00" width="9.77" height="10.00" fill="#FC8D59"/>
<rect x="101.98" y="286.00" width="9.77" height="10.00" fill="#FFFFBF"/>
<rect x="110.75" y="286.00" width="9.77" height="10.00" fill="#4575B4"/>
<rect x="119.52" y="286.00" width="5.38" height="10.00" fill="#82B0D3"/>
<rect x="123.90" y="286.00" width="5.38" height="10.00" fill="#4575B4"/>
<rect x="128.28" y="286.00" width="5.38" height="10.00" fill="#6B9AC8"/>
<rect x="132.67" y="286.00" width="5.38" height="10.00" fill="#F0F9DC"/>
<rect x="137.05" y="286.00" width="5.38" height="10.00" fill="#4575B4"/>
<rect x="141.43" y="286.00" width="5.38" height="10.00" fill="#73A1CB"/>
<rect x="145.82" y="286.00" width="22.92" height="10.00" fill="#4575B4"/>
<rect x="167.73" y="286.00" width="5.38" height="10.00" fill="#82B0D3"/>
<rect x="172.12" y="286.00" width="31.68" height="10.00" fill="#4575B4"/>
<rect x="202.80" y="286.00" width="5.38" height="10.00" fill="#91BFDB"/>
<rect x="207.18" y="286.00" width="5.38" height="10.00" fill="#6B9AC8"/>
<rect x="211.57" y="286.00" width="5.38" height="10.00" fill="#82B0D3"/>
<rect x="215.95" y="286.00" width="5.38" height="10.00" fill="#D8EEF5"/>
<rect x="220.33" y="286.00" width="5.38" height="10.00" fill="#5484BC"/>
<rect x="224.72" y="286.00" width="5.38" height="10.00" fill="#A1C9E1"/>
<rect x="229.10" y="286.00" width="5.38" height="10.00" fill="#E0F3F8"/>
<rect x="233.48" y="286.00" width="5.38" height="10.00" fill="#6B9AC8"/>
<rect x="237.87" y="286.00" width="5.38" height="10.00" fill="#82B0D3"/>
<rect x="242.25" y="286.00" width="5.38" height="10.00" fill="#5484BC"/>
<rect x="246.63" y="286.00" width="9.77" height="10.00" fill="#82B0D3"/>
<rect x="255.40" y="286.00" width="9.77" height="10.00" fill="#4575B4"/>
<rect x="264.17" y="286.00" width="5.38" height="10.00" fill="#73A1CB"/>
<rect x="268.55" y="286.00" width="5.38" height="10.00" fill="#FEE699"/>
<rect x="272.93" y="286.00" width="5.38" height="10.00" fill="#FEF0A8"/>
<rect x="277.32" y="286.00" width="5.38" height="10.00" fill="#FFFFBF"/>
<rect x="281.70" y="286.00" width="5.38" height="10.00" fill="#FEF0A8"/>
<rect x="286.08" y="286.00" width="9.77" height="10.00" fill="#F0F9DC"/>
<rect x="294.85" y="286.00" width="5.38" height="10.00" fill="#F1714A"/>
<rect x="299.23" y="286.00" width="5.38" height="10.00" fill="#FFF6B1"/>
<rect x="303.62" y="286.00" width="5.38" height="10.00" fill="#F1714A"/>
<rect x="308.00" y="286.00" width="5.38" height="10.00" fill="#4575B4"/>
<rect x="312.38" y="286.00" width="5.38" height="10.00" fill="#91BFDB"/>
<rect x="316.77" y="286.00" width="5.38" height="10.00" fill="#C0DEEC"/>
<rect x="321.15" y="286.00" width="5.38" height="10.00" fill="#4575B4"/>
<rect x="325.53" y="286.00" width="5.38" height="10.00" fill="#99C4DE"/>
<rect x="329.92" y="286.00" width="5.38" height="10.00" fill="#F3FAD6"/>
<rect x="334.30" y="286.00" width="5.38" height="10.00" fill="#4575B4"/>
<rect x="338.68" y="286.00" width="5.38" height="10.00" fill="#6B9AC8"/>
<rect x="343.07" y="286.00" width="9.77" height="10.00" fill="#4575B4"/>
<rect x="351.83" y="286.00" width="9.77" height="10.00" fill="#5484BC"/>
<rect x="360.60" y="286.00" width="5.38" height="10.00" fill="#5C8BC0"/>
<rect x="364.98" y="286.00" width="5.38" height="10.00" fill="#FFFFBF"/>
<rect x="369.37" y="286.00" width="70.13" height="10.00" fill="#4575B4"/>
<rect x="45.00" y="295.00" width="5.38" height="10.00" fill="#4575B4"/>
<rect x="49.38" y="295.00" width="5.38" height="10.00" fill="#FFFFBF"/>
<rect x="53.77" y="295.00" width="5.38" height="10.00" fill="#E0F3F8"/>
<rect x="58.15" y="295.00" width="5.38" height="10.00" fill="#4575B4"/>
<rect x="62.53" y="295.00" width="9.77" height="10.00" fill="#FFFFBF"/>
<rect x="71.30" y="295.00" width="5.38" height="10.00" fill="#F0F9DC"/>
<rect x="75.68" y="295.00" width="5.38" height="10.00" fill="#E0F3F8"/>
<rect x="80.07" y="295.00" width="5.38" height="10.00" fill="#B8D9EA"/>
<rect x="84.45" y="295.00" width="5.38" height="10.00" fill="#E0F3F8"/>
<rect x="88.83" y="295.00" width="5.38" height="10.00" fill="#FDB674"/>
<rect x="93.22" y="295.00" width="5.38" height="10.00" fill="#FEE090"/>
<rect x="97.60" y="295.00" width="5.38" height="10.00" fill="#FDB674"/>
<rect x="101.98" y="295.00" width="5.38" height="10.00" fill="#FEE090"/>
<rect x="106.37" y="295.00" width="5.38" height="10.00" fill="#FFFFBF"/>
<rect x="110.75" y="295.00" width="5.38" height="10.00" fill="#4575B4"/>
<rect x="115.13" y="295.00" width="5.38" height="10.00" fill="#E0F3F8"/>
<rect x="119.52" y="295.00" width="5.38" height="10.00" fill="#6B9AC8"/>
<rect x="123.90" y="295.00" width="9.77" height="10.00" fill="#4575B4"/>
<rect x="132.67" y="295.00" width="5.38" height="10.00" fill="#D0E9F2"/>
<rect x="137.05" y="295.00" width="5.38" height="10.00" fill="#4575B4"/>
<rect x="141.43" y="295.00" width="5.38" height="10.00" fill="#6393C4"/>
<rect x="145.82" y="295.00" width="22.92" height="10.00" fill="#4575B4"/>
<rect x="167.73" y="295.00" width="5.38" height="10.00" fill="#6B9AC8"/>
<rect x="172.12" y="295.00" width="9.77" height="10.00" fill="#4575B4"/>
<rect x="180.88" y="295.00" width="5.38" height="10.00" fill="#FFF6B1"/>
<rect x="185.27" y="295.00" width="18.53" height="10.00" fill="#4575B4"/>
<rect x="202.80" y="295.00" width="5.38" height="10.00" fill="#7AA9CF"/>
<rect x="207.18" y="295.00" width="5.38" height="10.00" fill="#6B9AC8"/>
<rect x="211.57" y="295.00" width="5.38" height="10.00" fill="#5484BC"/>
<rect x="215.95" y="295.00" width="5.38" height="10.00" fill="#A1C9E1"/>
<rect x="220.33" y="295.00" width="5.38" height="10.00" fill="#5484BC"/>
<rect x="224.72" y="295.00" width="5.38" height="10.00" fill="#82B0D3"/>
<rect x="229.10" y="295.00" width="5.38" height="10.00" fill="#F6FBD0"/>
<rect x="233.48" y="295.00" width="5.38" height="10.00" fill="#5C8BC0"/>
<rect x="237.87" y="295.00" width="5.38" height="10.00" fill="#82B0D3"/>
<rect x="242.25" y="295.00" width="5.38" height="10.00" fill="#5484BC"/>
<rect x="246.63" y="295.00" width="5.38" height="10.00" fill="#89B8D7"/>
<rect x="251.02" y="295.00" width="5.38" height="10.00" fill="#73A1CB"/>
<rect x="255.40" y="295.00" width="5.38" height="10.00" fill="#4575B4"/>
<rect x="259.78" y="295.00" width="5.38" height="10.00" fill="#6B9AC8"/>
<rect x="264.17" y="295.00" width="5.38" height="10.00" fill="#91BFDB"/>
<rect x="268.55" y="295.00" width="5.38" height="10.00" fill="#FDC780"/>
<rect x="272.93" y="295.00" width="5.38" height="10.00" fill="#FEECA3"/>
<rect x="277.32" y="295.00" width="5.38" height="10.00" fill="#FDB674"/>
<rect x="281.70" y="295.00" width="5.38" height="10.00" fill="#FEE699"/>
<rect x="286.08" y="295.00" width="5.38" height="10.00" fill="#C8E3EF"/>
<rect x="290.47" y="295.00" width="5.38" height="10.00" fill="#7AA9CF"/>
<rect x="294.85" y="295.00" width="5.38" height="10.00" fill="#FECF85"/>
<rect x="299.23" y="295.00" width="9.77" height="10.00" fill="#FEE99E"/>
<rect x="308.00" y="295.00" width="5.38" height="10.00" fill="#4575B4"/>
<rect x="312.38" y="295.00" width="5.38" height="10.00" fill="#FFFFBF"/>
<rect x="316.77" y="295.00" width="5.38" height="10.00" fill="#D8EEF5"/>
<rect x="321.15" y="295.00" width="5.38" height="10.00" fill="#4575B4"/>
<rect x="325.53" y="295.00" width="5.38" height="10.00" fill="#99C4DE"/>
<rect x="329.92" y="295.00" width="5.38" height="10.00" fill="#FFF6B1"/>
<rect x="334.30" y="295.00" width="5.38" height="10.00" fill="#4575B4"/>
<rect x="338.68" y="295.00" width="5.38" height="10.00" fill="#E6F5ED"/>
<rect x="343.07" y="295.00" width="9.77" height="10.00" fill="#4575B4"/>
<rect x="351.83" y="295.00" width="5.38" height="10.00" fill="#7AA9CF"/>
<rect x="356.22" y="295.00" width="5.38" height="10.00" fill="#5484BC"/>
<rect x="360.60" y="295.00" width="5.38" height="10.00" fill="#5C8BC0"/>
<rect x="364.98" y="295.00" width="5.38" height="10.00" fill="#F9FDCA"/>
<rect x="369.37" y="295.00" width="70.13" height="10.00" fill="#4575B4"/>
<rect x="45.00" y="304.00" width="5.38" height="10.00" fill="#91BFDB"/>
<rect x="49.38" y="304.00" width="5.38" height="10.00" fill="#FDB674"/>
<rect x="53.77" y="304.00" width="5.38" height="10.00" fill="#FFFFBF"/>
<rect x="58.15" y="304.00" width="5.38" height="10.00" fill="#91BFDB"/>
<rect x="62.53" y="304.00" width="5.38" height="10.00" fill="#FDB674"/>
<rect x="66.92" y="304.00" width="5.38" height="10.00" fill="#FEE090"/>
<rect x="71.30" y="304.00" width="5.38" height="10.00" fill="#FC8D59"/>
<rect x="75.68" y="304.00" width="5.38" height="10.00" fill="#E0F3F8"/>
<rect x="80.07" y="304.00" width="5.38" height="10.00" fill="#FDB674"/>
<rect x="84.45" y="304.00" width="5.38" height="10.00" fill="#F0F9DC"/>
<rect x="88.83" y="304.00" width="5.38" height="10.00" fill="#FC8D59"/>
<rect x="93.22" y="304.00" width="5.38" height="10.00" fill="#FEF0A8"/>
<rect x="97.60" y="304.00" width="5.38" height="10.00" fill="#EA5E40"/>
<rect x="101.98" y="304.00" width="5.38" height="10.00" fill="#FFFFBF"/>
<rect x="106.37" y="304.00" width="5.38" height="10.00" fill="#FDB674"/>
<rect x="110.75" y="304.00" width="5.38" height="10.00" fill="#4575B4"/>
<rect x="115.13" y="304.00" width="5.38" height="10.00" fill="#82B0D3"/>
<rect x="119.52" y="304.00" width="9.77" height="10.00" fill="#4575B4"/>
<rect x="128.28" y="304.00" width="9.77" height="10.00" fill="#89B8D7"/>
<rect x="137.05" y="304.00" width="5.38" height="10.00" fill="#4575B4"/>
<rect x="141.43" y="304.00" width="5.38" height="10.00" fill="#91BFDB"/>
<rect x="145.82" y="304.00" width="22.92" height="10.00" fill="#4575B4"/>
<rect x="167.73" y="304.00" width="5.38" height="10.00" fill="#C0DEEC"/>
<rect x="172.12" y="304.00" width="31.68" height="10.00" fill="#4575B4"/>
<rect x="202.80" y="304.00" width="5.38" height="10.00" fill="#99C4DE"/>
<rect x="207.18" y="304.00" width="5.38" height="10.00" fill="#6B9AC8"/>
<rect x="211.57" y="304.00" width="5.38" height="10.00" fill="#73A1CB"/>
<rect x="215.95" y="304.00" width="5.38" height="10.00" fill="#E6F5ED"/>
<rect x="220.33" y="304.00" width="5.38" height="10.00" fill="#5C8BC0"/>
<rect x="224.72" y="304.00" width="5.38" height="10.00" fill="#A1C9E1"/>
<rect x="229.10" y="304.00" width="5.38" height="10.00" fill="#E6F5ED"/>
<rect x="233.48" y="304.00" width="5.38" height="10.00" fill="#6B9AC8"/>
<rect x="237.87" y="304.00" width="5.38" height="10.00" fill="#82B0D3"/>
<rect x="242.25" y="304.00" width="5.38" height="10.00" fill="#5484BC"/>
<rect x="246.63" y="304.00" width="5.38" height="10.00" fill="#5C8BC0"/>
<rect x="251.02" y="304.00" width="5.38" height="10.00" fill="#4D7CB8"/>
<rect x="255.40" y="304.00" width="5.38" height="10.00" fill="#4575B4"/>
<rect x="259.78" y="304.00" width="9.77" height="10.00" fill="#82B0D3"/>
<rect x="268.55" y="304.00" width="5.38" height="10.00" fill="#D0E9F2"/>
<rect x="272.93" y="304.00" width="5.38" height="10.00" fill="#C0DEEC"/>
<rect x="277.32" y="304.00" width="9.77" height="10.00" fill="#B8D9EA"/>
<rect x="286.08" y="304.00" width="5.38" height="10.00" fill="#91BFDB"/>
<rect x="290.47" y="304.00" width="5.38" height="10.00" fill="#A1C9E1"/>
<rect x="294.85" y="304.00" width="5.38" height="10.00" fill="#E3F4F2"/>
<rect x="299.23" y="304.00" width="5.38" height="10.00" fill="#E0F3F8"/>
<rect x="303.62" y="304.00" width="5.38" height="10.00" fill="#F3FAD6"/>
<rect x="308.00" y="304.00" width="5.38" height="10.00" fill="#4575B4"/>
<rect x="312.38" y="304.00" width="5.38" height="10.00" fill="#A1C9E1"/>
<rect x="316.77" y="304.00" width="5.38" height="10.00" fill="#89B8D7"/>
<rect x="321.15" y="304.00" width="5.38" height="10.00" fill="#4575B4"/>
<rect x="325.53" y="304.00" width="5.38" height="10.00" fill="#7AA9CF"/>
<rect x="329.92" y="304.00" width="5.38" height="10.00" fill="#FFFFBF"/>
<rect x="334.30" y="304.00" width="5.38" height="10.00" fill="#4575B4"/>
<rect x="338.68" y="304.00" width="5.38" height="10.00" fill="#FFF9B6"/>
<rect x="343.07" y="304.00" width="9.77" height="10.00" fill="#4575B4"/>
<rect x="351.83" y="304.00" width="5.38" height="10.00" fill="#73A1CB"/>
<rect x="356.22" y="304.00" width="5.38" height="10.00" fill="#5484BC"/>
<rect x="360.60" y="304.00" width="5.38" height="10.00" fill="#73A1CB"/>
<rect x="364.98" y="304.00" width="5.38" height="10.00" fill="#FEE090"/>
<rect x="369.37" y="304.00" width="70.13" height="10.00" fill="#4575B4"/>
<rect x="45.00" y="313.00" width="5.38" height="10.00" fill="#7AA9CF"/>
<rect x="49.38" y="313.00" width="5.38" height="10.00" fill="#FEE090"/>
<rect x="53.77" y="313.00" width="5.38" height="10.00" fill="#B8D9EA"/>
<rect x="58.15" y="313.00" width="5.38" height="10.00" fill="#4575B4"/>
<rect x="62.53" y="313.00" width="9.77" height="10.00" fill="#E0F3F8"/>
<rect x="71.30" y="313.00" width="5.38" height="10.00" fill="#FEE090"/>
<rect x="75.68" y="313.00" width="5.38" height="10.00" fill="#FEF0A8"/>
<rect x="80.07" y="313.00" width="5.38" height="10.00" fill="#FDA66A"/>
<rect x="84.45" y="313.00" width="5.38" height="10.00" fill="#FFFFBF"/>
<rect x="88.83" y="313.00" width="9.77" height="10.00" fill="#FC8D59"/>
<rect x="97.60" y="313.00" width="5.38" height="10.00" fill="#D73027"/>
<rect x="101.98" y="313.00" width="5.38" height="10.00" fill="#FEE090"/>
<rect x="106.37" y="313.00" width="5.38" height="10.00" fill="#FDB674"/>
<rect x="110.75" y="313.00" width="5.38" height="10.00" fill="#4575B4"/>
<rect x="115.13" y="313.00" width="5.38" height="10.00" fill="#82B0D3"/>
<rect x="119.52" y="313.00" width="14.15" height="10.00" fill="#4575B4"/>
<rect x="132.67" y="313.00" width="5.38" height="10.00" fill="#FFFFBF"/>
<rect x="137.05" y="313.00" width="5.38" height="10.00" fill="#4575B4"/>
<rect x="141.43" y="313.00" width="5.38" height="10.00" fill="#C8E3EF"/>
<rect x="145.82" y="313.00" width="22.92" height="10.00" fill="#4575B4"/>
<rect x="167.73" y="313.00" width="5.38" height="10.00" fill="#F3FAD6"/>
<rect x="172.12" y="313.00" width="9.77" height="10.00" fill="#4575B4"/>
<rect x="180.88" y="313.00" width="5.38" height="10.00" fill="#6B9AC8"/>
<rect x="185.27" y="313.00" width="18.53" height="10.00" fill="#4575B4"/>
<rect x="202.80" y="313.00" width="5.38" height="10.00" fill="#D0E9F2"/>
<rect x="207.18" y="313.00" width="5.38" height="10.00" fill="#73A1CB"/>
<rect x="211.57" y="313.00" width="5.38" height="10.00" fill="#7AA9CF"/>
<rect x="215.95" y="313.00" width="5.38" height="10.00" fill="#E6F5ED"/>
<rect x="220.33" y="313.00" width="5.38" height="10.00" fill="#6393C4"/>
<rect x="224.72" y="313.00" width="5.38" height="10.00" fill="#A9CFE4"/>
<rect x="229.10" y="313.00" width="5.38" height="10.00" fill="#E3F4F2"/>
<rect x="233.48" y="313.00" width="5.38" height="10.00" fill="#6B9AC8"/>
<rect x="237.87" y="313.00" width="5.38" height="10.00" fill="#91BFDB"/>
<rect x="242.25" y="313.00" width="5.38" height="10.00" fill="#5484BC"/>
<rect x="246.63" y="313.00" width="5.38" height="10.00" fill="#5C8BC0"/>
<rect x="251.02" y="313.00" width="5.38" height="10.00" fill="#4D7CB8"/>
<rect x="255.40" y="313.00" width="5.38" height="10.00" fill="#4575B4"/>
<rect x="259.78" y="313.00" width="5.38" height="10.00" fill="#6393C4"/>
<rect x="264.17" y="313.00" width="5.38" height="10.00" fill="#5484BC"/>
<rect x="268.55" y="313.00" width="5.38" height="10.00" fill="#E3F4F2"/>
<rect x="272.93" y="313.00" width="5.38" height="10.00" fill="#D8EEF5"/>
<rect x="277.32" y="313.00" width="5.38" height="10.00" fill="#4575B4"/>
<rect x="281.70" y="313.00" width="5.38" height="10.00" fill="#F3FAD6"/>
<rect x="286.08" y="313.00" width="9.77" height="10.00" fill="#A1C9E1"/>
<rect x="294.85" y="313.00" width="14.15" height="10.00" fill="#F6FBD0"/>
<rect x="308.00" y="313.00" width="5.38" height="10.00" fill="#4575B4"/>
<rect x="312.38" y="313.00" width="5.38" height="10.00" fill="#E3F4F2"/>
<rect x="316.77" y="313.00" width="5.38" height="10.00" fill="#7AA9CF"/>
<rect x="321.15" y="313.00" width="5.38" height="10.00" fill="#4575B4"/>
<rect x="325.53" y="313.00" width="5.38" height="10.00" fill="#A1C9E1"/>
<rect x="329.92" y="313.00" width="5.38" height="10.00" fill="#FFF6B1"/>
<rect x="334.30" y="313.00" width="5.38" height="10.00" fill="#4575B4"/>
<rect x="338.68" y="313.00" width="5.38" height="10.00" fill="#FFF9B6"/>
<rect x="343.07" y="313.00" width="9.77" height="10.00" fill="#4575B4"/>
<rect x="351.83" y="313.00" width="5.38" height="10.00" fill="#91BFDB"/>
<rect x="356.22" y="313.00" width="5.38" height="10.00" fill="#5484BC"/>
<rect x="360.60" y="313.00" width="5.38" height="10.00" fill="#5C8BC0"/>
<rect x="364.98" y="313.00" width="5.38" height="10.00" fill="#FEECA3"/>
<rect x="369.37" y="313.00" width="70.13" height="10.00" fill="#4575B4"/>
<rect x="45.00" y="322.00" width="5.38" height="10.00" fill="#6B9AC8"/>
<rect x="49.38" y="322.00" width="5.38" height="10.00" fill="#E9F7E7"/>
<rect x="53.77" y="322.00" width="5.38" height="10.00" fill="#B8D9EA"/>
<rect x="58.15" y="322.00" width="5.38" height="10.00" fill="#4575B4"/>
<rect x="62.53" y="322.00" width="5.38" height="10.00" fill="#EA5E40"/>
<rect x="66.92" y="322.00" width="9.77" height="10.00" fill="#FFFFBF"/>
<rect x="75.68" y="322.00" width="5.38" height="10.00" fill="#FEE699"/>
<rect x="80.07" y="322.00" width="5.38" height="10.00" fill="#F0F9DC"/>
<rect x="84.45" y="322.00" width="5.38" height="10.00" fill="#E0F3F8"/>
<rect x="88.83" y="322.00" width="9.77" height="10.00" fill="#EA5E40"/>
<rect x="97.60" y="322.00" width="5.38" height="10.00" fill="#D73027"/>
<rect x="101.98" y="322.00" width="5.38" height="10.00" fill="#E24C36"/>
<rect x="106.37" y="322.00" width="5.38" height="10.00" fill="#FFFFBF"/>
<rect x="110.75" y="322.00" width="18.53" height="10.00" fill="#4575B4"/>
<rect x="128.28" y="322.00" width="5.38" height="10.00" fill="#C8E3EF"/>
<rect x="132.67" y="322.00" width="9.77" height="10.00" fill="#4575B4"/>
<rect x="141.43" y="322.00" width="5.38" height="10.00" fill="#7AA9CF"/>
<rect x="145.82" y="322.00" width="5.38" height="10.00" fill="#4575B4"/>
<rect x="150.20" y="322.00" width="5.38" height="10.00" fill="#4D7CB8"/>
<rect x="154.58" y="322.00" width="14.15" height="10.00" fill="#4575B4"/>
<rect x="167.73" y="322.00" width="5.38" height="10.00" fill="#FFF9B6"/>
<rect x="172.12" y="322.00" width="31.68" height="10.00" fill="#4575B4"/>
<rect x="202.80" y="322.00" width="5.38" height="10.00" fill="#A1C9E1"/>
<rect x="207.18" y="322.00" width="5.38" height="10.00" fill="#89B8D7"/>
<rect x="211.57" y="322.00" width="5.38" height="10.00" fill="#5C8BC0"/>
<rect x="215.95" y="322.00" width="5.38" height="10.00" fill="#FFF6B1"/>
<rect x="220.33" y="322.00" width="5.38" height="10.00" fill="#6393C4"/>
<rect x="224.72" y="322.00" width="5.38" height="10.00" fill="#E6F5ED"/>
<rect x="229.10" y="322.00" width="5.38" height="10.00" fill="#F9FDCA"/>
<rect x="233.48" y="322.00" width="5.38" height="10.00" fill="#82B0D3"/>
<rect x="237.87" y="322.00" width="5.38" height="10.00" fill="#91BFDB"/>
<rect x="242.25" y="322.00" width="5.38" height="10.00" fill="#5484BC"/>
<rect x="246.63" y="322.00" width="9.77" height="10.00" fill="#4D7CB8"/>
<rect x="255.40" y="322.00" width="5.38" height="10.00" fill="#4575B4"/>
<rect x="259.78" y="322.00" width="5.38" height="10.00" fill="#73A1CB"/>
<rect x="264.17" y="322.00" width="5.38" height="10.00" fill="#4D7CB8"/>
<rect x="268.55" y="322.00" width="9.77" height="10.00" fill="#FFFFBF"/>
<rect x="277.32" y="322.00" width="5.38" height="10.00" fill="#E0F3F8"/>
<rect x="281.70" y="322.00" width="9.77" height="10.00" fill="#A1C9E1"/>
<rect x="290.47" y="322.00" width="5.38" height="10.00" fill="#6393C4"/>
<rect x="294.85" y="322.00" width="5.38" height="10.00" fill="#FEF0A8"/>
<rect x="299.23" y="322.00" width="9.77" height="10.00" fill="#F6FBD0"/>
<rect x="308.00" y="322.00" width="5.38" height="10.00" fill="#4575B4"/>
<rect x="312.38" y="322.00" width="5.38" height="10.00" fill="#82B0D3"/>
<rect x="316.77" y="322.00" width="5.38" height="10.00" fill="#6393C4"/>
<rect x="321.15" y="322.00" width="5.38" height="10.00" fill="#4575B4"/>
<rect x="325.53" y="322.00" width="5.38" height="10.00" fill="#D0E9F2"/>
<rect x="329.92" y="322.00" width="5.38" height="10.00" fill="#91BFDB"/>
<rect x="334.30" y="322.00" width="5.38" height="10.00" fill="#4575B4"/>
<rect x="338.68" y="322.00" width="5.38" height="10.00" fill="#A1C9E1"/>
<rect x="343.07" y="322.00" width="9.77" height="10.00" fill="#4575B4"/>
<rect x="351.83" y="322.00" width="5.38" height="10.00" fill="#7AA9CF"/>
<rect x="356.22" y="322.00" width="5.38" height="10.00" fill="#5484BC"/>
<rect x="360.60" y="322.00" width="5.38" height="10.00" fill="#6B9AC8"/>
<rect x="364.98" y="322.00" width="5.38" height="10.00" fill="#FEECA3"/>
<rect x="369.37" y="322.00" width="36.07" height="10.00" fill="#4575B4"/>
<rect x="404.43" y="322.00" width="5.38" height="10.00" fill="#5080BA"/>
<rect x="408.82" y="322.00" width="22.92" height="10.00" fill="#4575B4"/>
<rect x="430.73" y="322.00" width="5.38" height="10.00" fill="#5080BA"/>
<rect x="435.12" y="322.00" width="4.38" height="10.00" fill="#4575B4"/>
<rect x="45.00" y="331.00" width="5.38" height="10.00" fill="#E0F3F8"/>
<rect x="49.38" y="331.00" width="5.38" height="10.00" fill="#FDB674"/>
<rect x="53.77" y="331.00" width="5.38" height="10.00" fill="#F0F9DC"/>
<rect x="58.15" y="331.00" width="5.38" height="10.00" fill="#4575B4"/>
<rect x="62.53" y="331.00" width="5.38" height="10.00" fill="#D73027"/>
<rect x="66.92" y="331.00" width="5.38" height="10.00" fill="#FC8D59"/>
<rect x="71.30" y="331.00" width="5.38" height="10.00" fill="#FFFFBF"/>
<rect x="75.68" y="331.00" width="5.38" height="10.00" fill="#F0F9DC"/>
<rect x="80.07" y="331.00" width="5.38" height="10.00" fill="#FFF6B1"/>
<rect x="84.45" y="331.00" width="5.38" height="10.00" fill="#E0F3F8"/>
<rect x="88.83" y="331.00" width="9.77" height="10.00" fill="#FFFFBF"/>
<rect x="97.60" y="331.00" width="9.77" height="10.00" fill="#FC8D59"/>
<rect x="106.37" y="331.00" width="5.38" height="10.00" fill="#FFFFBF"/>
<rect x="110.75" y="331.00" width="5.38" height="10.00" fill="#4575B4"/>
<rect x="115.13" y="331.00" width="5.38" height="10.00" fill="#E0F3F8"/>
<rect x="119.52" y="331.00" width="9.77" height="10.00" fill="#4575B4"/>
<rect x="128.28" y="331.00" width="5.38" height="10.00" fill="#FFF9B6"/>
<rect x="132.67" y="331.00" width="9.77" height="10.00" fill="#4575B4"/>
<rect x="141.43" y="331.00" width="5.38" height="10.00" fill="#7AA9CF"/>
<rect x="145.82" y="331.00" width="5.38" height="10.00" fill="#4575B4"/>
<rect x="150.20" y="331.00" width="5.38" height="10.00" fill="#6393C4"/>
<rect x="154.58" y="331.00" width="14.15" height="10.00" fill="#4575B4"/>
<rect x="167.73" y="331.00" width="5.38" height="10.00" fill="#D8EEF5"/>
<rect x="172.12" y="331.00" width="9.77" height="10.00" fill="#4575B4"/>
<rect x="180.88" y="331.00" width="5.38" height="10.00" fill="#73A1CB"/>
<rect x="185.27" y="331.00" width="9.77" height="10.00" fill="#4575B4"/>
<rect x="194.03" y="331.00" width="5.38" height="10.00" fill="#82B0D3"/>
<rect x="198.42" y="331.00" width="5.38" height="10.00" fill="#4575B4"/>
<rect x="202.80" y="331.00" width="5.38" height="10.00" fill="#D0E9F2"/>
<rect x="207.18" y="331.00" width="5.38" height="10.00" fill="#73A1CB"/>
<rect x="211.57" y="331.00" width="5.38" height="10.00" fill="#6B9AC8"/>
<rect x="215.95" y="331.00" width="5.38" height="10.00" fill="#89B8D7"/>
<rect x="220.33" y="331.00" width="5.38" height="10.00" fill="#6393C4"/>
<rect x="224.72" y="331.00" width="5.38" height="10.00" fill="#5484BC"/>
<rect x="229.10" y="331.00" width="5.38" height="10.00" fill="#FFFFBF"/>
<rect x="233.48" y="331.00" width="5.38" height="10.00" fill="#6B9AC8"/>
<rect x="237.87" y="331.00" width="5.38" height="10.00" fill="#D0E9F2"/>
<rect x="242.25" y="331.00" width="5.38" height="10.00" fill="#5484BC"/>
<rect x="246.63" y="331.00" width="5.38" height="10.00" fill="#5C8BC0"/>
<rect x="251.02" y="331.00" width="5.38" height="10.00" fill="#4D7CB8"/>
<rect x="255.40" y="331.00" width="5.38" height="10.00" fill="#4575B4"/>
<rect x="259.78" y="331.00" width="5.38" height="10.00" fill="#A1C9E1"/>
<rect x="264.17" y="331.00" width="5.38" height="10.00" fill="#82B0D3"/>
<rect x="268.55" y="331.00" width="5.38" height="10.00" fill="#FCFEC5"/>
<rect x="272.93" y="331.00" width="5.38" height="10.00" fill="#FFF6B1"/>
<rect x="277.32" y="331.00" width="5.38" height="10.00" fill="#FCFEC5"/>
<rect x="281.70" y="331.00" width="5.38" height="10.00" fill="#F9FDCA"/>
<rect x="286.08" y="331.00" width="5.38" height="10.00" fill="#99C4DE"/>
<rect x="290.47" y="331.00" width="5.38" height="10.00" fill="#D0E9F2"/>
<rect x="294.85" y="331.00" width="5.38" height="10.00" fill="#F9FDCA"/>
<rect x="299.23" y="331.00" width="5.38" height="10.00" fill="#D8EEF5"/>
<rect x="303.62" y="331.00" width="5.38" height="10.00" fill="#F9FDCA"/>
<rect x="308.00" y="331.00" width="5.38" height="10.00" fill="#4575B4"/>
<rect x="312.38" y="331.00" width="9.77" height="10.00" fill="#D0E9F2"/>
<rect x="321.15" y="331.00" width="5.38" height="10.00" fill="#4575B4"/>
<rect x="325.53" y="331.00" width="5.38" height="10.00" fill="#C0DEEC"/>
<rect x="329.92" y="331.00" width="5.38" height="10.00" fill="#D8EEF5"/>
<rect x="334.30" y="331.00" width="5.38" height="10.00" fill="#4575B4"/>
<rect x="338.68" y="331.00" width="5.38" height="10.00" fill="#91BFDB"/>
<rect x="343.07" y="331.00" width="9.77" height="10.00" fill="#4575B4"/>
<rect x="351.83" y="331.00" width="5.38" height="10.00" fill="#7AA9CF"/>
<rect x="356.22" y="331.00" width="9.77" height="10.00" fill="#5484BC"/>
<rect x="364.98" y="331.00" width="5.38" height="10.00" fill="#FFFFBF"/>
<rect x="369.37" y="331.00" width="70.13" height="10.00" fill="#4575B4"/>
<rect x="45.00" y="340.00" width="5.38" height="10.00" fill="#A9CFE4"/>
<rect x="49.38" y="340.00" width="5.38" height="10.00" fill="#FEE99E"/>
<rect x="53.77" y="340.00" width="5.38" height="10.00" fill="#F0F9DC"/>
<rect x="58.15" y="340.00" width="9.77" height="10.00" fill="#FFFFBF"/>
<rect x="66.92" y="340.00" width="5.38" height="10.00" fill="#FDB674"/>
<rect x="71.30" y="340.00" width="5.38" height="10.00" fill="#FEE99E"/>
<rect x="75.68" y="340.00" width="5.38" height="10.00" fill="#F6FBD0"/>
<rect x="80.07" y="340.00" width="5.38" height="10.00" fill="#FDC780"/>
<rect x="84.45" y="340.00" width="5.38" height="10.00" fill="#B8D9EA"/>
<rect x="88.83" y="340.00" width="5.38" height="10.00" fill="#F6FBD0"/>
<rect x="93.22" y="340.00" width="5.38" height="10.00" fill="#FEE699"/>
<rect x="97.60" y="340.00" width="5.38" height="10.00" fill="#FDB674"/>
<rect x="101.98" y="340.00" width="9.77" height="10.00" fill="#FDC780"/>
<rect x="110.75" y="340.00" width="5.38" height="10.00" fill="#4575B4"/>
<rect x="115.13" y="340.00" width="5.38" height="10.00" fill="#91BFDB"/>
<rect x="119.52" y="340.00" width="9.77" height="10.00" fill="#4575B4"/>
<rect x="128.28" y="340.00" width="5.38" height="10.00" fill="#FDC780"/>
<rect x="132.67" y="340.00" width="9.77" height="10.00" fill="#4575B4"/>
<rect x="141.43" y="340.00" width="5.38" height="10.00" fill="#6B9AC8"/>
<rect x="145.82" y="340.00" width="22.92" height="10.00" fill="#4575B4"/>
<rect x="167.73" y="340.00" width="5.38" height="10.00" fill="#D8EEF5"/>
<rect x="172.12" y="340.00" width="22.92" height="10.00" fill="#4575B4"/>
<rect x="194.03" y="340.00" width="5.38" height="10.00" fill="#FDC780"/>
<rect x="198.42" y="340.00" width="5.38" height="10.00" fill="#4575B4"/>
<rect x="202.80" y="340.00" width="5.38" height="10.00" fill="#D8EEF5"/>
<rect x="207.18" y="340.00" width="5.38" height="10.00" fill="#6B9AC8"/>
<rect x="211.57" y="340.00" width="5.38" height="10.00" fill="#7AA9CF"/>
<rect x="215.95" y="340.00" width="5.38" height="10.00" fill="#A1C9E1"/>
<rect x="220.33" y="340.00" width="5.38" height="10.00" fill="#5C8BC0"/>
<rect x="224.72" y="340.00" width="5.38" height="10.00" fill="#82B0D3"/>
<rect x="229.10" y="340.00" width="5.38" height="10.00" fill="#E6F5ED"/>
<rect x="233.48" y="340.00" width="5.38" height="10.00" fill="#6B9AC8"/>
<rect x="237.87" y="340.00" width="5.38" height="10.00" fill="#91BFDB"/>
<rect x="242.25" y="340.00" width="22.92" height="10.00" fill="#4575B4"/>
<rect x="264.17" y="340.00" width="5.38" height="10.00" fill="#7AA9CF"/>
<rect x="268.55" y="340.00" width="5.38" height="10.00" fill="#E6F5ED"/>
<rect x="272.93" y="340.00" width="5.38" height="10.00" fill="#F3FAD6"/>
<rect x="277.32" y="340.00" width="9.77" height="10.00" fill="#D8EEF5"/>
<rect x="286.08" y="340.00" width="14.15" height="10.00" fill="#FCFEC5"/>
<rect x="299.23" y="340.00" width="5.38" height="10.00" fill="#B8D9EA"/>
<rect x="303.62" y="340.00" width="5.38" height="10.00" fill="#F3FAD6"/>
<rect x="308.00" y="340.00" width="5.38" height="10.00" fill="#4575B4"/>
<rect x="312.38" y="340.00" width="5.38" height="10.00" fill="#A1C9E1"/>
<rect x="316.77" y="340.00" width="5.38" height="10.00" fill="#91BFDB"/>
<rect x="321.15" y="340.00" width="5.38" height="10.00" fill="#73A1CB"/>
<rect x="325.53" y="340.00" width="9.77" height="10.00" fill="#FFF6B1"/>
<rect x="334.30" y="340.00" width="5.38" height="10.00" fill="#4575B4"/>
<rect x="338.68" y="340.00" width="5.38" height="10.00" fill="#91BFDB"/>
<rect x="343.07" y="340.00" width="9.77" height="10.00" fill="#4575B4"/>
<rect x="351.83" y="340.00" width="5.38" height="10.00" fill="#91BFDB"/>
<rect x="356.22" y="340.00" width="9.77" height="10.00" fill="#5484BC"/>
<rect x="364.98" y="340.00" width="5.38" height="10.00" fill="#FFFFBF"/>
<rect x="369.37" y="340.00" width="70.13" height="10.00" fill="#4575B4"/>
<rect x="45.00" y="349.00" width="5.38" height="10.00" fill="#5C8BC0"/>
<rect x="49.38" y="349.00" width="5.38" height="10.00" fill="#D73027"/>
<rect x="53.77" y="349.00" width="5.38" height="10.00" fill="#FFFFBF"/>
<rect x="58.15" y="349.00" width="5.38" height="10.00" fill="#4575B4"/>
<rect x="62.53" y="349.00" width="5.38" height="10.00" fill="#FEE090"/>
<rect x="66.92" y="349.00" width="5.38" height="10.00" fill="#A9CFE4"/>
<rect x="71.30" y="349.00" width="5.38" height="10.00" fill="#FFFFBF"/>
<rect x="75.68" y="349.00" width="5.38" height="10.00" fill="#FC8D59"/>
<rect x="80.07" y="349.00" width="5.38" height="10.00" fill="#B8D9EA"/>
<rect x="84.45" y="349.00" width="9.77" height="10.00" fill="#FFFFBF"/>
<rect x="93.22" y="349.00" width="5.38" height="10.00" fill="#B8D9EA"/>
<rect x="97.60" y="349.00" width="5.38" height="10.00" fill="#D73027"/>
<rect x="101.98" y="349.00" width="5.38" height="10.00" fill="#FC8D59"/>
<rect x="106.37" y="349.00" width="5.38" height="10.00" fill="#FEE090"/>
<rect x="110.75" y="349.00" width="5.38" height="10.00" fill="#4575B4"/>
<rect x="115.13" y="349.00" width="5.38" height="10.00" fill="#82B0D3"/>
<rect x="119.52" y="349.00" width="9.77" height="10.00" fill="#4575B4"/>
<rect x="128.28" y="349.00" width="5.38" height="10.00" fill="#D73027"/>
<rect x="132.67" y="349.00" width="9.77" height="10.00" fill="#4575B4"/>
<rect x="141.43" y="349.00" width="5.38" height="10.00" fill="#73A1CB"/>
<rect x="145.82" y="349.00" width="22.92" height="10.00" fill="#4575B4"/>
<rect x="167.73" y="349.00" width="5.38" height="10.00" fill="#D0E9F2"/>
<rect x="172.12" y="349.00" width="31.68" height="10.00" fill="#4575B4"/>
<rect x="202.80" y="349.00" width="5.38" height="10.00" fill="#E0F3F8"/>
<rect x="207.18" y="349.00" width="5.38" height="10.00" fill="#91BFDB"/>
<rect x="211.57" y="349.00" width="5.38" height="10.00" fill="#5484BC"/>
<rect x="215.95" y="349.00" width="5.38" height="10.00" fill="#73A1CB"/>
<rect x="220.33" y="349.00" width="9.77" height="10.00" fill="#5C8BC0"/>
<rect x="229.10" y="349.00" width="5.38" height="10.00" fill="#FFFFBF"/>
<rect x="233.48" y="349.00" width="5.38" height="10.00" fill="#82B0D3"/>
<rect x="237.87" y="349.00" width="5.38" height="10.00" fill="#6B9AC8"/>
<rect x="242.25" y="349.00" width="5.38" height="10.00" fill="#4D7CB8"/>
<rect x="246.63" y="349.00" width="5.38" height="10.00" fill="#91BFDB"/>
<rect x="251.02" y="349.00" width="5.38" height="10.00" fill="#4D7CB8"/>
<rect x="255.40" y="349.00" width="5.38" height="10.00" fill="#5484BC"/>
<rect x="259.78" y="349.00" width="5.38" height="10.00" fill="#91BFDB"/>
<rect x="264.17" y="349.00" width="5.38" height="10.00" fill="#5C8BC0"/>
<rect x="268.55" y="349.00" width="9.77" height="10.00" fill="#F6FBD0"/>
<rect x="277.32" y="349.00" width="5.38" height="10.00" fill="#F3FAD6"/>
<rect x="281.70" y="349.00" width="5.38" height="10.00" fill="#91BFDB"/>
<rect x="286.08" y="349.00" width="5.38" height="10.00" fill="#ECF8E1"/>
<rect x="290.47" y="349.00" width="5.38" height="10.00" fill="#4575B4"/>
<rect x="294.85" y="349.00" width="14.15" height="10.00" fill="#E3F4F2"/>
<rect x="308.00" y="349.00" width="5.38" height="10.00" fill="#4575B4"/>
<rect x="312.38" y="349.00" width="5.38" height="10.00" fill="#D0E9F2"/>
<rect x="316.77" y="349.00" width="5.38" height="10.00" fill="#89B8D7"/>
<rect x="321.15" y="349.00" width="5.38" height="10.00" fill="#4575B4"/>
<rect x="325.53" y="349.00" width="5.38" height="10.00" fill="#D0E9F2"/>
<rect x="329.92" y="349.00" width="5.38" height="10.00" fill="#6393C4"/>
<rect x="334.30" y="349.00" width="5.38" height="10.00" fill="#4575B4"/>
<rect x="338.68" y="349.00" width="5.38" height="10.00" fill="#D0E9F2"/>
<rect x="343.07" y="349.00" width="9.77" height="10.00" fill="#4575B4"/>
<rect x="351.83" y="349.00" width="5.38" height="10.00" fill="#5C8BC0"/>
<rect x="356.22" y="349.00" width="5.38" height="10.00" fill="#5484BC"/>
<rect x="360.60" y="349.00" width="5.38" height="10.00" fill="#6B9AC8"/>
<rect x="364.98" y="349.00" width="5.38" height="10.00" fill="#F3FAD6"/>
<rect x="369.37" y="349.00" width="36.07" height="10.00" fill="#4575B4"/>
<rect x="404.43" y="349.00" width="5.38" height="10.00" fill="#5484BC"/>
<rect x="408.82" y="349.00" width="9.77" height="10.00" fill="#4575B4"/>
<rect x="417.58" y="349.00" width="5.38" height="10.00" fill="#5080BA"/>
<rect x="421.97" y="349.00" width="9.77" height="10.00" fill="#4575B4"/>
<rect x="430.73" y="349.00" width="5.38" height="10.00" fill="#5484BC"/>
<rect x="435.12" y="349.00" width="4.38" height="10.00" fill="#4575B4"/>
<rect x="45.00" y="358.00" width="5.38" height="10.00" fill="#91BFDB"/>
<rect x="49.38" y="358.00" width="5.38" height="10.00" fill="#F6FBD0"/>
<rect x="53.77" y="358.00" width="5.38" height="10.00" fill="#FEE090"/>
<rect x="58.15" y="358.00" width="5.38" height="10.00" fill="#4575B4"/>
<rect x="62.53" y="358.00" width="5.38" height="10.00" fill="#D73027"/>
<rect x="66.92" y="358.00" width="5.38" height="10.00" fill="#E9F7E7"/>
<rect x="71.30" y="358.00" width="5.38" height="10.00" fill="#F6FBD0"/>
<rect x="75.68" y="358.00" width="5.38" height="10.00" fill="#FC8D59"/>
<rect x="80.07" y="358.00" width="5.38" height="10.00" fill="#A9CFE4"/>
<rect x="84.45" y="358.00" width="5.38" height="10.00" fill="#D0E9F2"/>
<rect x="88.83" y="358.00" width="5.38" height="10.00" fill="#E9F7E7"/>
<rect x="93.22" y="358.00" width="5.38" height="10.00" fill="#91BFDB"/>
<rect x="97.60" y="358.00" width="5.38" height="10.00" fill="#EA5E40"/>
<rect x="101.98" y="358.00" width="5.38" height="10.00" fill="#D73027"/>
<rect x="106.37" y="358.00" width="5.38" height="10.00" fill="#FEF0A8"/>
<rect x="110.75" y="358.00" width="5.38" height="10.00" fill="#4575B4"/>
<rect x="115.13" y="358.00" width="9.77" height="10.00" fill="#6393C4"/>
<rect x="123.90" y="358.00" width="5.38" height="10.00" fill="#4575B4"/>
<rect x="128.28" y="358.00" width="5.38" height="10.00" fill="#FFF9B6"/>
<rect x="132.67" y="358.00" width="5.38" height="10.00" fill="#D0E9F2"/>
<rect x="137.05" y="358.00" width="5.38" height="10.00" fill="#4575B4"/>
<rect x="141.43" y="358.00" width="5.38" height="10.00" fill="#6B9AC8"/>
<rect x="145.82" y="358.00" width="22.92" height="10.00" fill="#4575B4"/>
<rect x="167.73" y="358.00" width="5.38" height="10.00" fill="#82B0D3"/>
<rect x="172.12" y="358.00" width="31.68" height="10.00" fill="#4575B4"/>
<rect x="202.80" y="358.00" width="5.38" height="10.00" fill="#A1C9E1"/>
<rect x="207.18" y="358.00" width="5.38" height="10.00" fill="#91BFDB"/>
<rect x="211.57" y="358.00" width="5.38" height="10.00" fill="#5484BC"/>
<rect x="215.95" y="358.00" width="5.38" height="10.00" fill="#91BFDB"/>
<rect x="220.33" y="358.00" width="9.77" height="10.00" fill="#5C8BC0"/>
<rect x="229.10" y="358.00" width="5.38" height="10.00" fill="#FCFEC5"/>
<rect x="233.48" y="358.00" width="5.38" height="10.00" fill="#91BFDB"/>
<rect x="237.87" y="358.00" width="5.38" height="10.00" fill="#5484BC"/>
<rect x="242.25" y="358.00" width="5.38" height="10.00" fill="#4D7CB8"/>
<rect x="246.63" y="358.00" width="9.77" height="10.00" fill="#6393C4"/>
<rect x="255.40" y="358.00" width="5.38" height="10.00" fill="#4575B4"/>
<rect x="259.78" y="358.00" width="5.38" height="10.00" fill="#A1C9E1"/>
<rect x="264.17" y="358.00" width="5.38" height="10.00" fill="#6393C4"/>
<rect x="268.55" y="358.00" width="5.38" height="10.00" fill="#FCFEC5"/>
<rect x="272.93" y="358.00" width="5.38" height="10.00" fill="#FEE99E"/>
<rect x="277.32" y="358.00" width="5.38" height="10.00" fill="#C0DEEC"/>
<rect x="281.70" y="358.00" width="5.38" height="10.00" fill="#4575B4"/>
<rect x="286.08" y="358.00" width="5.38" height="10.00" fill="#F3FAD6"/>
<rect x="290.47" y="358.00" width="5.38" height="10.00" fill="#4575B4"/>
<rect x="294.85" y="358.00" width="9.77" height="10.00" fill="#FEE99E"/>
<rect x="303.62" y="358.00" width="5.38" height="10.00" fill="#FFF6B1"/>
<rect x="308.00" y="358.00" width="5.38" height="10.00" fill="#4575B4"/>
<rect x="312.38" y="358.00" width="5.38" height="10.00" fill="#89B8D7"/>
<rect x="316.77" y="358.00" width="5.38" height="10.00" fill="#C0DEEC"/>
<rect x="321.15" y="358.00" width="5.38" height="10.00" fill="#4575B4"/>
<rect x="325.53" y="358.00" width="5.38" height="10.00" fill="#FFFFBF"/>
<rect x="329.92" y="358.00" width="5.38" height="10.00" fill="#A1C9E1"/>
<rect x="334.30" y="358.00" width="5.38" height="10.00" fill="#4575B4"/>
<rect x="338.68" y="358.00" width="5.38" height="10.00" fill="#C0DEEC"/>
<rect x="343.07" y="358.00" width="9.77" height="10.00" fill="#4575B4"/>
<rect x="351.83" y="358.00" width="5.38" height="10.00" fill="#5C8BC0"/>
<rect x="356.22" y="358.00" width="5.38" height="10.00" fill="#4575B4"/>
<rect x="360.60" y="358.00" width="5.38" height="10.00" fill="#82B0D3"/>
<rect x="364.98" y="358.00" width="5.38" height="10.00" fill="#FFF9B6"/>
<rect x="369.37" y="358.00" width="36.07" height="10.00" fill="#4575B4"/>
<rect x="404.43" y="358.00" width="5.38" height="10.00" fill="#5080BA"/>
<rect x="408.82" y="358.00" width="22.92" height="10.00" fill="#4575B4"/>
<rect x="430.73" y="358.00" width="5.38" height="10.00" fill="#5080BA"/>
<rect x="435.12" y="358.00" width="4.38" height="10.00" fill="#4575B4"/>
<rect x="45.00" y="367.00" width="5.38" height="10.00" fill="#5C8BC0"/>
<rect x="49.38" y="367.00" width="5.38" height="10.00" fill="#FEE99E"/>
<rect x="53.77" y="367.00" width="5.38" height="10.00" fill="#E0F3F8"/>
<rect x="58.15" y="367.00" width="5.38" height="10.00" fill="#4575B4"/>
<rect x="62.53" y="367.00" width="5.38" height="10.00" fill="#D73027"/>
<rect x="66.92" y="367.00" width="5.38" height="10.00" fill="#C8E3EF"/>
<rect x="71.30" y="367.00" width="5.38" height="10.00" fill="#E0F3F8"/>
<rect x="75.68" y="367.00" width="5.38" height="10.00" fill="#FDB674"/>
<rect x="80.07" y="367.00" width="5.38" height="10.00" fill="#91BFDB"/>
<rect x="84.45" y="367.00" width="5.38" height="10.00" fill="#E3F4F2"/>
<rect x="88.83" y="367.00" width="5.38" height="10.00" fill="#F6FBD0"/>
<rect x="93.22" y="367.00" width="5.38" height="10.00" fill="#82B0D3"/>
<rect x="97.60" y="367.00" width="5.38" height="10.00" fill="#FEE090"/>
<rect x="101.98" y="367.00" width="5.38" height="10.00" fill="#D73027"/>
<rect x="106.37" y="367.00" width="5.38" height="10.00" fill="#C8E3EF"/>
<rect x="110.75" y="367.00" width="5.38" height="10.00" fill="#4575B4"/>
<rect x="115.13" y="367.00" width="5.38" height="10.00" fill="#C8E3EF"/>
<rect x="119.52" y="367.00" width="9.77" height="10.00" fill="#4575B4"/>
<rect x="128.28" y="367.00" width="5.38" height="10.00" fill="#FFF9B6"/>
<rect x="132.67" y="367.00" width="9.77" height="10.00" fill="#4575B4"/>
<rect x="141.43" y="367.00" width="5.38" height="10.00" fill="#5C8BC0"/>
<rect x="145.82" y="367.00" width="22.92" height="10.00" fill="#4575B4"/>
<rect x="167.73" y="367.00" width="5.38" height="10.00" fill="#7AA9CF"/>
<rect x="172.12" y="367.00" width="9.77" height="10.00" fill="#4575B4"/>
<rect x="180.88" y="367.00" width="5.38" height="10.00" fill="#4D7CB8"/>
<rect x="185.27" y="367.00" width="18.53" height="10.00" fill="#4575B4"/>
<rect x="202.80" y="367.00" width="5.38" height="10.00" fill="#F0F9DC"/>
<rect x="207.18" y="367.00" width="5.38" height="10.00" fill="#B8D9EA"/>
<rect x="211.57" y="367.00" width="5.38" height="10.00" fill="#5C8BC0"/>
<rect x="215.95" y="367.00" width="9.77" height="10.00" fill="#7AA9CF"/>
<rect x="224.72" y="367.00" width="5.38" height="10.00" fill="#5C8BC0"/>
<rect x="229.10" y="367.00" width="5.38" height="10.00" fill="#FEE99E"/>
<rect x="233.48" y="367.00" width="5.38" height="10.00" fill="#B8D9EA"/>
<rect x="237.87" y="367.00" width="5.38" height="10.00" fill="#5484BC"/>
<rect x="242.25" y="367.00" width="14.15" height="10.00" fill="#4D7CB8"/>
<rect x="255.40" y="367.00" width="5.38" height="10.00" fill="#4575B4"/>
<rect x="259.78" y="367.00" width="5.38" height="10.00" fill="#A1C9E1"/>
<rect x="264.17" y="367.00" width="5.38" height="10.00" fill="#4D7CB8"/>
<rect x="268.55" y="367.00" width="5.38" height="10.00" fill="#B1D4E7"/>
<rect x="272.93" y="367.00" width="5.38" height="10.00" fill="#FFF9B6"/>
<rect x="277.32" y="367.00" width="9.77" height="10.00" fill="#B1D4E7"/>
<rect x="286.08" y="367.00" width="5.38" height="10.00" fill="#FFF9B6"/>
<rect x="290.47" y="367.00" width="5.38" height="10.00" fill="#4575B4"/>
<rect x="294.85" y="367.00" width="14.15" height="10.00" fill="#FDB674"/>
<rect x="308.00" y="367.00" width="5.38" height="10.00" fill="#4575B4"/>
<rect x="312.38" y="367.00" width="5.38" height="10.00" fill="#C8E3EF"/>
<rect x="316.77" y="367.00" width="5.38" height="10.00" fill="#7AA9CF"/>
<rect x="321.15" y="367.00" width="5.38" height="10.00" fill="#4575B4"/>
<rect x="325.53" y="367.00" width="5.38" height="10.00" fill="#FEE699"/>
<rect x="329.92" y="367.00" width="5.38" height="10.00" fill="#7AA9CF"/>
<rect x="334.30" y="367.00" width="5.38" height="10.00" fill="#4575B4"/>
<rect x="338.68" y="367.00" width="5.38" height="10.00" fill="#F0F9DC"/>
<rect x="343.07" y="367.00" width="9.77" height="10.00" fill="#4575B4"/>
<rect x="351.83" y="367.00" width="5.38" height="10.00" fill="#5C8BC0"/>
<rect x="356.22" y="367.00" width="5.38" height="10.00" fill="#4575B4"/>
<rect x="360.60" y="367.00" width="5.38" height="10.00" fill="#C8E3EF"/>
<rect x="364.98" y="367.00" width="5.38" height="10.00" fill="#FEE090"/>
<rect x="369.37" y="367.00" width="36.07" height="10.00" fill="#4575B4"/>
<rect x="404.43" y="367.00" width="5.38" height="10.00" fill="#5C8BC0"/>
<rect x="408.82" y="367.00" width="9.77" height="10.00" fill="#4575B4"/>
<rect x="417.58" y="367.00" width="5.38" height="10.00" fill="#5C8BC0"/>
<rect x="421.97" y="367.00" width="9.77" height="10.00" fill="#4575B4"/>
<rect x="430.73" y="367.00" width="5.38" height="10.00" fill="#5C8BC0"/>
<rect x="435.12" y="367.00" width="4.38" height="10.00" fill="#4575B4"/>
<rect x="45.00" y="376.00" width="5.38" height="10.00" fill="#5C8BC0"/>
<rect x="49.38" y="376.00" width="5.38" height="10.00" fill="#FEE699"/>
<rect x="53.77" y="376.00" width="5.38" height="10.00" fill="#FFFFBF"/>
<rect x="58.15" y="376.00" width="5.38" height="10.00" fill="#4575B4"/>
<rect x="62.53" y="376.00" width="5.38" height="10.00" fill="#D73027"/>
<rect x="66.92" y="376.00" width="5.38" height="10.00" fill="#FFF6B1"/>
<rect x="71.30" y="376.00" width="9.77" height="10.00" fill="#D73027"/>
<rect x="80.07" y="376.00" width="5.38" height="10.00" fill="#FEE699"/>
<rect x="84.45" y="376.00" width="5.38" height="10.00" fill="#C0DEEC"/>
<rect x="88.83" y="376.00" width="5.38" height="10.00" fill="#FEE99E"/>
<rect x="93.22" y="376.00" width="5.38" height="10.00" fill="#5C8BC0"/>
<rect x="97.60" y="376.00" width="5.38" height="10.00" fill="#FFF6B1"/>
<rect x="101.98" y="376.00" width="5.38" height="10.00" fill="#FEE699"/>
<rect x="106.37" y="376.00" width="5.38" height="10.00" fill="#C8E3EF"/>
<rect x="110.75" y="376.00" width="5.38" height="10.00" fill="#4575B4"/>
<rect x="115.13" y="376.00" width="5.38" height="10.00" fill="#91BFDB"/>
<rect x="119.52" y="376.00" width="5.38" height="10.00" fill="#4575B4"/>
<rect x="123.90" y="376.00" width="5.38" height="10.00" fill="#73A1CB"/>
<rect x="128.28" y="376.00" width="5.38" height="10.00" fill="#E0F3F8"/>
<rect x="132.67" y="376.00" width="5.38" height="10.00" fill="#F3FAD6"/>
<rect x="137.05" y="376.00" width="5.38" height="10.00" fill="#4575B4"/>
<rect x="141.43" y="376.00" width="5.38" height="10.00" fill="#5C8BC0"/>
<rect x="145.82" y="376.00" width="22.92" height="10.00" fill="#4575B4"/>
<rect x="167.73" y="376.00" width="5.38" height="10.00" fill="#6B9AC8"/>
<rect x="172.12" y="376.00" width="9.77" height="10.00" fill="#4575B4"/>
<rect x="180.88" y="376.00" width="5.38" height="10.00" fill="#4D7CB8"/>
<rect x="185.27" y="376.00" width="9.77" height="10.00" fill="#4575B4"/>
<rect x="194.03" y="376.00" width="5.38" height="10.00" fill="#5C8BC0"/>
<rect x="198.42" y="376.00" width="5.38" height="10.00" fill="#4575B4"/>
<rect x="202.80" y="376.00" width="5.38" height="10.00" fill="#F3FAD6"/>
<rect x="207.18" y="376.00" width="5.38" height="10.00" fill="#89B8D7"/>
<rect x="211.57" y="376.00" width="5.38" height="10.00" fill="#6B9AC8"/>
<rect x="215.95" y="376.00" width="5.38" height="10.00" fill="#7AA9CF"/>
<rect x="220.33" y="376.00" width="5.38" height="10.00" fill="#5484BC"/>
<rect x="224.72" y="376.00" width="5.38" height="10.00" fill="#5C8BC0"/>
<rect x="229.10" y="376.00" width="5.38" height="10.00" fill="#FFF6B1"/>
<rect x="233.48" y="376.00" width="5.38" height="10.00" fill="#91BFDB"/>
<rect x="237.87" y="376.00" width="5.38" height="10.00" fill="#5C8BC0"/>
<rect x="242.25" y="376.00" width="5.38" height="10.00" fill="#4D7CB8"/>
<rect x="246.63" y="376.00" width="5.38" height="10.00" fill="#73A1CB"/>
<rect x="251.02" y="376.00" width="5.38" height="10.00" fill="#4D7CB8"/>
<rect x="255.40" y="376.00" width="5.38" height="10.00" fill="#4575B4"/>
<rect x="259.78" y="376.00" width="9.77" height="10.00" fill="#89B8D7"/>
<rect x="268.55" y="376.00" width="5.38" height="10.00" fill="#B1D4E7"/>
<rect x="272.93" y="376.00" width="5.38" height="10.00" fill="#F9FDCA"/>
<rect x="277.32" y="376.00" width="5.38" height="10.00" fill="#B1D4E7"/>
<rect x="281.70" y="376.00" width="5.38" height="10.00" fill="#4575B4"/>
<rect x="286.08" y="376.00" width="5.38" height="10.00" fill="#FFFCBA"/>
<rect x="290.47" y="376.00" width="5.38" height="10.00" fill="#4575B4"/>
<rect x="294.85" y="376.00" width="14.15" height="10.00" fill="#FFF6B1"/>
<rect x="308.00" y="376.00" width="5.38" height="10.00" fill="#4575B4"/>
<rect x="312.38" y="376.00" width="5.38" height="10.00" fill="#A9CFE4"/>
<rect x="316.77" y="376.00" width="5.38" height="10.00" fill="#D0E9F2"/>
<rect x="321.15" y="376.00" width="5.38" height="10.00" fill="#4575B4"/>
<rect x="325.53" y="376.00" width="5.38" height="10.00" fill="#E6F5ED"/>
<rect x="329.92" y="376.00" width="5.38" height="10.00" fill="#D8EEF5"/>
<rect x="334.30" y="376.00" width="5.38" height="10.00" fill="#4575B4"/>
<rect x="338.68" y="376.00" width="5.38" height="10.00" fill="#7AA9CF"/>
<rect x="343.07" y="376.00" width="9.77" height="10.00" fill="#4575B4"/>
<rect x="351.83" y="376.00" width="5.38" height="10.00" fill="#5C8BC0"/>
<rect x="356.22" y="376.00" width="5.38" height="10.00" fill="#4575B4"/>
<rect x="360.60" y="376.00" width="5.38" height="10.00" fill="#82B0D3"/>
<rect x="364.98" y="376.00" width="5.38" height="10.00" fill="#E9F7E7"/>
<rect x="369.37" y="376.00" width="36.07" height="10.00" fill="#4575B4"/>
<rect x="404.43" y="376.00" width="5.38" height="10.00" fill="#4D7CB8"/>
<rect x="408.82" y="376.00" width="22.92" height="10.00" fill="#4575B4"/>
<rect x="430.73" y="376.00" width="5.38" height="10.00" fill="#4D7CB8"/>
<rect x="435.12" y="376.00" width="4.38" height="10.00" fill="#4575B4"/>
<rect x="45.00" y="385.00" width="5.38" height="10.00" fill="#5C8BC0"/>
<rect x="49.38" y="385.00" width="5.38" height="10.00" fill="#FDA66A"/>
<rect x="53.77" y="385.00" width="5.38" height="10.00" fill="#E0F3F8"/>
<rect x="58.15" y="385.00" width="5.38" height="10.00" fill="#4575B4"/>
<rect x="62.53" y="385.00" width="5.38" height="10.00" fill="#F0F9DC"/>
<rect x="66.92" y="385.00" width="5.38" height="10.00" fill="#A9CFE4"/>
<rect x="71.30" y="385.00" width="5.38" height="10.00" fill="#FDB674"/>
<rect x="75.68" y="385.00" width="5.38" height="10.00" fill="#FDAE6F"/>
<rect x="80.07" y="385.00" width="5.38" height="10.00" fill="#E9F7E7"/>
<rect x="84.45" y="385.00" width="5.38" height="10.00" fill="#FECF85"/>
<rect x="88.83" y="385.00" width="5.38" height="10.00" fill="#F6FBD0"/>
<rect x="93.22" y="385.00" width="5.38" height="10.00" fill="#C0DEEC"/>
<rect x="97.60" y="385.00" width="5.38" height="10.00" fill="#EA5E40"/>
<rect x="101.98" y="385.00" width="5.38" height="10.00" fill="#D73027"/>
<rect x="106.37" y="385.00" width="5.38" height="10.00" fill="#FEE99E"/>
<rect x="110.75" y="385.00" width="5.38" height="10.00" fill="#4575B4"/>
<rect x="115.13" y="385.00" width="5.38" height="10.00" fill="#89B8D7"/>
<rect x="119.52" y="385.00" width="22.92" height="10.00" fill="#4575B4"/>
<rect x="141.43" y="385.00" width="5.38" height="10.00" fill="#C0DEEC"/>
<rect x="145.82" y="385.00" width="22.92" height="10.00" fill="#4575B4"/>
<rect x="167.73" y="385.00" width="5.38" height="10.00" fill="#7AA9CF"/>
<rect x="172.12" y="385.00" width="9.77" height="10.00" fill="#4575B4"/>
<rect x="180.88" y="385.00" width="9.77" height="10.00" fill="#4D7CB8"/>
<rect x="189.65" y="385.00" width="14.15" height="10.00" fill="#4575B4"/>
<rect x="202.80" y="385.00" width="5.38" height="10.00" fill="#C0DEEC"/>
<rect x="207.18" y="385.00" width="5.38" height="10.00" fill="#99C4DE"/>
<rect x="211.57" y="385.00" width="5.38" height="10.00" fill="#4575B4"/>
<rect x="215.95" y="385.00" width="5.38" height="10.00" fill="#A1C9E1"/>
<rect x="220.33" y="385.00" width="5.38" height="10.00" fill="#5C8BC0"/>
<rect x="224.72" y="385.00" width="5.38" height="10.00" fill="#6393C4"/>
<rect x="229.10" y="385.00" width="5.38" height="10.00" fill="#FFF9B6"/>
<rect x="233.48" y="385.00" width="5.38" height="10.00" fill="#82B0D3"/>
<rect x="237.87" y="385.00" width="5.38" height="10.00" fill="#5484BC"/>
<rect x="242.25" y="385.00" width="5.38" height="10.00" fill="#4D7CB8"/>
<rect x="246.63" y="385.00" width="5.38" height="10.00" fill="#73A1CB"/>
<rect x="251.02" y="385.00" width="5.38" height="10.00" fill="#4D7CB8"/>
<rect x="255.40" y="385.00" width="5.38" height="10.00" fill="#4575B4"/>
<rect x="259.78" y="385.00" width="5.38" height="10.00" fill="#82B0D3"/>
<rect x="264.17" y="385.00" width="5.38" height="10.00" fill="#5484BC"/>
<rect x="268.55" y="385.00" width="9.77" height="10.00" fill="#FFF6B1"/>
<rect x="277.32" y="385.00" width="5.38" height="10.00" fill="#6B9AC8"/>
<rect x="281.70" y="385.00" width="5.38" height="10.00" fill="#E3F4F2"/>
<rect x="286.08" y="385.00" width="9.77" height="10.00" fill="#B8D9EA"/>
<rect x="294.85" y="385.00" width="5.38" height="10.00" fill="#FFF9B6"/>
<rect x="299.23" y="385.00" width="5.38" height="10.00" fill="#FEE99E"/>
<rect x="303.62" y="385.00" width="5.38" height="10.00" fill="#FCFEC5"/>
<rect x="308.00" y="385.00" width="5.38" height="10.00" fill="#4575B4"/>
<rect x="312.38" y="385.00" width="5.38" height="10.00" fill="#E0F3F8"/>
<rect x="316.77" y="385.00" width="5.38" height="10.00" fill="#89B8D7"/>
<rect x="321.15" y="385.00" width="5.38" height="10.00" fill="#4575B4"/>
<rect x="325.53" y="385.00" width="5.38" height="10.00" fill="#F9FDCA"/>
<rect x="329.92" y="385.00" width="9.77" height="10.00" fill="#91BFDB"/>
<rect x="338.68" y="385.00" width="5.38" height="10.00" fill="#FEE699"/>
<rect x="343.07" y="385.00" width="9.77" height="10.00" fill="#4575B4"/>
<rect x="351.83" y="385.00" width="5.38" height="10.00" fill="#5484BC"/>
<rect x="356.22" y="385.00" width="5.38" height="10.00" fill="#4575B4"/>
<rect x="360.60" y="385.00" width="5.38" height="10.00" fill="#C0DEEC"/>
<rect x="364.98" y="385.00" width="5.38" height="10.00" fill="#FEE699"/>
<rect x="369.37" y="385.00" width="36.07" height="10.00" fill="#4575B4"/>
<rect x="404.43" y="385.00" width="5.38" height="10.00" fill="#5080BA"/>
<rect x="408.82" y="385.00" width="30.68" height="10.00" fill="#4575B4"/>
<rect x="45.00" y="394.00" width="5.38" height="10.00" fill="#5C8BC0"/>
<rect x="49.38" y="394.00" width="5.38" height="10.00" fill="#EA5E40"/>
<rect x="53.77" y="394.00" width="5.38" height="10.00" fill="#FFF6B1"/>
<rect x="58.15" y="394.00" width="5.38" height="10.00" fill="#4575B4"/>
<rect x="62.53" y="394.00" width="5.38" height="10.00" fill="#FEE99E"/>
<rect x="66.92" y="394.00" width="5.38" height="10.00" fill="#7AA9CF"/>
<rect x="71.30" y="394.00" width="5.38" height="10.00" fill="#F3FAD6"/>
<rect x="75.68" y="394.00" width="5.38" height="10.00" fill="#FDC780"/>
<rect x="80.07" y="394.00" width="5.38" height="10.00" fill="#A1C9E1"/>
<rect x="84.45" y="394.00" width="5.38" height="10.00" fill="#B1D4E7"/>
<rect x="88.83" y="394.00" width="5.38" height="10.00" fill="#FEECA3"/>
<rect x="93.22" y="394.00" width="5.38" height="10.00" fill="#91BFDB"/>
<rect x="97.60" y="394.00" width="5.38" height="10.00" fill="#F9FDCA"/>
<rect x="101.98" y="394.00" width="5.38" height="10.00" fill="#D73027"/>
<rect x="106.37" y="394.00" width="5.38" height="10.00" fill="#A1C9E1"/>
<rect x="110.75" y="394.00" width="5.38" height="10.00" fill="#4575B4"/>
<rect x="115.13" y="394.00" width="5.38" height="10.00" fill="#82B0D3"/>
<rect x="119.52" y="394.00" width="5.38" height="10.00" fill="#4D7CB8"/>
<rect x="123.90" y="394.00" width="5.38" height="10.00" fill="#4575B4"/>
<rect x="128.28" y="394.00" width="9.77" height="10.00" fill="#FC8D59"/>
<rect x="137.05" y="394.00" width="5.38" height="10.00" fill="#4575B4"/>
<rect x="141.43" y="394.00" width="5.38" height="10.00" fill="#82B0D3"/>
<rect x="145.82" y="394.00" width="22.92" height="10.00" fill="#4575B4"/>
<rect x="167.73" y="394.00" width="5.38" height="10.00" fill="#99C4DE"/>
<rect x="172.12" y="394.00" width="9.77" height="10.00" fill="#4575B4"/>
<rect x="180.88" y="394.00" width="5.38" height="10.00" fill="#5C8BC0"/>
<rect x="185.27" y="394.00" width="18.53" height="10.00" fill="#4575B4"/>
<rect x="202.80" y="394.00" width="5.38" height="10.00" fill="#FEE699"/>
<rect x="207.18" y="394.00" width="5.38" height="10.00" fill="#C8E3EF"/>
<rect x="211.57" y="394.00" width="5.38" height="10.00" fill="#82B0D3"/>
<rect x="215.95" y="394.00" width="5.38" height="10.00" fill="#A9CFE4"/>
<rect x="220.33" y="394.00" width="5.38" height="10.00" fill="#7AA9CF"/>
<rect x="224.72" y="394.00" width="5.38" height="10.00" fill="#5C8BC0"/>
<rect x="229.10" y="394.00" width="5.38" height="10.00" fill="#FC8D59"/>
<rect x="233.48" y="394.00" width="5.38" height="10.00" fill="#B8D9EA"/>
<rect x="237.87" y="394.00" width="5.38" height="10.00" fill="#5484BC"/>
<rect x="242.25" y="394.00" width="5.38" height="10.00" fill="#4D7CB8"/>
<rect x="246.63" y="394.00" width="5.38" height="10.00" fill="#6B9AC8"/>
<rect x="251.02" y="394.00" width="5.38" height="10.00" fill="#4D7CB8"/>
<rect x="255.40" y="394.00" width="5.38" height="10.00" fill="#4575B4"/>
<rect x="259.78" y="394.00" width="5.38" height="10.00" fill="#82B0D3"/>
<rect x="264.17" y="394.00" width="5.38" height="10.00" fill="#4D7CB8"/>
<rect x="268.55" y="394.00" width="5.38" height="10.00" fill="#DE4331"/>
<rect x="272.93" y="394.00" width="9.77" height="10.00" fill="#D8EEF5"/>
<rect x="281.70" y="394.00" width="14.15" height="10.00" fill="#4575B4"/>
<rect x="294.85" y="394.00" width="5.38" height="10.00" fill="#C8E3EF"/>
<rect x="299.23" y="394.00" width="5.38" height="10.00" fill="#FFF6B1"/>
<rect x="303.62" y="394.00" width="9.77" height="10.00" fill="#4575B4"/>
<rect x="312.38" y="394.00" width="5.38" height="10.00" fill="#E3F4F2"/>
<rect x="316.77" y="394.00" width="5.38" height="10.00" fill="#82B0D3"/>
<rect x="321.15" y="394.00" width="5.38" height="10.00" fill="#4575B4"/>
<rect x="325.53" y="394.00" width="5.38" height="10.00" fill="#E0F3F8"/>
<rect x="329.92" y="394.00" width="5.38" height="10.00" fill="#5C8BC0"/>
<rect x="334.30" y="394.00" width="5.38" height="10.00" fill="#4575B4"/>
<rect x="338.68" y="394.00" width="5.38" height="10.00" fill="#C0DEEC"/>
<rect x="343.07" y="394.00" width="9.77" height="10.00" fill="#4575B4"/>
<rect x="351.83" y="394.00" width="5.38" height="10.00" fill="#91BFDB"/>
<rect x="356.22" y="394.00" width="5.38" height="10.00" fill="#4575B4"/>
<rect x="360.60" y="394.00" width="5.38" height="10.00" fill="#91BFDB"/>
<rect x="364.98" y="394.00" width="5.38" height="10.00" fill="#F3FAD6"/>
<rect x="369.37" y="394.00" width="31.68" height="10.00" fill="#4575B4"/>
<rect x="400.05" y="394.00" width="5.38" height="10.00" fill="#5C8BC0"/>
<rect x="404.43" y="394.00" width="5.38" height="10.00" fill="#6B9AC8"/>
<rect x="408.82" y="394.00" width="9.77" height="10.00" fill="#4575B4"/>
<rect x="417.58" y="394.00" width="5.38" height="10.00" fill="#5C8BC0"/>
<rect x="421.97" y="394.00" width="5.38" height="10.00" fill="#4575B4"/>
<rect x="426.35" y="394.00" width="5.38" height="10.00" fill="#5C8BC0"/>
<rect x="430.73" y="394.00" width="5.38" height="10.00" fill="#6B9AC8"/>
<rect x="435.12" y="394.00" width="4.38" height="10.00" fill="#4575B4"/>
<rect x="45.00" y="403.00" width="5.38" height="10.00" fill="#5C8BC0"/>
<rect x="49.38" y="403.00" width="5.38" height="10.00" fill="#FEE99E"/>
<rect x="53.77" y="403.00" width="5.38" height="10.00" fill="#B1D4E7"/>
<rect x="58.15" y="403.00" width="5.38" height="10.00" fill="#4575B4"/>
<rect x="62.53" y="403.00" width="5.38" height="10.00" fill="#D73027"/>
<rect x="66.92" y="403.00" width="5.38" height="10.00" fill="#91BFDB"/>
<rect x="71.30" y="403.00" width="5.38" height="10.00" fill="#C0DEEC"/>
<rect x="75.68" y="403.00" width="5.38" height="10.00" fill="#F1714A"/>
<rect x="80.07" y="403.00" width="5.38" height="10.00" fill="#82B0D3"/>
<rect x="84.45" y="403.00" width="5.38" height="10.00" fill="#B1D4E7"/>
<rect x="88.83" y="403.00" width="5.38" height="10.00" fill="#FFF6B1"/>
<rect x="93.22" y="403.00" width="5.38" height="10.00" fill="#5C8BC0"/>
<rect x="97.60" y="403.00" width="5.38" height="10.00" fill="#FFF6B1"/>
<rect x="101.98" y="403.00" width="5.38" height="10.00" fill="#FDB674"/>
<rect x="106.37" y="403.00" width="5.38" height="10.00" fill="#A1C9E1"/>
<rect x="110.75" y="403.00" width="5.38" height="10.00" fill="#4575B4"/>
<rect x="115.13" y="403.00" width="9.77" height="10.00" fill="#5484BC"/>
<rect x="123.90" y="403.00" width="5.38" height="10.00" fill="#4575B4"/>
<rect x="128.28" y="403.00" width="5.38" height="10.00" fill="#FC8D59"/>
<rect x="132.67" y="403.00" width="5.38" height="10.00" fill="#6B9AC8"/>
<rect x="137.05" y="403.00" width="5.38" height="10.00" fill="#4575B4"/>
<rect x="141.43" y="403.00" width="5.38" height="10.00" fill="#6393C4"/>
<rect x="145.82" y="403.00" width="22.92" height="10.00" fill="#4575B4"/>
<rect x="167.73" y="403.00" width="5.38" height="10.00" fill="#7AA9CF"/>
<rect x="172.12" y="403.00" width="22.92" height="10.00" fill="#4575B4"/>
<rect x="194.03" y="403.00" width="5.38" height="10.00" fill="#E0F3F8"/>
<rect x="198.42" y="403.00" width="5.38" height="10.00" fill="#4575B4"/>
<rect x="202.80" y="403.00" width="5.38" height="10.00" fill="#FEE699"/>
<rect x="207.18" y="403.00" width="5.38" height="10.00" fill="#C8E3EF"/>
<rect x="211.57" y="403.00" width="5.38" height="10.00" fill="#5C8BC0"/>
<rect x="215.95" y="403.00" width="5.38" height="10.00" fill="#FFF9B6"/>
<rect x="220.33" y="403.00" width="5.38" height="10.00" fill="#91BFDB"/>
<rect x="224.72" y="403.00" width="5.38" height="10.00" fill="#7AA9CF"/>
<rect x="229.10" y="403.00" width="5.38" height="10.00" fill="#EA5E40"/>
<rect x="233.48" y="403.00" width="5.38" height="10.00" fill="#C0DEEC"/>
<rect x="237.87" y="403.00" width="5.38" height="10.00" fill="#5C8BC0"/>
<rect x="242.25" y="403.00" width="5.38" height="10.00" fill="#4D7CB8"/>
<rect x="246.63" y="403.00" width="5.38" height="10.00" fill="#6B9AC8"/>
<rect x="251.02" y="403.00" width="5.38" height="10.00" fill="#4D7CB8"/>
<rect x="255.40" y="403.00" width="5.38" height="10.00" fill="#4575B4"/>
<rect x="259.78" y="403.00" width="5.38" height="10.00" fill="#F0F9DC"/>
<rect x="264.17" y="403.00" width="5.38" height="10.00" fill="#4D7CB8"/>
<rect x="268.55" y="403.00" width="5.38" height="10.00" fill="#FDAE6F"/>
<rect x="272.93" y="403.00" width="5.38" height="10.00" fill="#F0F9DC"/>
<rect x="277.32" y="403.00" width="5.38" height="10.00" fill="#F1714A"/>
<rect x="281.70" y="403.00" width="5.38" height="10.00" fill="#4575B4"/>
<rect x="286.08" y="403.00" width="5.38" height="10.00" fill="#FEE699"/>
<rect x="290.47" y="403.00" width="22.92" height="10.00" fill="#4575B4"/>
<rect x="312.38" y="403.00" width="5.38" height="10.00" fill="#C0DEEC"/>
<rect x="316.77" y="403.00" width="5.38" height="10.00" fill="#7AA9CF"/>
<rect x="321.15" y="403.00" width="5.38" height="10.00" fill="#4575B4"/>
<rect x="325.53" y="403.00" width="5.38" height="10.00" fill="#FFF6B1"/>
<rect x="329.92" y="403.00" width="5.38" height="10.00" fill="#7AA9CF"/>
<rect x="334.30" y="403.00" width="5.38" height="10.00" fill="#4575B4"/>
<rect x="338.68" y="403.00" width="5.38" height="10.00" fill="#D0E9F2"/>
<rect x="343.07" y="403.00" width="9.77" height="10.00" fill="#4575B4"/>
<rect x="351.83" y="403.00" width="5.38" height="10.00" fill="#91BFDB"/>
<rect x="356.22" y="403.00" width="5.38" height="10.00" fill="#4575B4"/>
<rect x="360.60" y="403.00" width="5.38" height="10.00" fill="#D8EEF5"/>
<rect x="364.98" y="403.00" width="5.38" height="10.00" fill="#FFF6B1"/>
<rect x="369.37" y="403.00" width="22.92" height="10.00" fill="#4575B4"/>
<rect x="391.28" y="403.00" width="5.38" height="10.00" fill="#7AA9CF"/>
<rect x="395.67" y="403.00" width="5.38" height="10.00" fill="#4575B4"/>
<rect x="400.05" y="403.00" width="5.38" height="10.00" fill="#5C8BC0"/>
<rect x="404.43" y="403.00" width="5.38" height="10.00" fill="#6B9AC8"/>
<rect x="408.82" y="403.00" width="9.77" height="10.00" fill="#4575B4"/>
<rect x="417.58" y="403.00" width="5.38" height="10.00" fill="#5C8BC0"/>
<rect x="421.97" y="403.00" width="5.38" height="10.00" fill="#4575B4"/>
<rect x="426.35" y="403.00" width="5.38" height="10.00" fill="#6B9AC8"/>
<rect x="430.73" y="403.00" width="5.38" height="10.00" fill="#6393C4"/>
<rect x="435.12" y="403.00" width="4.38" height="10.00" fill="#4575B4"/>
<rect x="45.00" y="412.00" width="5.38" height="10.00" fill="#5484BC"/>
<rect x="49.38" y="412.00" width="5.38" height="10.00" fill="#5C8BC0"/>
<rect x="53.77" y="412.00" width="5.38" height="10.00" fill="#B1D4E7"/>
<rect x="58.15" y="412.00" width="5.38" height="10.00" fill="#FEE090"/>
<rect x="62.53" y="412.00" width="9.77" height="10.00" fill="#5484BC"/>
<rect x="71.30" y="412.00" width="5.38" height="10.00" fill="#89B8D7"/>
<rect x="75.68" y="412.00" width="5.38" height="10.00" fill="#D73027"/>
<rect x="80.07" y="412.00" width="5.38" height="10.00" fill="#91BFDB"/>
<rect x="84.45" y="412.00" width="5.38" height="10.00" fill="#FFF6B1"/>
<rect x="88.83" y="412.00" width="5.38" height="10.00" fill="#D73027"/>
<rect x="93.22" y="412.00" width="5.38" height="10.00" fill="#A1C9E1"/>
<rect x="97.60" y="412.00" width="5.38" height="10.00" fill="#FDB674"/>
<rect x="101.98" y="412.00" width="5.38" height="10.00" fill="#D73027"/>
<rect x="106.37" y="412.00" width="5.38" height="10.00" fill="#A1C9E1"/>
<rect x="110.75" y="412.00" width="40.45" height="10.00" fill="#4575B4"/>
<rect x="150.20" y="412.00" width="5.38" height="10.00" fill="#6393C4"/>
<rect x="154.58" y="412.00" width="14.15" height="10.00" fill="#4575B4"/>
<rect x="167.73" y="412.00" width="5.38" height="10.00" fill="#FFF9B6"/>
<rect x="172.12" y="412.00" width="31.68" height="10.00" fill="#4575B4"/>
<rect x="202.80" y="412.00" width="5.38" height="10.00" fill="#A9CFE4"/>
<rect x="207.18" y="412.00" width="9.77" height="10.00" fill="#5C8BC0"/>
<rect x="215.95" y="412.00" width="5.38" height="10.00" fill="#FFF9B6"/>
<rect x="220.33" y="412.00" width="5.38" height="10.00" fill="#5C8BC0"/>
<rect x="224.72" y="412.00" width="5.38" height="10.00" fill="#E0F3F8"/>
<rect x="229.10" y="412.00" width="5.38" height="10.00" fill="#D73027"/>
<rect x="233.48" y="412.00" width="5.38" height="10.00" fill="#73A1CB"/>
<rect x="237.87" y="412.00" width="5.38" height="10.00" fill="#91BFDB"/>
<rect x="242.25" y="412.00" width="9.77" height="10.00" fill="#4575B4"/>
<rect x="251.02" y="412.00" width="5.38" height="10.00" fill="#5484BC"/>
<rect x="255.40" y="412.00" width="5.38" height="10.00" fill="#7AA9CF"/>
<rect x="259.78" y="412.00" width="5.38" height="10.00" fill="#4575B4"/>
<rect x="264.17" y="412.00" width="5.38" height="10.00" fill="#B8D9EA"/>
<rect x="268.55" y="412.00" width="9.77" height="10.00" fill="#91BFDB"/>
<rect x="277.32" y="412.00" width="9.77" height="10.00" fill="#4575B4"/>
<rect x="286.08" y="412.00" width="5.38" height="10.00" fill="#4D7CB8"/>
<rect x="290.47" y="412.00" width="9.77" height="10.00" fill="#4575B4"/>
<rect x="299.23" y="412.00" width="5.38" height="10.00" fill="#A1C9E1"/>
<rect x="303.62" y="412.00" width="22.92" height="10.00" fill="#4575B4"/>
<rect x="325.53" y="412.00" width="5.38" height="10.00" fill="#C0DEEC"/>
<rect x="329.92" y="412.00" width="9.77" height="10.00" fill="#4575B4"/>
<rect x="338.68" y="412.00" width="5.38" height="10.00" fill="#E6F5ED"/>
<rect x="343.07" y="412.00" width="5.38" height="10.00" fill="#4575B4"/>
<rect x="347.45" y="412.00" width="5.38" height="10.00" fill="#6B9AC8"/>
<rect x="351.83" y="412.00" width="5.38" height="10.00" fill="#F57A4F"/>
<rect x="356.22" y="412.00" width="5.38" height="10.00" fill="#4575B4"/>
<rect x="360.60" y="412.00" width="9.77" height="10.00" fill="#7AA9CF"/>
<rect x="369.37" y="412.00" width="9.77" height="10.00" fill="#4575B4"/>
<rect x="378.13" y="412.00" width="5.38" height="10.00" fill="#73A1CB"/>
<rect x="382.52" y="412.00" width="9.77" height="10.00" fill="#4575B4"/>
<rect x="391.28" y="412.00" width="5.38" height="10.00" fill="#82B0D3"/>
<rect x="395.67" y="412.00" width="5.38" height="10.00" fill="#4575B4"/>
<rect x="400.05" y="412.00" width="5.38" height="10.00" fill="#6393C4"/>
<rect x="404.43" y="412.00" width="5.38" height="10.00" fill="#F0F9DC"/>
<rect x="408.82" y="412.00" width="5.38" height="10.00" fill="#4575B4"/>
<rect x="413.20" y="412.00" width="5.38" height="10.00" fill="#6393C4"/>
<rect x="417.58" y="412.00" width="5.38" height="10.00" fill="#FFF6B1"/>
<rect x="421.97" y="412.00" width="5.38" height="10.00" fill="#4575B4"/>
<rect x="426.35" y="412.00" width="5.38" height="10.00" fill="#C8E3EF"/>
<rect x="430.73" y="412.00" width="5.38" height="10.00" fill="#FEE699"/>
<rect x="435.12" y="412.00" width="4.38" height="10.00" fill="#4575B4"/>
<rect x="45.00" y="421.00" width="5.38" height="9.00" fill="#73A1CB"/>
<rect x="49.38" y="421.00" width="14.15" height="9.00" fill="#82B0D3"/>
<rect x="62.53" y="421.00" width="5.38" height="9.00" fill="#E0F3F8"/>
<rect x="66.92" y="421.00" width="5.38" height="9.00" fill="#82B0D3"/>
<rect x="71.30" y="421.00" width="5.38" height="9.00" fill="#5C8BC0"/>
<rect x="75.68" y="421.00" width="5.38" height="9.00" fill="#EA5E40"/>
<rect x="80.07" y="421.00" width="5.38" height="9.00" fill="#5C8BC0"/>
<rect x="84.45" y="421.00" width="5.38" height="9.00" fill="#D73027"/>
<rect x="88.83" y="421.00" width="5.38" height="9.00" fill="#EA5E40"/>
<rect x="93.22" y="421.00" width="5.38" height="9.00" fill="#F6FBD0"/>
<rect x="97.60" y="421.00" width="5.38" height="9.00" fill="#E3F4F2"/>
<rect x="101.98" y="421.00" width="5.38" height="9.00" fill="#F6FBD0"/>
<rect x="106.37" y="421.00" width="5.38" height="9.00" fill="#E3F4F2"/>
<rect x="110.75" y="421.00" width="5.38" height="9.00" fill="#4575B4"/>
<rect x="115.13" y="421.00" width="5.38" height="9.00" fill="#F6FBD0"/>
<rect x="119.52" y="421.00" width="5.38" height="9.00" fill="#A9CFE4"/>
<rect x="123.90" y="421.00" width="18.53" height="9.00" fill="#4575B4"/>
<rect x="141.43" y="421.00" width="5.38" height="9.00" fill="#73A1CB"/>
<rect x="145.82" y="421.00" width="22.92" height="9.00" fill="#4575B4"/>
<rect x="167.73" y="421.00" width="5.38" height="9.00" fill="#B1D4E7"/>
<rect x="172.12" y="421.00" width="22.92" height="9.00" fill="#4575B4"/>
<rect x="194.03" y="421.00" width="5.38" height="9.00" fill="#82B0D3"/>
<rect x="198.42" y="421.00" width="5.38" height="9.00" fill="#4575B4"/>
<rect x="202.80" y="421.00" width="5.38" height="9.00" fill="#F0F9DC"/>
<rect x="207.18" y="421.00" width="5.38" height="9.00" fill="#5C8BC0"/>
<rect x="211.57" y="421.00" width="5.38" height="9.00" fill="#FC8D59"/>
<rect x="215.95" y="421.00" width="5.38" height="9.00" fill="#FDC780"/>
<rect x="220.33" y="421.00" width="5.38" height="9.00" fill="#5C8BC0"/>
<rect x="224.72" y="421.00" width="5.38" height="9.00" fill="#C8E3EF"/>
<rect x="229.10" y="421.00" width="5.38" height="9.00" fill="#82B0D3"/>
<rect x="233.48" y="421.00" width="5.38" height="9.00" fill="#6B9AC8"/>
<rect x="237.87" y="421.00" width="5.38" height="9.00" fill="#B8D9EA"/>
<rect x="242.25" y="421.00" width="9.77" height="9.00" fill="#4575B4"/>
<rect x="251.02" y="421.00" width="5.38" height="9.00" fill="#5484BC"/>
<rect x="255.40" y="421.00" width="5.38" height="9.00" fill="#4575B4"/>
<rect x="259.78" y="421.00" width="5.38" height="9.00" fill="#FC8D59"/>
<rect x="264.17" y="421.00" width="5.38" height="9.00" fill="#4575B4"/>
<rect x="268.55" y="421.00" width="9.77" height="9.00" fill="#82B0D3"/>
<rect x="277.32" y="421.00" width="22.92" height="9.00" fill="#4575B4"/>
<rect x="299.23" y="421.00" width="5.38" height="9.00" fill="#EA5E40"/>
<rect x="303.62" y="421.00" width="9.77" height="9.00" fill="#4575B4"/>
<rect x="312.38" y="421.00" width="5.38" height="9.00" fill="#EA5E40"/>
<rect x="316.77" y="421.00" width="5.38" height="9.00" fill="#91BFDB"/>
<rect x="321.15" y="421.00" width="5.38" height="9.00" fill="#E0F3F8"/>
<rect x="325.53" y="421.00" width="5.38" height="9.00" fill="#89B8D7"/>
<rect x="329.92" y="421.00" width="5.38" height="9.00" fill="#E0F3F8"/>
<rect x="334.30" y="421.00" width="5.38" height="9.00" fill="#4575B4"/>
<rect x="338.68" y="421.00" width="5.38" height="9.00" fill="#A9CFE4"/>
<rect x="343.07" y="421.00" width="9.77" height="9.00" fill="#4575B4"/>
<rect x="351.83" y="421.00" width="5.38" height="9.00" fill="#FFFFBF"/>
<rect x="356.22" y="421.00" width="5.38" height="9.00" fill="#4575B4"/>
<rect x="360.60" y="421.00" width="5.38" height="9.00" fill="#73A1CB"/>
<rect x="364.98" y="421.00" width="5.38" height="9.00" fill="#6B9AC8"/>
<rect x="369.37" y="421.00" width="22.92" height="9.00" fill="#4575B4"/>
<rect x="391.28" y="421.00" width="5.38" height="9.00" fill="#6B9AC8"/>
<rect x="395.67" y="421.00" width="5.38" height="9.00" fill="#4575B4"/>
<rect x="400.05" y="421.00" width="5.38" height="9.00" fill="#D0E9F2"/>
<rect x="404.43" y="421.00" width="5.38" height="9.00" fill="#F9FDCA"/>
<rect x="408.82" y="421.00" width="5.38" height="9.00" fill="#4575B4"/>
<rect x="413.20" y="421.00" width="5.38" height="9.00" fill="#5484BC"/>
<rect x="417.58" y="421.00" width="5.38" height="9.00" fill="#E6F5ED"/>
<rect x="421.97" y="421.00" width="5.38" height="9.00" fill="#4575B4"/>
<rect x="426.35" y="421.00" width="5.38" height="9.00" fill="#6B9AC8"/>
<rect x="430.73" y="421.00" width="5.38" height="9.00" fill="#FFFFBF"/>
<rect x="435.12" y="421.00" width="4.38" height="9.00" fill="#4575B4"/>
<text x="442.00" y="273.30" font-size="8.8" font-weight="bold" fill="#111" text-anchor="start" >cell type</text>
<text x="442.00" y="283.00" font-size="8.8" font-weight="bold" fill="#111" text-anchor="start" >Marker</text>
<text x="442.00" y="294.00" font-size="8.6" font-weight="normal" fill="#1a1a1a" text-anchor="start" >EM</text>
<text x="442.00" y="303.00" font-size="8.6" font-weight="normal" fill="#1a1a1a" text-anchor="start" >AL</text>
<text x="442.00" y="312.00" font-size="8.6" font-weight="normal" fill="#1a1a1a" text-anchor="start" >SM</text>
<text x="442.00" y="321.00" font-size="8.6" font-weight="normal" fill="#1a1a1a" text-anchor="start" >SMQ</text>
<text x="442.00" y="330.00" font-size="8.6" font-weight="normal" fill="#1a1a1a" text-anchor="start" >dMLT</text>
<text x="442.00" y="339.00" font-size="8.6" font-weight="normal" fill="#1a1a1a" text-anchor="start" >MPL</text>
<text x="442.00" y="348.00" font-size="8.6" font-weight="normal" fill="#1a1a1a" text-anchor="start" >MPL+QS-21</text>
<text x="442.00" y="357.00" font-size="8.6" font-weight="normal" fill="#1a1a1a" text-anchor="start" >LMQ</text>
<text x="442.00" y="366.00" font-size="8.6" font-weight="normal" fill="#1a1a1a" text-anchor="start" >LM</text>
<text x="442.00" y="375.00" font-size="8.6" font-weight="normal" fill="#1a1a1a" text-anchor="start" >LQ</text>
<text x="442.00" y="384.00" font-size="8.6" font-weight="normal" fill="#1a1a1a" text-anchor="start" >SWE</text>
<text x="442.00" y="393.00" font-size="8.6" font-weight="normal" fill="#1a1a1a" text-anchor="start" >SQ</text>
<text x="442.00" y="402.00" font-size="8.6" font-weight="normal" fill="#1a1a1a" text-anchor="start" >QS-21</text>
<text x="442.00" y="411.00" font-size="8.6" font-weight="normal" fill="#1a1a1a" text-anchor="start" >QS-7</text>
<text x="442.00" y="420.00" font-size="8.6" font-weight="normal" fill="#1a1a1a" text-anchor="start" >DMSO</text>
<text x="442.00" y="429.00" font-size="8.6" font-weight="normal" fill="#1a1a1a" text-anchor="start" >PBS</text>
<path d="M45.00,290.50 H37.40 V299.50 H45.00 M45.00,308.50 H41.70 V317.50 H45.00 M41.70,313.00 H37.40 V326.50 H45.00 M45.00,335.50 H37.40 V344.50 H45.00 M37.40,319.75 H34.70 V340.00 H37.40 M37.40,295.00 H32.30 V329.88 H34.70 M45.00,362.50 H39.40 V371.50 H45.00 M39.40,367.00 H35.70 V380.50 H45.00 M45.00,353.50 H33.50 V373.75 H35.70 M33.50,363.62 H32.30 V389.50 H45.00 M32.30,312.44 H28.40 V376.56 H32.30 M45.00,398.50 H30.20 V407.50 H45.00 M28.40,344.50 H20.70 V403.00 H30.20 M45.00,416.50 H14.90 V425.50 H45.00 M20.70,373.75 H3.00 V421.00 H14.90" fill="none" stroke="#333" stroke-width="0.9"/>
<defs><linearGradient id="cb" x1="0" y1="0" x2="0" y2="1"><stop offset="0" stop-color="#D73027"/><stop offset="0.27" stop-color="#D73027"/><stop offset="0.355" stop-color="#FC8D59"/><stop offset="0.42" stop-color="#FEE090"/><stop offset="0.49" stop-color="#FFFFBF"/><stop offset="0.62" stop-color="#E0F3F8"/><stop offset="0.75" stop-color="#91BFDB"/><stop offset="0.83" stop-color="#4575B4"/><stop offset="1" stop-color="#4575B4"/></linearGradient></defs>
<rect x="496" y="265" width="7.8" height="122" fill="url(#cb)"/>
<text x="506.50" y="274.40" font-size="8" font-weight="normal" fill="#222" text-anchor="start" >4</text>
<text x="506.50" y="297.80" font-size="8" font-weight="normal" fill="#222" text-anchor="start" >3</text>
<text x="506.50" y="321.10" font-size="8" font-weight="normal" fill="#222" text-anchor="start" >2</text>
<text x="506.50" y="344.00" font-size="8" font-weight="normal" fill="#222" text-anchor="start" >1</text>
<text x="506.50" y="367.60" font-size="8" font-weight="normal" fill="#222" text-anchor="start" >0</text>
<text x="519.50" y="271.50" font-size="8.8" font-weight="bold" fill="#111" text-anchor="start" >cell type</text>
<rect x="519.6" y="275" width="12.6" height="13" fill="#E41A1C"/>
<text x="534.80" y="284.60" font-size="8.5" font-weight="normal" fill="#222" text-anchor="start" >B cell</text>
<rect x="519.6" y="288" width="12.6" height="13" fill="#377EB8"/>
<text x="534.80" y="297.60" font-size="8.5" font-weight="normal" fill="#222" text-anchor="start" >mDC</text>
<rect x="519.6" y="301" width="12.6" height="13" fill="#4DAF4A"/>
<text x="534.80" y="310.60" font-size="8.5" font-weight="normal" fill="#222" text-anchor="start" >Monocy<tspan font-weight="bold">e</tspan></text>
<rect x="519.6" y="314" width="12.6" height="13" fill="#984EA3"/>
<text x="534.80" y="323.60" font-size="8.5" font-weight="normal" fill="#222" text-anchor="start" >NK cell</text>
<rect x="519.6" y="327" width="12.6" height="13" fill="#FF7F00"/>
<text x="534.80" y="336.60" font-size="8.5" font-weight="normal" fill="#222" text-anchor="start" >pDC</text>
<rect x="519.6" y="340" width="12.6" height="13" fill="#A65628"/>
<text x="534.80" y="349.60" font-size="8.5" font-weight="normal" fill="#222" text-anchor="start" >T cell</text>
<text x="519.50" y="369.20" font-size="8.8" font-weight="bold" fill="#111" text-anchor="start" >Marker</text>
<rect x="519.6" y="373" width="12.6" height="13" fill="#E41A1C"/>
<text x="534.80" y="382.60" font-size="8.5" font-weight="normal" fill="#222" text-anchor="start" >CD40</text>
<rect x="519.6" y="386" width="12.6" height="13" fill="#377EB8"/>
<text x="534.80" y="395.60" font-size="8.5" font-weight="normal" fill="#222" text-anchor="start" >CD86</text>
<rect x="519.6" y="399" width="12.6" height="13" fill="#4DAF4A"/>
<text x="534.80" y="408.60" font-size="8.5" font-weight="normal" fill="#222" text-anchor="start" >HLA-DR</text>
<text x="46.70" y="442.80" font-size="9.4" font-weight="bold" fill="#000" text-anchor="start" >Soluble</text>
<line x1="43.9" y1="458" x2="43.9" y2="526.2" stroke="#222" stroke-width="0.8"/>
<line x1="43.9" y1="526.2" x2="146" y2="526.2" stroke="#222" stroke-width="0.8"/>
<line x1="41.1" y1="458.00" x2="43.9" y2="458.00" stroke="#222" stroke-width="0.6"/>
<text x="40.40" y="459.50" font-size="4.6" font-weight="bold" fill="#222" text-anchor="end" >80</text>
<line x1="41.1" y1="475.05" x2="43.9" y2="475.05" stroke="#222" stroke-width="0.6"/>
<text x="40.40" y="476.55" font-size="4.6" font-weight="bold" fill="#222" text-anchor="end" >60</text>
<line x1="41.1" y1="492.10" x2="43.9" y2="492.10" stroke="#222" stroke-width="0.6"/>
<text x="40.40" y="493.60" font-size="4.6" font-weight="bold" fill="#222" text-anchor="end" >40</text>
<line x1="41.1" y1="509.15" x2="43.9" y2="509.15" stroke="#222" stroke-width="0.6"/>
<text x="40.40" y="510.65" font-size="4.6" font-weight="bold" fill="#222" text-anchor="end" >20</text>
<line x1="41.1" y1="526.20" x2="43.9" y2="526.20" stroke="#222" stroke-width="0.6"/>
<text x="40.40" y="527.70" font-size="4.6" font-weight="bold" fill="#222" text-anchor="end" >0</text>
<line x1="67.70" y1="526.2" x2="67.70" y2="528.4000000000001" stroke="#222" stroke-width="0.6"/>
<line x1="87.10" y1="526.2" x2="87.10" y2="528.4000000000001" stroke="#222" stroke-width="0.6"/>
<line x1="106.70" y1="526.2" x2="106.70" y2="528.4000000000001" stroke="#222" stroke-width="0.6"/>
<line x1="126.10" y1="526.2" x2="126.10" y2="528.4000000000001" stroke="#222" stroke-width="0.6"/>
<line x1="146.00" y1="526.2" x2="146.00" y2="528.4000000000001" stroke="#222" stroke-width="0.6"/>
<line x1="73.52" y1="526.2" x2="73.52" y2="527.4000000000001" stroke="#444" stroke-width="0.4"/>
<line x1="77.01" y1="526.2" x2="77.01" y2="527.4000000000001" stroke="#444" stroke-width="0.4"/>
<line x1="79.73" y1="526.2" x2="79.73" y2="527.4000000000001" stroke="#444" stroke-width="0.4"/>
<line x1="81.67" y1="526.2" x2="81.67" y2="527.4000000000001" stroke="#444" stroke-width="0.4"/>
<line x1="83.22" y1="526.2" x2="83.22" y2="527.4000000000001" stroke="#444" stroke-width="0.4"/>
<line x1="84.58" y1="526.2" x2="84.58" y2="527.4000000000001" stroke="#444" stroke-width="0.4"/>
<line x1="85.74" y1="526.2" x2="85.74" y2="527.4000000000001" stroke="#444" stroke-width="0.4"/>
<line x1="92.98" y1="526.2" x2="92.98" y2="527.4000000000001" stroke="#444" stroke-width="0.4"/>
<line x1="96.51" y1="526.2" x2="96.51" y2="527.4000000000001" stroke="#444" stroke-width="0.4"/>
<line x1="99.25" y1="526.2" x2="99.25" y2="527.4000000000001" stroke="#444" stroke-width="0.4"/>
<line x1="101.21" y1="526.2" x2="101.21" y2="527.4000000000001" stroke="#444" stroke-width="0.4"/>
<line x1="102.78" y1="526.2" x2="102.78" y2="527.4000000000001" stroke="#444" stroke-width="0.4"/>
<line x1="104.15" y1="526.2" x2="104.15" y2="527.4000000000001" stroke="#444" stroke-width="0.4"/>
<line x1="105.33" y1="526.2" x2="105.33" y2="527.4000000000001" stroke="#444" stroke-width="0.4"/>
<line x1="112.52" y1="526.2" x2="112.52" y2="527.4000000000001" stroke="#444" stroke-width="0.4"/>
<line x1="116.01" y1="526.2" x2="116.01" y2="527.4000000000001" stroke="#444" stroke-width="0.4"/>
<line x1="118.73" y1="526.2" x2="118.73" y2="527.4000000000001" stroke="#444" stroke-width="0.4"/>
<line x1="120.67" y1="526.2" x2="120.67" y2="527.4000000000001" stroke="#444" stroke-width="0.4"/>
<line x1="122.22" y1="526.2" x2="122.22" y2="527.4000000000001" stroke="#444" stroke-width="0.4"/>
<line x1="123.58" y1="526.2" x2="123.58" y2="527.4000000000001" stroke="#444" stroke-width="0.4"/>
<line x1="124.74" y1="526.2" x2="124.74" y2="527.4000000000001" stroke="#444" stroke-width="0.4"/>
<line x1="132.07" y1="526.2" x2="132.07" y2="527.4000000000001" stroke="#444" stroke-width="0.4"/>
<line x1="135.65" y1="526.2" x2="135.65" y2="527.4000000000001" stroke="#444" stroke-width="0.4"/>
<line x1="138.44" y1="526.2" x2="138.44" y2="527.4000000000001" stroke="#444" stroke-width="0.4"/>
<line x1="140.43" y1="526.2" x2="140.43" y2="527.4000000000001" stroke="#444" stroke-width="0.4"/>
<line x1="142.02" y1="526.2" x2="142.02" y2="527.4000000000001" stroke="#444" stroke-width="0.4"/>
<line x1="143.41" y1="526.2" x2="143.41" y2="527.4000000000001" stroke="#444" stroke-width="0.4"/>
<line x1="144.61" y1="526.2" x2="144.61" y2="527.4000000000001" stroke="#444" stroke-width="0.4"/>
<text x="0" y="0" transform="translate(19.5,492.5) scale(1.0,1) rotate(-90)" font-size="7.1" font-weight="bold" text-anchor="middle" fill="#111">monocytes HLA-DR</text>
<text x="0" y="0" transform="translate(29,492.5) scale(1.0,1) rotate(-90)" font-size="7.1" font-weight="bold" text-anchor="middle" fill="#111">(%POS)</text>
<text x="45.00" y="535.30" font-size="5.2" font-weight="bold" fill="#000" text-anchor="middle" >0</text>
<text x="95.80" y="535.30" font-size="5.5" font-weight="bold" fill="#000" text-anchor="middle" >Concentration</text>
<polygon points="65.4,541 146,535.1 146,541" fill="#000"/>
<text x="66.6" y="548" font-size="5.2" font-weight="bold" fill="#111">7.7x10<tspan dy="-2.18" font-size="3.74">-7</tspan></text>
<text x="135.5" y="548" font-size="5.2" font-weight="bold" fill="#111">10<tspan dy="-2.18" font-size="3.74">-3</tspan></text>
<polyline points="45.00,522.79 67.70,525.35 87.10,525.35 106.70,524.50 126.10,525.35 146.00,524.50" fill="none" stroke="#2F55A4" stroke-width="0.55" stroke-opacity="0.8"/>
<circle cx="45.00" cy="522.79" r="1.35" fill="#2F55A4"/>
<line x1="67.70" y1="525.35" x2="67.70" y2="523.64" stroke="#2F55A4" stroke-width="0.5" stroke-opacity="0.7"/><line x1="66.40" y1="523.64" x2="69.00" y2="523.64" stroke="#2F55A4" stroke-width="0.5" stroke-opacity="0.7"/>
<circle cx="67.70" cy="525.35" r="1.35" fill="#2F55A4"/>
<circle cx="87.10" cy="525.35" r="1.35" fill="#2F55A4"/>
<circle cx="106.70" cy="524.50" r="1.35" fill="#2F55A4"/>
<circle cx="126.10" cy="525.35" r="1.35" fill="#2F55A4"/>
<circle cx="146.00" cy="524.50" r="1.35" fill="#2F55A4"/>
<polyline points="45.00,522.79 67.70,525.35 87.10,524.92 106.70,521.94 126.10,508.30 146.00,498.92" fill="none" stroke="#7B52AB" stroke-width="0.55" stroke-opacity="0.55"/>
<circle cx="45.00" cy="522.79" r="1.35" fill="#7B52AB"/>
<line x1="67.70" y1="525.35" x2="67.70" y2="522.79" stroke="#7B52AB" stroke-width="0.5" stroke-opacity="0.7"/><line x1="66.40" y1="522.79" x2="69.00" y2="522.79" stroke="#7B52AB" stroke-width="0.5" stroke-opacity="0.7"/>
<circle cx="67.70" cy="525.35" r="1.35" fill="#7B52AB"/>
<circle cx="87.10" cy="524.92" r="1.35" fill="#7B52AB"/>
<line x1="106.70" y1="521.94" x2="106.70" y2="520.23" stroke="#7B52AB" stroke-width="0.5" stroke-opacity="0.7"/><line x1="105.40" y1="520.23" x2="108.00" y2="520.23" stroke="#7B52AB" stroke-width="0.5" stroke-opacity="0.7"/>
<circle cx="106.70" cy="521.94" r="1.35" fill="#7B52AB"/>
<line x1="126.10" y1="508.30" x2="126.10" y2="496.36" stroke="#7B52AB" stroke-width="0.5" stroke-opacity="0.7"/><line x1="124.80" y1="496.36" x2="127.40" y2="496.36" stroke="#7B52AB" stroke-width="0.5" stroke-opacity="0.7"/>
<circle cx="126.10" cy="508.30" r="1.35" fill="#7B52AB"/>
<line x1="146.00" y1="498.92" x2="146.00" y2="482.72" stroke="#7B52AB" stroke-width="0.5" stroke-opacity="0.7"/><line x1="144.70" y1="482.72" x2="147.30" y2="482.72" stroke="#7B52AB" stroke-width="0.5" stroke-opacity="0.7"/>
<circle cx="146.00" cy="498.92" r="1.35" fill="#7B52AB"/>
<polyline points="45.00,521.94 67.70,525.35 87.10,524.50 106.70,516.82 126.10,506.59 146.00,507.45" fill="none" stroke="#E8232A" stroke-width="0.55" stroke-opacity="0.8"/>
<line x1="45.00" y1="521.94" x2="45.00" y2="515.12" stroke="#E8232A" stroke-width="0.5" stroke-opacity="0.7"/><line x1="43.70" y1="515.12" x2="46.30" y2="515.12" stroke="#E8232A" stroke-width="0.5" stroke-opacity="0.7"/>
<circle cx="45.00" cy="521.94" r="1.35" fill="#E8232A"/>
<line x1="67.70" y1="525.35" x2="67.70" y2="523.64" stroke="#E8232A" stroke-width="0.5" stroke-opacity="0.7"/><line x1="66.40" y1="523.64" x2="69.00" y2="523.64" stroke="#E8232A" stroke-width="0.5" stroke-opacity="0.7"/>
<circle cx="67.70" cy="525.35" r="1.35" fill="#E8232A"/>
<line x1="87.10" y1="524.50" x2="87.10" y2="523.64" stroke="#E8232A" stroke-width="0.5" stroke-opacity="0.7"/><line x1="85.80" y1="523.64" x2="88.40" y2="523.64" stroke="#E8232A" stroke-width="0.5" stroke-opacity="0.7"/>
<circle cx="87.10" cy="524.50" r="1.35" fill="#E8232A"/>
<line x1="106.70" y1="516.82" x2="106.70" y2="507.44" stroke="#E8232A" stroke-width="0.5" stroke-opacity="0.7"/><line x1="105.40" y1="507.44" x2="108.00" y2="507.44" stroke="#E8232A" stroke-width="0.5" stroke-opacity="0.7"/>
<circle cx="106.70" cy="516.82" r="1.35" fill="#E8232A"/>
<line x1="126.10" y1="506.59" x2="126.10" y2="491.25" stroke="#E8232A" stroke-width="0.5" stroke-opacity="0.7"/><line x1="124.80" y1="491.25" x2="127.40" y2="491.25" stroke="#E8232A" stroke-width="0.5" stroke-opacity="0.7"/>
<circle cx="126.10" cy="506.59" r="1.35" fill="#E8232A"/>
<circle cx="146.00" cy="507.45" r="1.35" fill="#E8232A"/>
<line x1="53.5" y1="463.9" x2="58.5" y2="463.9" stroke="#E8232A" stroke-width="0.6"/><circle cx="56" cy="463.9" r="1.35" fill="#E8232A"/>
<text x="63.60" y="466.00" font-size="6.3" font-weight="bold" fill="#111" text-anchor="start" >MPLA</text>
<line x1="53.5" y1="473.59999999999997" x2="58.5" y2="473.59999999999997" stroke="#7B52AB" stroke-width="0.6"/><circle cx="56" cy="473.59999999999997" r="1.35" fill="#7B52AB"/>
<text x="63.60" y="475.70" font-size="6.3" font-weight="bold" fill="#111" text-anchor="start" >MPLA+QS-21</text>
<line x1="53.5" y1="483.29999999999995" x2="58.5" y2="483.29999999999995" stroke="#2F55A4" stroke-width="0.6"/><circle cx="56" cy="483.29999999999995" r="1.35" fill="#2F55A4"/>
<text x="63.60" y="485.40" font-size="6.3" font-weight="bold" fill="#111" text-anchor="start" >QS-21</text>
<text x="146.50" y="479.40" font-size="6" font-weight="bold" fill="#7B52AB" text-anchor="middle" >***</text>
<text x="126.80" y="487.50" font-size="6" font-weight="bold" fill="#E8232A" text-anchor="middle" >***</text>
<text x="126.80" y="489.90" font-size="6" font-weight="bold" fill="#7B52AB" text-anchor="middle" >***</text>
<text x="146.50" y="496.90" font-size="6" font-weight="bold" fill="#E8232A" text-anchor="middle" >***</text>
<line x1="149.5" y1="497.7" x2="149.5" y2="523.4" stroke="#333" stroke-width="0.6"/>
<line x1="153" y1="497.7" x2="153" y2="523.4" stroke="#333" stroke-width="0.6"/>
<line x1="155.8" y1="497.7" x2="155.8" y2="523.4" stroke="#333" stroke-width="0.6"/>
<text x="0" y="0" transform="translate(154.10000000000002,513) rotate(-90)" font-size="5.5" font-weight="bold" text-anchor="middle" fill="#333">***</text>
<text x="0" y="0" transform="translate(157.60000000000002,513) rotate(-90)" font-size="5.5" font-weight="bold" text-anchor="middle" fill="#333">***</text>
<text x="195.50" y="449.20" font-size="9.4" font-weight="bold" fill="#000" text-anchor="start" >LNP</text>
<line x1="192.7" y1="458" x2="192.7" y2="525.8" stroke="#222" stroke-width="0.8"/>
<line x1="192.7" y1="525.8" x2="293.7" y2="525.8" stroke="#222" stroke-width="0.8"/>
<line x1="189.89999999999998" y1="458.00" x2="192.7" y2="458.00" stroke="#222" stroke-width="0.6"/>
<text x="189.20" y="459.50" font-size="4.6" font-weight="bold" fill="#222" text-anchor="end" >80</text>
<line x1="189.89999999999998" y1="474.95" x2="192.7" y2="474.95" stroke="#222" stroke-width="0.6"/>
<text x="189.20" y="476.45" font-size="4.6" font-weight="bold" fill="#222" text-anchor="end" >60</text>
<line x1="189.89999999999998" y1="491.90" x2="192.7" y2="491.90" stroke="#222" stroke-width="0.6"/>
<text x="189.20" y="493.40" font-size="4.6" font-weight="bold" fill="#222" text-anchor="end" >40</text>
<line x1="189.89999999999998" y1="508.85" x2="192.7" y2="508.85" stroke="#222" stroke-width="0.6"/>
<text x="189.20" y="510.35" font-size="4.6" font-weight="bold" fill="#222" text-anchor="end" >20</text>
<line x1="189.89999999999998" y1="525.80" x2="192.7" y2="525.80" stroke="#222" stroke-width="0.6"/>
<text x="189.20" y="527.30" font-size="4.6" font-weight="bold" fill="#222" text-anchor="end" >0</text>
<line x1="216.60" y1="525.8" x2="216.60" y2="528.0" stroke="#222" stroke-width="0.6"/>
<line x1="236.00" y1="525.8" x2="236.00" y2="528.0" stroke="#222" stroke-width="0.6"/>
<line x1="255.10" y1="525.8" x2="255.10" y2="528.0" stroke="#222" stroke-width="0.6"/>
<line x1="275.00" y1="525.8" x2="275.00" y2="528.0" stroke="#222" stroke-width="0.6"/>
<line x1="293.70" y1="525.8" x2="293.70" y2="528.0" stroke="#222" stroke-width="0.6"/>
<line x1="222.42" y1="525.8" x2="222.42" y2="527.0" stroke="#444" stroke-width="0.4"/>
<line x1="225.91" y1="525.8" x2="225.91" y2="527.0" stroke="#444" stroke-width="0.4"/>
<line x1="228.63" y1="525.8" x2="228.63" y2="527.0" stroke="#444" stroke-width="0.4"/>
<line x1="230.57" y1="525.8" x2="230.57" y2="527.0" stroke="#444" stroke-width="0.4"/>
<line x1="232.12" y1="525.8" x2="232.12" y2="527.0" stroke="#444" stroke-width="0.4"/>
<line x1="233.48" y1="525.8" x2="233.48" y2="527.0" stroke="#444" stroke-width="0.4"/>
<line x1="234.64" y1="525.8" x2="234.64" y2="527.0" stroke="#444" stroke-width="0.4"/>
<line x1="241.73" y1="525.8" x2="241.73" y2="527.0" stroke="#444" stroke-width="0.4"/>
<line x1="245.17" y1="525.8" x2="245.17" y2="527.0" stroke="#444" stroke-width="0.4"/>
<line x1="247.84" y1="525.8" x2="247.84" y2="527.0" stroke="#444" stroke-width="0.4"/>
<line x1="249.75" y1="525.8" x2="249.75" y2="527.0" stroke="#444" stroke-width="0.4"/>
<line x1="251.28" y1="525.8" x2="251.28" y2="527.0" stroke="#444" stroke-width="0.4"/>
<line x1="252.62" y1="525.8" x2="252.62" y2="527.0" stroke="#444" stroke-width="0.4"/>
<line x1="253.76" y1="525.8" x2="253.76" y2="527.0" stroke="#444" stroke-width="0.4"/>
<line x1="261.07" y1="525.8" x2="261.07" y2="527.0" stroke="#444" stroke-width="0.4"/>
<line x1="264.65" y1="525.8" x2="264.65" y2="527.0" stroke="#444" stroke-width="0.4"/>
<line x1="267.44" y1="525.8" x2="267.44" y2="527.0" stroke="#444" stroke-width="0.4"/>
<line x1="269.43" y1="525.8" x2="269.43" y2="527.0" stroke="#444" stroke-width="0.4"/>
<line x1="271.02" y1="525.8" x2="271.02" y2="527.0" stroke="#444" stroke-width="0.4"/>
<line x1="272.41" y1="525.8" x2="272.41" y2="527.0" stroke="#444" stroke-width="0.4"/>
<line x1="273.61" y1="525.8" x2="273.61" y2="527.0" stroke="#444" stroke-width="0.4"/>
<line x1="280.61" y1="525.8" x2="280.61" y2="527.0" stroke="#444" stroke-width="0.4"/>
<line x1="283.98" y1="525.8" x2="283.98" y2="527.0" stroke="#444" stroke-width="0.4"/>
<line x1="286.59" y1="525.8" x2="286.59" y2="527.0" stroke="#444" stroke-width="0.4"/>
<line x1="288.46" y1="525.8" x2="288.46" y2="527.0" stroke="#444" stroke-width="0.4"/>
<line x1="289.96" y1="525.8" x2="289.96" y2="527.0" stroke="#444" stroke-width="0.4"/>
<line x1="291.27" y1="525.8" x2="291.27" y2="527.0" stroke="#444" stroke-width="0.4"/>
<line x1="292.39" y1="525.8" x2="292.39" y2="527.0" stroke="#444" stroke-width="0.4"/>
<text x="0" y="0" transform="translate(170.8,492.5) scale(1.0,1) rotate(-90)" font-size="7.1" font-weight="bold" text-anchor="middle" fill="#111">monocytes HLA-DR</text>
<text x="0" y="0" transform="translate(180.5,492.5) scale(1.0,1) rotate(-90)" font-size="7.1" font-weight="bold" text-anchor="middle" fill="#111">(%POS)</text>
<text x="193.20" y="535.30" font-size="5.2" font-weight="bold" fill="#000" text-anchor="middle" >0</text>
<text x="244.60" y="535.30" font-size="5.5" font-weight="bold" fill="#000" text-anchor="middle" >Concentration</text>
<polygon points="213,539.8 293.7,534 293.7,539.8" fill="#000"/>
<text x="214" y="548" font-size="5.2" font-weight="bold" fill="#111">7.7x10<tspan dy="-2.18" font-size="3.74">-6</tspan></text>
<text x="283" y="548" font-size="5.2" font-weight="bold" fill="#111">10<tspan dy="-2.18" font-size="3.74">-2</tspan></text>
<polyline points="193.20,523.26 216.60,525.38 236.00,523.26 255.10,524.10 275.00,524.10 293.70,523.26" fill="none" stroke="#2F55A4" stroke-width="0.55" stroke-opacity="0.8"/>
<circle cx="193.20" cy="523.26" r="1.35" fill="#2F55A4"/>
<circle cx="216.60" cy="525.38" r="1.35" fill="#2F55A4"/>
<circle cx="236.00" cy="523.26" r="1.35" fill="#2F55A4"/>
<circle cx="255.10" cy="524.10" r="1.35" fill="#2F55A4"/>
<circle cx="275.00" cy="524.10" r="1.35" fill="#2F55A4"/>
<circle cx="293.70" cy="523.26" r="1.35" fill="#2F55A4"/>
<polyline points="193.20,523.26 216.60,524.95 236.00,524.10 255.10,523.26 275.00,523.26 293.70,519.87" fill="none" stroke="#E8232A" stroke-width="0.55" stroke-opacity="0.8"/>
<circle cx="193.20" cy="523.26" r="1.35" fill="#E8232A"/>
<circle cx="216.60" cy="524.95" r="1.35" fill="#E8232A"/>
<circle cx="236.00" cy="524.10" r="1.35" fill="#E8232A"/>
<circle cx="255.10" cy="523.26" r="1.35" fill="#E8232A"/>
<circle cx="275.00" cy="523.26" r="1.35" fill="#E8232A"/>
<circle cx="293.70" cy="519.87" r="1.35" fill="#E8232A"/>
<polyline points="193.20,523.26 216.60,524.95 236.00,522.41 255.10,522.41 275.00,521.56 293.70,519.02" fill="none" stroke="#7B52AB" stroke-width="0.55" stroke-opacity="0.55"/>
<line x1="193.20" y1="523.26" x2="193.20" y2="521.56" stroke="#7B52AB" stroke-width="0.5" stroke-opacity="0.7"/><line x1="191.90" y1="521.56" x2="194.50" y2="521.56" stroke="#7B52AB" stroke-width="0.5" stroke-opacity="0.7"/>
<circle cx="193.20" cy="523.26" r="1.35" fill="#7B52AB"/>
<circle cx="216.60" cy="524.95" r="1.35" fill="#7B52AB"/>
<line x1="236.00" y1="522.41" x2="236.00" y2="520.71" stroke="#7B52AB" stroke-width="0.5" stroke-opacity="0.7"/><line x1="234.70" y1="520.71" x2="237.30" y2="520.71" stroke="#7B52AB" stroke-width="0.5" stroke-opacity="0.7"/>
<circle cx="236.00" cy="522.41" r="1.35" fill="#7B52AB"/>
<line x1="255.10" y1="522.41" x2="255.10" y2="518.17" stroke="#7B52AB" stroke-width="0.5" stroke-opacity="0.7"/><line x1="253.80" y1="518.17" x2="256.40" y2="518.17" stroke="#7B52AB" stroke-width="0.5" stroke-opacity="0.7"/>
<circle cx="255.10" cy="522.41" r="1.35" fill="#7B52AB"/>
<line x1="275.00" y1="521.56" x2="275.00" y2="516.48" stroke="#7B52AB" stroke-width="0.5" stroke-opacity="0.7"/><line x1="273.70" y1="516.48" x2="276.30" y2="516.48" stroke="#7B52AB" stroke-width="0.5" stroke-opacity="0.7"/>
<circle cx="275.00" cy="521.56" r="1.35" fill="#7B52AB"/>
<line x1="293.70" y1="519.02" x2="293.70" y2="513.09" stroke="#7B52AB" stroke-width="0.5" stroke-opacity="0.7"/><line x1="292.40" y1="513.09" x2="295.00" y2="513.09" stroke="#7B52AB" stroke-width="0.5" stroke-opacity="0.7"/>
<circle cx="293.70" cy="519.02" r="1.35" fill="#7B52AB"/>
<line x1="200.1" y1="461.0" x2="205.1" y2="461.0" stroke="#7B52AB" stroke-width="0.6"/><circle cx="202.6" cy="461.0" r="1.35" fill="#7B52AB"/>
<text x="210.20" y="463.10" font-size="6.3" font-weight="bold" fill="#111" text-anchor="start" >LMQ</text>
<line x1="200.1" y1="470.6" x2="205.1" y2="470.6" stroke="#E8232A" stroke-width="0.6"/><circle cx="202.6" cy="470.6" r="1.35" fill="#E8232A"/>
<text x="210.20" y="472.70" font-size="6.3" font-weight="bold" fill="#111" text-anchor="start" >LM</text>
<line x1="200.1" y1="480.2" x2="205.1" y2="480.2" stroke="#2F55A4" stroke-width="0.6"/><circle cx="202.6" cy="480.2" r="1.35" fill="#2F55A4"/>
<text x="210.20" y="482.30" font-size="6.3" font-weight="bold" fill="#111" text-anchor="start" >LQ</text>
<text x="323.90" y="451.00" font-size="9.4" font-weight="bold" fill="#000" text-anchor="start" >OIW</text>
<line x1="320.4" y1="457.6" x2="320.4" y2="525.3" stroke="#222" stroke-width="0.8"/>
<line x1="320.4" y1="525.3" x2="422.7" y2="525.3" stroke="#222" stroke-width="0.8"/>
<line x1="317.59999999999997" y1="457.60" x2="320.4" y2="457.60" stroke="#222" stroke-width="0.6"/>
<text x="316.90" y="459.10" font-size="4.6" font-weight="bold" fill="#222" text-anchor="end" >80</text>
<line x1="317.59999999999997" y1="474.52" x2="320.4" y2="474.52" stroke="#222" stroke-width="0.6"/>
<text x="316.90" y="476.02" font-size="4.6" font-weight="bold" fill="#222" text-anchor="end" >60</text>
<line x1="317.59999999999997" y1="491.45" x2="320.4" y2="491.45" stroke="#222" stroke-width="0.6"/>
<text x="316.90" y="492.95" font-size="4.6" font-weight="bold" fill="#222" text-anchor="end" >40</text>
<line x1="317.59999999999997" y1="508.38" x2="320.4" y2="508.38" stroke="#222" stroke-width="0.6"/>
<text x="316.90" y="509.88" font-size="4.6" font-weight="bold" fill="#222" text-anchor="end" >20</text>
<line x1="317.59999999999997" y1="525.30" x2="320.4" y2="525.30" stroke="#222" stroke-width="0.6"/>
<text x="316.90" y="526.80" font-size="4.6" font-weight="bold" fill="#222" text-anchor="end" >0</text>
<line x1="344.20" y1="525.3" x2="344.20" y2="527.5" stroke="#222" stroke-width="0.6"/>
<line x1="364.30" y1="525.3" x2="364.30" y2="527.5" stroke="#222" stroke-width="0.6"/>
<line x1="383.40" y1="525.3" x2="383.40" y2="527.5" stroke="#222" stroke-width="0.6"/>
<line x1="403.30" y1="525.3" x2="403.30" y2="527.5" stroke="#222" stroke-width="0.6"/>
<line x1="422.70" y1="525.3" x2="422.70" y2="527.5" stroke="#222" stroke-width="0.6"/>
<line x1="350.23" y1="525.3" x2="350.23" y2="526.5" stroke="#444" stroke-width="0.4"/>
<line x1="353.85" y1="525.3" x2="353.85" y2="526.5" stroke="#444" stroke-width="0.4"/>
<line x1="356.66" y1="525.3" x2="356.66" y2="526.5" stroke="#444" stroke-width="0.4"/>
<line x1="358.67" y1="525.3" x2="358.67" y2="526.5" stroke="#444" stroke-width="0.4"/>
<line x1="360.28" y1="525.3" x2="360.28" y2="526.5" stroke="#444" stroke-width="0.4"/>
<line x1="361.69" y1="525.3" x2="361.69" y2="526.5" stroke="#444" stroke-width="0.4"/>
<line x1="362.89" y1="525.3" x2="362.89" y2="526.5" stroke="#444" stroke-width="0.4"/>
<line x1="370.03" y1="525.3" x2="370.03" y2="526.5" stroke="#444" stroke-width="0.4"/>
<line x1="373.47" y1="525.3" x2="373.47" y2="526.5" stroke="#444" stroke-width="0.4"/>
<line x1="376.14" y1="525.3" x2="376.14" y2="526.5" stroke="#444" stroke-width="0.4"/>
<line x1="378.05" y1="525.3" x2="378.05" y2="526.5" stroke="#444" stroke-width="0.4"/>
<line x1="379.58" y1="525.3" x2="379.58" y2="526.5" stroke="#444" stroke-width="0.4"/>
<line x1="380.92" y1="525.3" x2="380.92" y2="526.5" stroke="#444" stroke-width="0.4"/>
<line x1="382.06" y1="525.3" x2="382.06" y2="526.5" stroke="#444" stroke-width="0.4"/>
<line x1="389.37" y1="525.3" x2="389.37" y2="526.5" stroke="#444" stroke-width="0.4"/>
<line x1="392.95" y1="525.3" x2="392.95" y2="526.5" stroke="#444" stroke-width="0.4"/>
<line x1="395.74" y1="525.3" x2="395.74" y2="526.5" stroke="#444" stroke-width="0.4"/>
<line x1="397.73" y1="525.3" x2="397.73" y2="526.5" stroke="#444" stroke-width="0.4"/>
<line x1="399.32" y1="525.3" x2="399.32" y2="526.5" stroke="#444" stroke-width="0.4"/>
<line x1="400.71" y1="525.3" x2="400.71" y2="526.5" stroke="#444" stroke-width="0.4"/>
<line x1="401.91" y1="525.3" x2="401.91" y2="526.5" stroke="#444" stroke-width="0.4"/>
<line x1="409.12" y1="525.3" x2="409.12" y2="526.5" stroke="#444" stroke-width="0.4"/>
<line x1="412.61" y1="525.3" x2="412.61" y2="526.5" stroke="#444" stroke-width="0.4"/>
<line x1="415.33" y1="525.3" x2="415.33" y2="526.5" stroke="#444" stroke-width="0.4"/>
<line x1="417.27" y1="525.3" x2="417.27" y2="526.5" stroke="#444" stroke-width="0.4"/>
<line x1="418.82" y1="525.3" x2="418.82" y2="526.5" stroke="#444" stroke-width="0.4"/>
<line x1="420.18" y1="525.3" x2="420.18" y2="526.5" stroke="#444" stroke-width="0.4"/>
<line x1="421.34" y1="525.3" x2="421.34" y2="526.5" stroke="#444" stroke-width="0.4"/>
<text x="0" y="0" transform="translate(309.1,492) scale(1.0,1) rotate(-90)" font-size="7.1" font-weight="bold" text-anchor="middle" fill="#111">monocytes HLA-DR</text>
<text x="322.20" y="535.30" font-size="5.2" font-weight="bold" fill="#000" text-anchor="middle" >0</text>
<text x="371.80" y="535.30" font-size="5.5" font-weight="bold" fill="#000" text-anchor="middle" >Concentration</text>
<polygon points="341.9,539.8 422,534 422,539.8" fill="#000"/>
<text x="341.9" y="548" font-size="5.2" font-weight="bold" fill="#111">7.7x10<tspan dy="-2.18" font-size="3.74">-6</tspan></text>
<text x="411.5" y="548" font-size="5.2" font-weight="bold" fill="#111">10<tspan dy="-2.18" font-size="3.74">-2</tspan></text>
<polyline points="322.20,523.61 344.20,524.45 364.30,523.61 383.40,523.61 403.30,521.91 422.70,520.22" fill="none" stroke="#808080" stroke-width="0.55" stroke-opacity="0.8"/>
<circle cx="322.20" cy="523.61" r="1.35" fill="#808080"/>
<circle cx="344.20" cy="524.45" r="1.35" fill="#808080"/>
<circle cx="364.30" cy="523.61" r="1.35" fill="#808080"/>
<circle cx="383.40" cy="523.61" r="1.35" fill="#808080"/>
<circle cx="403.30" cy="521.91" r="1.35" fill="#808080"/>
<circle cx="422.70" cy="520.22" r="1.35" fill="#808080"/>
<polyline points="322.20,523.61 344.20,524.45 364.30,519.38 383.40,521.91 403.30,517.68 422.70,516.84" fill="none" stroke="#2F55A4" stroke-width="0.55" stroke-opacity="0.8"/>
<circle cx="322.20" cy="523.61" r="1.35" fill="#2F55A4"/>
<circle cx="344.20" cy="524.45" r="1.35" fill="#2F55A4"/>
<circle cx="364.30" cy="519.38" r="1.35" fill="#2F55A4"/>
<line x1="383.40" y1="521.91" x2="383.40" y2="517.68" stroke="#2F55A4" stroke-width="0.5" stroke-opacity="0.7"/><line x1="382.10" y1="517.68" x2="384.70" y2="517.68" stroke="#2F55A4" stroke-width="0.5" stroke-opacity="0.7"/>
<circle cx="383.40" cy="521.91" r="1.35" fill="#2F55A4"/>
<line x1="403.30" y1="517.68" x2="403.30" y2="514.30" stroke="#2F55A4" stroke-width="0.5" stroke-opacity="0.7"/><line x1="402.00" y1="514.30" x2="404.60" y2="514.30" stroke="#2F55A4" stroke-width="0.5" stroke-opacity="0.7"/>
<circle cx="403.30" cy="517.68" r="1.35" fill="#2F55A4"/>
<line x1="422.70" y1="516.84" x2="422.70" y2="509.22" stroke="#2F55A4" stroke-width="0.5" stroke-opacity="0.7"/><line x1="421.40" y1="509.22" x2="424.00" y2="509.22" stroke="#2F55A4" stroke-width="0.5" stroke-opacity="0.7"/>
<circle cx="422.70" cy="516.84" r="1.35" fill="#2F55A4"/>
<polyline points="322.20,523.61 344.20,524.45 364.30,519.38 383.40,507.53 403.30,498.22 422.70,497.37" fill="none" stroke="#7B52AB" stroke-width="0.55" stroke-opacity="0.55"/>
<circle cx="322.20" cy="523.61" r="1.35" fill="#7B52AB"/>
<circle cx="344.20" cy="524.45" r="1.35" fill="#7B52AB"/>
<circle cx="364.30" cy="519.38" r="1.35" fill="#7B52AB"/>
<line x1="383.40" y1="507.53" x2="383.40" y2="497.37" stroke="#7B52AB" stroke-width="0.5" stroke-opacity="0.7"/><line x1="382.10" y1="497.37" x2="384.70" y2="497.37" stroke="#7B52AB" stroke-width="0.5" stroke-opacity="0.7"/>
<circle cx="383.40" cy="507.53" r="1.35" fill="#7B52AB"/>
<line x1="403.30" y1="498.22" x2="403.30" y2="478.76" stroke="#7B52AB" stroke-width="0.5" stroke-opacity="0.7"/><line x1="402.00" y1="478.76" x2="404.60" y2="478.76" stroke="#7B52AB" stroke-width="0.5" stroke-opacity="0.7"/>
<circle cx="403.30" cy="498.22" r="1.35" fill="#7B52AB"/>
<line x1="422.70" y1="497.37" x2="422.70" y2="471.99" stroke="#7B52AB" stroke-width="0.5" stroke-opacity="0.7"/><line x1="421.40" y1="471.99" x2="424.00" y2="471.99" stroke="#7B52AB" stroke-width="0.5" stroke-opacity="0.7"/>
<circle cx="422.70" cy="497.37" r="1.35" fill="#7B52AB"/>
<polyline points="322.20,523.61 344.20,522.76 364.30,518.53 383.40,507.53 403.30,504.14 422.70,493.99" fill="none" stroke="#E8232A" stroke-width="0.55" stroke-opacity="0.8"/>
<line x1="322.20" y1="523.61" x2="322.20" y2="521.07" stroke="#E8232A" stroke-width="0.5" stroke-opacity="0.7"/><line x1="320.90" y1="521.07" x2="323.50" y2="521.07" stroke="#E8232A" stroke-width="0.5" stroke-opacity="0.7"/>
<circle cx="322.20" cy="523.61" r="1.35" fill="#E8232A"/>
<line x1="344.20" y1="522.76" x2="344.20" y2="516.84" stroke="#E8232A" stroke-width="0.5" stroke-opacity="0.7"/><line x1="342.90" y1="516.84" x2="345.50" y2="516.84" stroke="#E8232A" stroke-width="0.5" stroke-opacity="0.7"/>
<circle cx="344.20" cy="522.76" r="1.35" fill="#E8232A"/>
<line x1="364.30" y1="518.53" x2="364.30" y2="510.07" stroke="#E8232A" stroke-width="0.5" stroke-opacity="0.7"/><line x1="363.00" y1="510.07" x2="365.60" y2="510.07" stroke="#E8232A" stroke-width="0.5" stroke-opacity="0.7"/>
<circle cx="364.30" cy="518.53" r="1.35" fill="#E8232A"/>
<line x1="383.40" y1="507.53" x2="383.40" y2="493.14" stroke="#E8232A" stroke-width="0.5" stroke-opacity="0.7"/><line x1="382.10" y1="493.14" x2="384.70" y2="493.14" stroke="#E8232A" stroke-width="0.5" stroke-opacity="0.7"/>
<circle cx="383.40" cy="507.53" r="1.35" fill="#E8232A"/>
<circle cx="403.30" cy="504.14" r="1.35" fill="#E8232A"/>
<line x1="422.70" y1="493.99" x2="422.70" y2="470.29" stroke="#E8232A" stroke-width="0.5" stroke-opacity="0.7"/><line x1="421.40" y1="470.29" x2="424.00" y2="470.29" stroke="#E8232A" stroke-width="0.5" stroke-opacity="0.7"/>
<circle cx="422.70" cy="493.99" r="1.35" fill="#E8232A"/>
<line x1="330.0" y1="463.4" x2="335.0" y2="463.4" stroke="#E8232A" stroke-width="0.6"/><circle cx="332.5" cy="463.4" r="1.35" fill="#E8232A"/>
<text x="340.10" y="465.50" font-size="6.3" font-weight="bold" fill="#111" text-anchor="start" >SM</text>
<line x1="330.0" y1="472.9" x2="335.0" y2="472.9" stroke="#7B52AB" stroke-width="0.6"/><circle cx="332.5" cy="472.9" r="1.35" fill="#7B52AB"/>
<text x="340.10" y="475.00" font-size="6.3" font-weight="bold" fill="#111" text-anchor="start" >SMQ</text>
<line x1="330.0" y1="482.4" x2="335.0" y2="482.4" stroke="#2F55A4" stroke-width="0.6"/><circle cx="332.5" cy="482.4" r="1.35" fill="#2F55A4"/>
<text x="340.10" y="484.50" font-size="6.3" font-weight="bold" fill="#111" text-anchor="start" >SQ</text>
<line x1="330.0" y1="491.9" x2="335.0" y2="491.9" stroke="#808080" stroke-width="0.6"/><circle cx="332.5" cy="491.9" r="1.35" fill="#808080"/>
<text x="340.10" y="494.00" font-size="6.3" font-weight="bold" fill="#111" text-anchor="start" >SWE</text>
<text x="384.60" y="488.40" font-size="6" font-weight="bold" fill="#E8232A" text-anchor="middle" >***</text>
<text x="384.60" y="491.80" font-size="6" font-weight="bold" fill="#7B52AB" text-anchor="middle" >***</text>
<text x="403.30" y="477.30" font-size="6" font-weight="bold" fill="#7B52AB" text-anchor="middle" >***</text>
<text x="403.30" y="494.10" font-size="6" font-weight="bold" fill="#E8232A" text-anchor="middle" >***</text>
<text x="422.70" y="463.70" font-size="6" font-weight="bold" fill="#E8232A" text-anchor="middle" >***</text>
<text x="422.70" y="466.90" font-size="6" font-weight="bold" fill="#7B52AB" text-anchor="middle" >**</text>
<line x1="425.5" y1="493.5" x2="425.5" y2="521" stroke="#333" stroke-width="0.6"/>
<line x1="429" y1="493.5" x2="429" y2="521" stroke="#333" stroke-width="0.6"/>
<line x1="433" y1="493.5" x2="433" y2="521" stroke="#333" stroke-width="0.6"/>
<line x1="436.7" y1="493.5" x2="436.7" y2="521" stroke="#333" stroke-width="0.6"/>
<text x="0" y="0" transform="translate(431.1,508.3) rotate(-90)" font-size="5.5" font-weight="bold" text-anchor="middle" fill="#333">***</text>
<text x="0" y="0" transform="translate(435.1,508.3) rotate(-90)" font-size="5.5" font-weight="bold" text-anchor="middle" fill="#333">***</text>
<text x="0" y="0" transform="translate(438.6,508.3) rotate(-90)" font-size="5.5" font-weight="bold" text-anchor="middle" fill="#333">***</text>
<text x="0" y="0" transform="translate(442.1,508.3) rotate(-90)" font-size="5.5" font-weight="bold" text-anchor="middle" fill="#333">***</text>
<text x="467.60" y="455.20" font-size="9.4" font-weight="bold" fill="#000" text-anchor="start" >Other</text>
<line x1="465.2" y1="463.4" x2="465.2" y2="527.6" stroke="#222" stroke-width="0.8"/>
<line x1="465.2" y1="527.6" x2="561.5" y2="527.6" stroke="#222" stroke-width="0.8"/>
<line x1="462.4" y1="463.40" x2="465.2" y2="463.40" stroke="#222" stroke-width="0.6"/>
<text x="461.70" y="464.90" font-size="4.6" font-weight="bold" fill="#222" text-anchor="end" >80</text>
<line x1="462.4" y1="479.45" x2="465.2" y2="479.45" stroke="#222" stroke-width="0.6"/>
<text x="461.70" y="480.95" font-size="4.6" font-weight="bold" fill="#222" text-anchor="end" >60</text>
<line x1="462.4" y1="495.50" x2="465.2" y2="495.50" stroke="#222" stroke-width="0.6"/>
<text x="461.70" y="497.00" font-size="4.6" font-weight="bold" fill="#222" text-anchor="end" >40</text>
<line x1="462.4" y1="511.55" x2="465.2" y2="511.55" stroke="#222" stroke-width="0.6"/>
<text x="461.70" y="513.05" font-size="4.6" font-weight="bold" fill="#222" text-anchor="end" >20</text>
<line x1="462.4" y1="527.60" x2="465.2" y2="527.60" stroke="#222" stroke-width="0.6"/>
<text x="461.70" y="529.10" font-size="4.6" font-weight="bold" fill="#222" text-anchor="end" >0</text>
<line x1="483.20" y1="527.6" x2="483.20" y2="529.8000000000001" stroke="#222" stroke-width="0.6"/>
<line x1="497.90" y1="527.6" x2="497.90" y2="529.8000000000001" stroke="#222" stroke-width="0.6"/>
<line x1="502.60" y1="527.6" x2="502.60" y2="529.8000000000001" stroke="#222" stroke-width="0.6"/>
<line x1="512.40" y1="527.6" x2="512.40" y2="529.8000000000001" stroke="#222" stroke-width="0.6"/>
<line x1="517.10" y1="527.6" x2="517.10" y2="529.8000000000001" stroke="#222" stroke-width="0.6"/>
<line x1="527.10" y1="527.6" x2="527.10" y2="529.8000000000001" stroke="#222" stroke-width="0.6"/>
<line x1="531.80" y1="527.6" x2="531.80" y2="529.8000000000001" stroke="#222" stroke-width="0.6"/>
<line x1="542.00" y1="527.6" x2="542.00" y2="529.8000000000001" stroke="#222" stroke-width="0.6"/>
<line x1="546.80" y1="527.6" x2="546.80" y2="529.8000000000001" stroke="#222" stroke-width="0.6"/>
<line x1="561.50" y1="527.6" x2="561.50" y2="529.8000000000001" stroke="#222" stroke-width="0.6"/>
<line x1="487.61" y1="527.6" x2="487.61" y2="528.8000000000001" stroke="#444" stroke-width="0.4"/>
<line x1="490.26" y1="527.6" x2="490.26" y2="528.8000000000001" stroke="#444" stroke-width="0.4"/>
<line x1="492.31" y1="527.6" x2="492.31" y2="528.8000000000001" stroke="#444" stroke-width="0.4"/>
<line x1="493.78" y1="527.6" x2="493.78" y2="528.8000000000001" stroke="#444" stroke-width="0.4"/>
<line x1="494.96" y1="527.6" x2="494.96" y2="528.8000000000001" stroke="#444" stroke-width="0.4"/>
<line x1="495.99" y1="527.6" x2="495.99" y2="528.8000000000001" stroke="#444" stroke-width="0.4"/>
<line x1="496.87" y1="527.6" x2="496.87" y2="528.8000000000001" stroke="#444" stroke-width="0.4"/>
<line x1="499.31" y1="527.6" x2="499.31" y2="528.8000000000001" stroke="#444" stroke-width="0.4"/>
<line x1="500.16" y1="527.6" x2="500.16" y2="528.8000000000001" stroke="#444" stroke-width="0.4"/>
<line x1="500.81" y1="527.6" x2="500.81" y2="528.8000000000001" stroke="#444" stroke-width="0.4"/>
<line x1="501.28" y1="527.6" x2="501.28" y2="528.8000000000001" stroke="#444" stroke-width="0.4"/>
<line x1="501.66" y1="527.6" x2="501.66" y2="528.8000000000001" stroke="#444" stroke-width="0.4"/>
<line x1="501.99" y1="527.6" x2="501.99" y2="528.8000000000001" stroke="#444" stroke-width="0.4"/>
<line x1="502.27" y1="527.6" x2="502.27" y2="528.8000000000001" stroke="#444" stroke-width="0.4"/>
<line x1="505.54" y1="527.6" x2="505.54" y2="528.8000000000001" stroke="#444" stroke-width="0.4"/>
<line x1="507.30" y1="527.6" x2="507.30" y2="528.8000000000001" stroke="#444" stroke-width="0.4"/>
<line x1="508.68" y1="527.6" x2="508.68" y2="528.8000000000001" stroke="#444" stroke-width="0.4"/>
<line x1="509.66" y1="527.6" x2="509.66" y2="528.8000000000001" stroke="#444" stroke-width="0.4"/>
<line x1="510.44" y1="527.6" x2="510.44" y2="528.8000000000001" stroke="#444" stroke-width="0.4"/>
<line x1="511.13" y1="527.6" x2="511.13" y2="528.8000000000001" stroke="#444" stroke-width="0.4"/>
<line x1="511.71" y1="527.6" x2="511.71" y2="528.8000000000001" stroke="#444" stroke-width="0.4"/>
<line x1="513.81" y1="527.6" x2="513.81" y2="528.8000000000001" stroke="#444" stroke-width="0.4"/>
<line x1="514.66" y1="527.6" x2="514.66" y2="528.8000000000001" stroke="#444" stroke-width="0.4"/>
<line x1="515.31" y1="527.6" x2="515.31" y2="528.8000000000001" stroke="#444" stroke-width="0.4"/>
<line x1="515.78" y1="527.6" x2="515.78" y2="528.8000000000001" stroke="#444" stroke-width="0.4"/>
<line x1="516.16" y1="527.6" x2="516.16" y2="528.8000000000001" stroke="#444" stroke-width="0.4"/>
<line x1="516.49" y1="527.6" x2="516.49" y2="528.8000000000001" stroke="#444" stroke-width="0.4"/>
<line x1="516.77" y1="527.6" x2="516.77" y2="528.8000000000001" stroke="#444" stroke-width="0.4"/>
<line x1="520.10" y1="527.6" x2="520.10" y2="528.8000000000001" stroke="#444" stroke-width="0.4"/>
<line x1="521.90" y1="527.6" x2="521.90" y2="528.8000000000001" stroke="#444" stroke-width="0.4"/>
<line x1="523.30" y1="527.6" x2="523.30" y2="528.8000000000001" stroke="#444" stroke-width="0.4"/>
<line x1="524.30" y1="527.6" x2="524.30" y2="528.8000000000001" stroke="#444" stroke-width="0.4"/>
<line x1="525.10" y1="527.6" x2="525.10" y2="528.8000000000001" stroke="#444" stroke-width="0.4"/>
<line x1="525.80" y1="527.6" x2="525.80" y2="528.8000000000001" stroke="#444" stroke-width="0.4"/>
<line x1="526.40" y1="527.6" x2="526.40" y2="528.8000000000001" stroke="#444" stroke-width="0.4"/>
<line x1="528.51" y1="527.6" x2="528.51" y2="528.8000000000001" stroke="#444" stroke-width="0.4"/>
<line x1="529.36" y1="527.6" x2="529.36" y2="528.8000000000001" stroke="#444" stroke-width="0.4"/>
<line x1="530.01" y1="527.6" x2="530.01" y2="528.8000000000001" stroke="#444" stroke-width="0.4"/>
<line x1="530.48" y1="527.6" x2="530.48" y2="528.8000000000001" stroke="#444" stroke-width="0.4"/>
<line x1="530.86" y1="527.6" x2="530.86" y2="528.8000000000001" stroke="#444" stroke-width="0.4"/>
<line x1="531.19" y1="527.6" x2="531.19" y2="528.8000000000001" stroke="#444" stroke-width="0.4"/>
<line x1="531.47" y1="527.6" x2="531.47" y2="528.8000000000001" stroke="#444" stroke-width="0.4"/>
<line x1="534.86" y1="527.6" x2="534.86" y2="528.8000000000001" stroke="#444" stroke-width="0.4"/>
<line x1="536.70" y1="527.6" x2="536.70" y2="528.8000000000001" stroke="#444" stroke-width="0.4"/>
<line x1="538.12" y1="527.6" x2="538.12" y2="528.8000000000001" stroke="#444" stroke-width="0.4"/>
<line x1="539.14" y1="527.6" x2="539.14" y2="528.8000000000001" stroke="#444" stroke-width="0.4"/>
<line x1="539.96" y1="527.6" x2="539.96" y2="528.8000000000001" stroke="#444" stroke-width="0.4"/>
<line x1="540.67" y1="527.6" x2="540.67" y2="528.8000000000001" stroke="#444" stroke-width="0.4"/>
<line x1="541.29" y1="527.6" x2="541.29" y2="528.8000000000001" stroke="#444" stroke-width="0.4"/>
<line x1="543.44" y1="527.6" x2="543.44" y2="528.8000000000001" stroke="#444" stroke-width="0.4"/>
<line x1="544.30" y1="527.6" x2="544.30" y2="528.8000000000001" stroke="#444" stroke-width="0.4"/>
<line x1="544.98" y1="527.6" x2="544.98" y2="528.8000000000001" stroke="#444" stroke-width="0.4"/>
<line x1="545.46" y1="527.6" x2="545.46" y2="528.8000000000001" stroke="#444" stroke-width="0.4"/>
<line x1="545.84" y1="527.6" x2="545.84" y2="528.8000000000001" stroke="#444" stroke-width="0.4"/>
<line x1="546.18" y1="527.6" x2="546.18" y2="528.8000000000001" stroke="#444" stroke-width="0.4"/>
<line x1="546.46" y1="527.6" x2="546.46" y2="528.8000000000001" stroke="#444" stroke-width="0.4"/>
<line x1="551.21" y1="527.6" x2="551.21" y2="528.8000000000001" stroke="#444" stroke-width="0.4"/>
<line x1="553.86" y1="527.6" x2="553.86" y2="528.8000000000001" stroke="#444" stroke-width="0.4"/>
<line x1="555.91" y1="527.6" x2="555.91" y2="528.8000000000001" stroke="#444" stroke-width="0.4"/>
<line x1="557.38" y1="527.6" x2="557.38" y2="528.8000000000001" stroke="#444" stroke-width="0.4"/>
<line x1="558.56" y1="527.6" x2="558.56" y2="528.8000000000001" stroke="#444" stroke-width="0.4"/>
<line x1="559.59" y1="527.6" x2="559.59" y2="528.8000000000001" stroke="#444" stroke-width="0.4"/>
<line x1="560.47" y1="527.6" x2="560.47" y2="528.8000000000001" stroke="#444" stroke-width="0.4"/>
<text x="0" y="0" transform="translate(453.7,495) scale(1.0,1) rotate(-90)" font-size="7.1" font-weight="bold" text-anchor="middle" fill="#111">monocytes HLA-DR</text>
<text x="466.20" y="535.30" font-size="5.2" font-weight="bold" fill="#000" text-anchor="middle" >0</text>
<text x="513.60" y="535.30" font-size="5.5" font-weight="bold" fill="#000" text-anchor="middle" >Concentration</text>
<polygon points="485.5,541 561.5,535.1 561.5,541" fill="#000"/>
<text x="474.6" y="548" font-size="5.2" font-weight="bold" fill="#111">7.7x10<tspan dy="-2.18" font-size="3.74">-7</tspan></text>
<text x="551" y="548" font-size="5.2" font-weight="bold" fill="#111">10<tspan dy="-2.18" font-size="3.74">-3</tspan></text>
<polyline points="466.20,526.00 502.60,526.00 517.10,526.80 531.80,526.80 546.80,516.37 561.50,501.12" fill="none" stroke="#5CB83A" stroke-width="0.55" stroke-opacity="0.8"/>
<circle cx="466.20" cy="526.00" r="1.35" fill="#5CB83A"/>
<circle cx="502.60" cy="526.00" r="1.35" fill="#5CB83A"/>
<circle cx="517.10" cy="526.80" r="1.35" fill="#5CB83A"/>
<circle cx="531.80" cy="526.80" r="1.35" fill="#5CB83A"/>
<line x1="546.80" y1="516.37" x2="546.80" y2="509.94" stroke="#5CB83A" stroke-width="0.5" stroke-opacity="0.7"/><line x1="545.50" y1="509.94" x2="548.10" y2="509.94" stroke="#5CB83A" stroke-width="0.5" stroke-opacity="0.7"/>
<circle cx="546.80" cy="516.37" r="1.35" fill="#5CB83A"/>
<line x1="561.50" y1="501.12" x2="561.50" y2="487.48" stroke="#5CB83A" stroke-width="0.5" stroke-opacity="0.7"/><line x1="560.20" y1="487.48" x2="562.80" y2="487.48" stroke="#5CB83A" stroke-width="0.5" stroke-opacity="0.7"/>
<circle cx="561.50" cy="501.12" r="1.35" fill="#5CB83A"/>
<polyline points="466.20,526.00 502.60,526.80 517.10,525.19 531.80,518.77 546.80,506.74 561.50,506.74" fill="none" stroke="#3C7DC4" stroke-width="0.55" stroke-opacity="0.8"/>
<circle cx="466.20" cy="526.00" r="1.35" fill="#3C7DC4"/>
<circle cx="502.60" cy="526.80" r="1.35" fill="#3C7DC4"/>
<circle cx="517.10" cy="525.19" r="1.35" fill="#3C7DC4"/>
<line x1="531.80" y1="518.77" x2="531.80" y2="514.76" stroke="#3C7DC4" stroke-width="0.5" stroke-opacity="0.7"/><line x1="530.50" y1="514.76" x2="533.10" y2="514.76" stroke="#3C7DC4" stroke-width="0.5" stroke-opacity="0.7"/>
<circle cx="531.80" cy="518.77" r="1.35" fill="#3C7DC4"/>
<line x1="546.80" y1="506.74" x2="546.80" y2="499.51" stroke="#3C7DC4" stroke-width="0.5" stroke-opacity="0.7"/><line x1="545.50" y1="499.51" x2="548.10" y2="499.51" stroke="#3C7DC4" stroke-width="0.5" stroke-opacity="0.7"/>
<circle cx="546.80" cy="506.74" r="1.35" fill="#3C7DC4"/>
<circle cx="561.50" cy="506.74" r="1.35" fill="#3C7DC4"/>
<polyline points="466.20,524.39 483.20,524.39 497.90,526.80 512.40,526.80 527.10,526.80 542.00,526.80" fill="none" stroke="#B03AB0" stroke-width="0.55" stroke-opacity="0.8"/>
<line x1="466.20" y1="524.39" x2="466.20" y2="517.17" stroke="#B03AB0" stroke-width="0.5" stroke-opacity="0.7"/><line x1="464.90" y1="517.17" x2="467.50" y2="517.17" stroke="#B03AB0" stroke-width="0.5" stroke-opacity="0.7"/>
<circle cx="466.20" cy="524.39" r="1.35" fill="#B03AB0"/>
<line x1="483.20" y1="524.39" x2="483.20" y2="517.17" stroke="#B03AB0" stroke-width="0.5" stroke-opacity="0.7"/><line x1="481.90" y1="517.17" x2="484.50" y2="517.17" stroke="#B03AB0" stroke-width="0.5" stroke-opacity="0.7"/>
<circle cx="483.20" cy="524.39" r="1.35" fill="#B03AB0"/>
<circle cx="497.90" cy="526.80" r="1.35" fill="#B03AB0"/>
<circle cx="512.40" cy="526.80" r="1.35" fill="#B03AB0"/>
<circle cx="527.10" cy="526.80" r="1.35" fill="#B03AB0"/>
<circle cx="542.00" cy="526.80" r="1.35" fill="#B03AB0"/>
<polyline points="466.20,525.19 502.60,527.60 517.10,527.60 531.80,526.80 546.80,523.59 561.50,513.96" fill="none" stroke="#F07C22" stroke-width="0.55" stroke-opacity="0.8"/>
<circle cx="466.20" cy="525.19" r="1.35" fill="#F07C22"/>
<circle cx="502.60" cy="527.60" r="1.35" fill="#F07C22"/>
<circle cx="517.10" cy="527.60" r="1.35" fill="#F07C22"/>
<circle cx="531.80" cy="526.80" r="1.35" fill="#F07C22"/>
<line x1="546.80" y1="523.59" x2="546.80" y2="520.38" stroke="#F07C22" stroke-width="0.5" stroke-opacity="0.7"/><line x1="545.50" y1="520.38" x2="548.10" y2="520.38" stroke="#F07C22" stroke-width="0.5" stroke-opacity="0.7"/>
<circle cx="546.80" cy="523.59" r="1.35" fill="#F07C22"/>
<line x1="561.50" y1="513.96" x2="561.50" y2="509.14" stroke="#F07C22" stroke-width="0.5" stroke-opacity="0.7"/><line x1="560.20" y1="509.14" x2="562.80" y2="509.14" stroke="#F07C22" stroke-width="0.5" stroke-opacity="0.7"/>
<circle cx="561.50" cy="513.96" r="1.35" fill="#F07C22"/>
<line x1="472.1" y1="468.0" x2="477.1" y2="468.0" stroke="#F07C22" stroke-width="0.6"/><circle cx="474.6" cy="468.0" r="1.35" fill="#F07C22"/>
<text x="482.20" y="470.10" font-size="6.3" font-weight="bold" fill="#111" text-anchor="start" >dMLT</text>
<line x1="472.1" y1="477.3" x2="477.1" y2="477.3" stroke="#B03AB0" stroke-width="0.6"/><circle cx="474.6" cy="477.3" r="1.35" fill="#B03AB0"/>
<text x="482.20" y="479.40" font-size="6.3" font-weight="bold" fill="#111" text-anchor="start" >QS-7</text>
<line x1="472.1" y1="486.6" x2="477.1" y2="486.6" stroke="#3C7DC4" stroke-width="0.6"/><circle cx="474.6" cy="486.6" r="1.35" fill="#3C7DC4"/>
<text x="482.20" y="488.70" font-size="6.3" font-weight="bold" fill="#111" text-anchor="start" >AL</text>
<line x1="472.1" y1="495.9" x2="477.1" y2="495.9" stroke="#5CB83A" stroke-width="0.6"/><circle cx="474.6" cy="495.9" r="1.35" fill="#5CB83A"/>
<text x="482.20" y="498.00" font-size="6.3" font-weight="bold" fill="#111" text-anchor="start" >EM</text>
<text x="546.80" y="496.40" font-size="6" font-weight="bold" fill="#3C7DC4" text-anchor="middle" >***</text>
<text x="546.80" y="501.40" font-size="6" font-weight="bold" fill="#5CB83A" text-anchor="middle" >*</text>
<text x="561.50" y="486.90" font-size="6" font-weight="bold" fill="#5CB83A" text-anchor="middle" >***</text>
<text x="561.50" y="499.40" font-size="6" font-weight="bold" fill="#3C7DC4" text-anchor="middle" >***</text>
<text x="561.50" y="521.40" font-size="6" font-weight="bold" fill="#F07C22" text-anchor="middle" >**</text>
</svg></body></html>
